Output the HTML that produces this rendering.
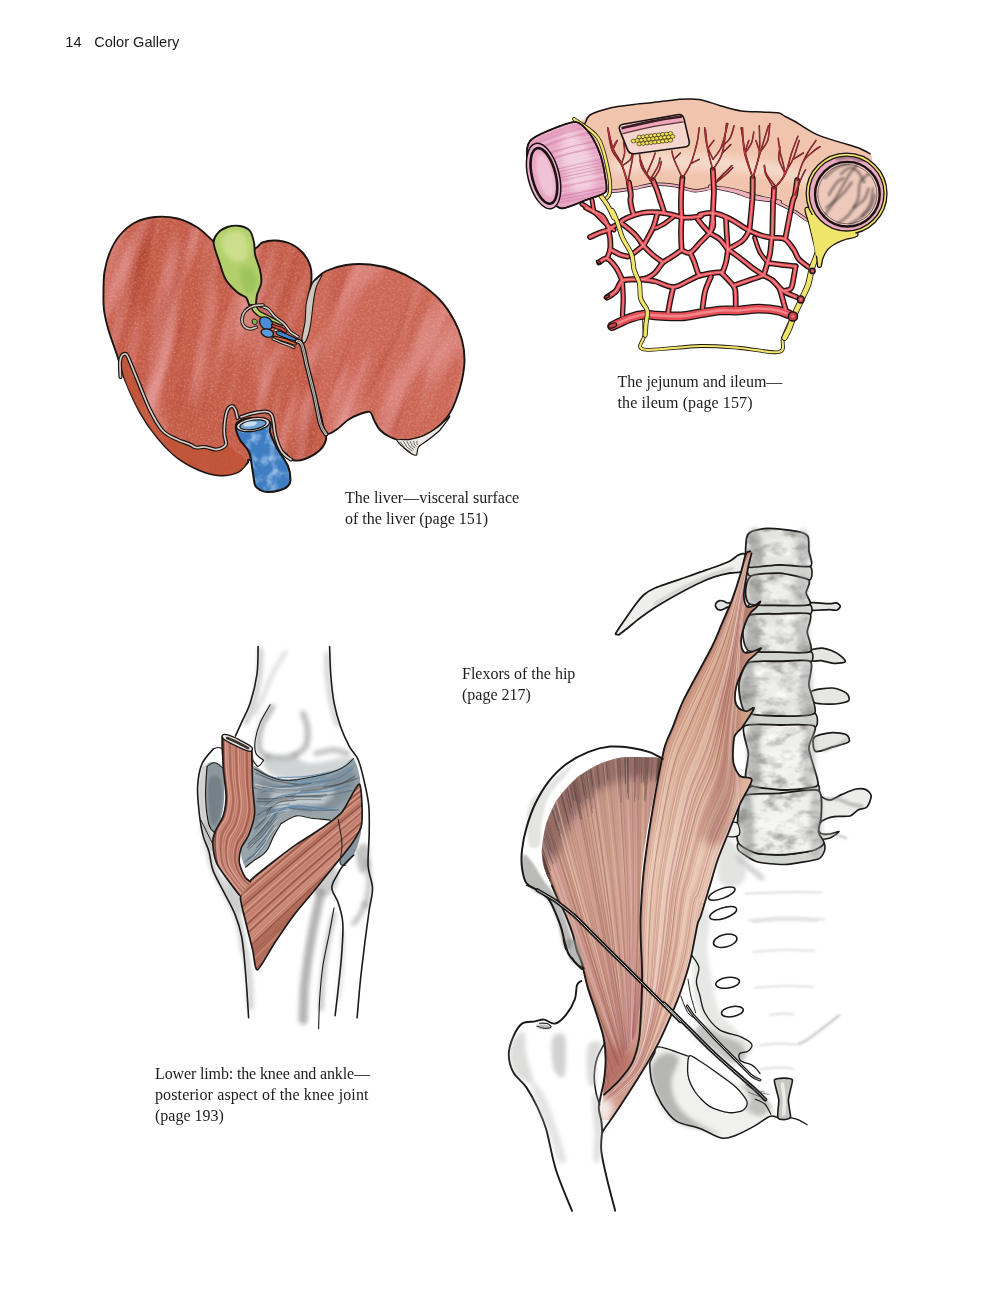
<!DOCTYPE html>
<html><head><meta charset="utf-8"><title>Color Gallery</title>
<style>html,body{margin:0;padding:0;background:#fff}svg{display:block}</style></head>
<body><svg width="1000" height="1294" viewBox="0 0 1000 1294">
<rect width="1000" height="1294" fill="#ffffff"/>
<!-- defs -->
<defs>
<filter id="mottle" x="0" y="0" width="100%" height="100%" color-interpolation-filters="sRGB">
  <feTurbulence type="fractalNoise" baseFrequency="0.045 0.008" numOctaves="2" seed="7" result="n"/>
  <feColorMatrix in="n" type="matrix" values="0 0 0 0 0.90  0 0 0 0 0.62  0 0 0 0 0.62  2.2 0 0 0 -1.0" result="light"/>
  <feColorMatrix in="n" type="matrix" values="0 0 0 0 0.66  0 0 0 0 0.22  0 0 0 0 0.15  0 -2.4 0 0 1.05" result="dark"/>
  <feTurbulence type="fractalNoise" baseFrequency="0.55" numOctaves="2" seed="3" result="g"/>
  <feColorMatrix in="g" type="matrix" values="0 0 0 0 1  0 0 0 0 0.8  0 0 0 0 0.72  0 0.9 0 0 -0.4" result="grain"/>
  <feMerge result="m"><feMergeNode in="SourceGraphic"/><feMergeNode in="dark"/><feMergeNode in="light"/><feMergeNode in="grain"/></feMerge>
  <feComposite in="m" in2="SourceGraphic" operator="in"/>
</filter>
<filter id="grain" x="0" y="0" width="100%" height="100%" color-interpolation-filters="sRGB">
  <feTurbulence type="fractalNoise" baseFrequency="0.09" numOctaves="3" seed="11" result="g"/>
  <feColorMatrix in="g" type="matrix" values="0 0 0 0 0.8  0 0 0 0 0.9  0 0 0 0 1  0 1.6 0 0 -0.7" result="grain"/>
  <feMerge result="m"><feMergeNode in="SourceGraphic"/><feMergeNode in="grain"/></feMerge>
  <feComposite in="m" in2="SourceGraphic" operator="in"/>
</filter>
<filter id="soft" x="-10%" y="-10%" width="120%" height="120%"><feGaussianBlur stdDeviation="2.2"/></filter>
<filter id="soft1" x="-10%" y="-10%" width="120%" height="120%"><feGaussianBlur stdDeviation="1.1"/></filter>
<filter id="soft4" x="-20%" y="-20%" width="140%" height="140%"><feGaussianBlur stdDeviation="4"/></filter>
<filter id="bonetex" x="0" y="0" width="100%" height="100%" color-interpolation-filters="sRGB">
  <feTurbulence type="fractalNoise" baseFrequency="0.06 0.09" numOctaves="3" seed="21" result="n"/>
  <feColorMatrix in="n" type="matrix" values="0 0 0 0 0.52  0 0 0 0 0.52  0 0 0 0 0.5  2.1 0 0 0 -0.93" result="dark"/>
  <feColorMatrix in="n" type="matrix" values="0 0 0 0 1  0 0 0 0 1  0 0 0 0 1  0 -2.6 0 0 1.15" result="light"/>
  <feMerge result="m"><feMergeNode in="SourceGraphic"/><feMergeNode in="dark"/><feMergeNode in="light"/></feMerge>
  <feComposite in="m" in2="SourceGraphic" operator="in"/>
</filter>
</defs>
<!-- liver -->
<clipPath id="lvL"><path d="M103.5 292C103.6 285.7 103.4 278.7 104.5 272C105.6 265.3 107.4 258.2 110 252C112.6 245.8 115.8 239.9 120 235C124.2 230.1 129.2 225.5 135 222.5C140.8 219.5 147.9 217.7 155 217C162.1 216.3 170.4 216.8 177.5 218.5C184.6 220.2 191.6 223.8 197.5 227.5C203.4 231.2 207.6 236.4 213 241C218.4 245.6 223.2 253.7 230 255C236.8 256.3 248.6 251.1 254 249C259.4 246.9 259 243.9 262.5 242.5C266 241.1 270.4 240.3 275 240.5C279.6 240.7 285.4 241.5 290 243.5C294.6 245.5 299.2 248.9 302.5 252.5C305.8 256.1 308.5 260.8 310 265C311.5 269.2 311.7 272.2 311.5 278C311.3 283.8 309.9 292.7 309 300C308.1 307.3 307 315.3 306 322C305 328.7 302.7 332 303 340C303.3 348 306 360 308 370C310 380 313 390.8 315 400C317 409.2 318.3 419.5 320 425C321.7 430.5 324 430.5 325 433C326 435.5 326.8 437.2 326 440C325.2 442.8 323.5 446.8 320 450C316.5 453.2 309.7 457.3 305 459C300.3 460.7 295.7 461 292 460C288.3 459 286.7 451.3 283 453C279.3 454.7 275.5 468.8 270 470C264.5 471.2 253.8 461.2 250 460C246.2 458.8 249.6 460.9 247.5 463C245.4 465.1 242.1 470.4 237.5 472.5C232.9 474.6 226.2 475.8 220 475.5C213.8 475.2 207.1 473.4 200 470.5C192.9 467.6 184.6 463.4 177.5 458C170.4 452.6 163.8 445.6 157.5 438C151.2 430.4 145.4 422.2 140 412.5C134.6 402.8 128.8 389.6 125 380C121.2 370.4 119.8 363.3 117 355C114.2 346.7 110.7 337.5 108.5 330C106.3 322.5 104.8 316.3 104 310C103.2 303.7 103.4 298.3 103.5 292Z"/></clipPath>
<g clip-path="url(#lvL)"><rect x="60" y="150" width="330" height="380" fill="#c25a47" filter="url(#mottle)" transform="rotate(14 210 340)"/></g>
<path d="M103.5 292C103.6 285.7 103.4 278.7 104.5 272C105.6 265.3 107.4 258.2 110 252C112.6 245.8 115.8 239.9 120 235C124.2 230.1 129.2 225.5 135 222.5C140.8 219.5 147.9 217.7 155 217C162.1 216.3 170.4 216.8 177.5 218.5C184.6 220.2 191.6 223.8 197.5 227.5C203.4 231.2 207.6 236.4 213 241C218.4 245.6 223.2 253.7 230 255C236.8 256.3 248.6 251.1 254 249C259.4 246.9 259 243.9 262.5 242.5C266 241.1 270.4 240.3 275 240.5C279.6 240.7 285.4 241.5 290 243.5C294.6 245.5 299.2 248.9 302.5 252.5C305.8 256.1 308.5 260.8 310 265C311.5 269.2 311.7 272.2 311.5 278C311.3 283.8 309.9 292.7 309 300C308.1 307.3 307 315.3 306 322C305 328.7 302.7 332 303 340C303.3 348 306 360 308 370C310 380 313 390.8 315 400C317 409.2 318.3 419.5 320 425C321.7 430.5 324 430.5 325 433C326 435.5 326.8 437.2 326 440C325.2 442.8 323.5 446.8 320 450C316.5 453.2 309.7 457.3 305 459C300.3 460.7 295.7 461 292 460C288.3 459 286.7 451.3 283 453C279.3 454.7 275.5 468.8 270 470C264.5 471.2 253.8 461.2 250 460C246.2 458.8 249.6 460.9 247.5 463C245.4 465.1 242.1 470.4 237.5 472.5C232.9 474.6 226.2 475.8 220 475.5C213.8 475.2 207.1 473.4 200 470.5C192.9 467.6 184.6 463.4 177.5 458C170.4 452.6 163.8 445.6 157.5 438C151.2 430.4 145.4 422.2 140 412.5C134.6 402.8 128.8 389.6 125 380C121.2 370.4 119.8 363.3 117 355C114.2 346.7 110.7 337.5 108.5 330C106.3 322.5 104.8 316.3 104 310C103.2 303.7 103.4 298.3 103.5 292Z" fill="none" stroke="#1a1412" stroke-width="1.9"/>
<path d="M121 357C121.2 352.7 123.2 350.2 126 354C128.8 357.8 133.5 370.7 137.5 380C141.5 389.3 145.8 401.7 150 410C154.2 418.3 155.8 424.3 162.5 430C169.2 435.7 181.2 440.8 190 444C198.8 447.2 209 448.8 215 449C221 449.2 222.5 444.5 226 445C229.5 445.5 232.7 449.2 236 452C239.3 454.8 245.8 458.7 246 462C246.2 465.3 241.8 469.8 237.5 472C233.2 474.2 226.2 475.3 220 475C213.8 474.7 207.1 472.9 200 470C192.9 467.1 184.6 462.9 177.5 457.5C170.4 452.1 163.8 445.1 157.5 437.5C151.2 429.9 145.4 421.6 140 412C134.6 402.4 128.2 389.2 125 380C121.8 370.8 120.8 361.3 121 357Z" fill="#bf5234" opacity="0.8"/>
<clipPath id="lvR"><path d="M316 279C318.5 276.5 321 273.3 326 271C331 268.7 338.7 266.1 346 265C353.3 263.9 362 263.7 370 264.5C378 265.3 386 267.1 394 270C402 272.9 410.3 277 418 282C425.7 287 434 293.7 440 300C446 306.3 450.3 313.3 454 320C457.7 326.7 460.2 333.3 462 340C463.8 346.7 464.5 353.3 464.5 360C464.5 366.7 463.4 373.3 462 380C460.6 386.7 458.3 394 456 400C453.7 406 451.7 411 448 416C444.3 421 439 426.3 434 430C429 433.7 423.3 436.2 418 438C412.7 439.8 406.7 440.7 402 440.5C397.3 440.3 393.7 438.8 390 437C386.3 435.2 382.7 432.8 380 430C377.3 427.2 375.7 423 374 420C372.3 417 372.3 413 370 412C367.7 411 363.7 412.7 360 414C356.3 415.3 352 417.3 348 420C344 422.7 339.7 427.8 336 430C332.3 432.2 328.5 435.8 326 433.5C323.5 431.2 322.9 422.9 321 416C319.1 409.1 316.6 399.7 314.5 392C312.4 384.3 310.4 376.7 308.5 370C306.6 363.3 304.2 356.7 303 352C301.8 347.3 301.2 345 301.5 342C301.8 339 303.5 337.7 304.5 334C305.5 330.3 306.8 325.7 307.5 320C308.2 314.3 307.9 305.7 308.5 300C309.1 294.3 309.8 289.5 311 286C312.2 282.5 313.5 281.5 316 279Z"/></clipPath>
<g clip-path="url(#lvR)"><rect x="250" y="200" width="270" height="300" fill="#ca6555" filter="url(#mottle)" transform="rotate(22 380 350)"/></g>
<path d="M316 279C318.5 276.5 321 273.3 326 271C331 268.7 338.7 266.1 346 265C353.3 263.9 362 263.7 370 264.5C378 265.3 386 267.1 394 270C402 272.9 410.3 277 418 282C425.7 287 434 293.7 440 300C446 306.3 450.3 313.3 454 320C457.7 326.7 460.2 333.3 462 340C463.8 346.7 464.5 353.3 464.5 360C464.5 366.7 463.4 373.3 462 380C460.6 386.7 458.3 394 456 400C453.7 406 451.7 411 448 416C444.3 421 439 426.3 434 430C429 433.7 423.3 436.2 418 438C412.7 439.8 406.7 440.7 402 440.5C397.3 440.3 393.7 438.8 390 437C386.3 435.2 382.7 432.8 380 430C377.3 427.2 375.7 423 374 420C372.3 417 372.3 413 370 412C367.7 411 363.7 412.7 360 414C356.3 415.3 352 417.3 348 420C344 422.7 339.7 427.8 336 430C332.3 432.2 328.5 435.8 326 433.5C323.5 431.2 322.9 422.9 321 416C319.1 409.1 316.6 399.7 314.5 392C312.4 384.3 310.4 376.7 308.5 370C306.6 363.3 304.2 356.7 303 352C301.8 347.3 301.2 345 301.5 342C301.8 339 303.5 337.7 304.5 334C305.5 330.3 306.8 325.7 307.5 320C308.2 314.3 307.9 305.7 308.5 300C309.1 294.3 309.8 289.5 311 286C312.2 282.5 313.5 281.5 316 279Z" fill="none" stroke="#1a1412" stroke-width="1.9"/>
<path d="M450 416C450.3 416.4 442.9 426.8 440 430C437.1 433.2 430.9 437.7 428 440C425.1 442.3 420 445 418.5 447C417 449 417.4 454.1 416.5 455C415.6 455.9 413.7 454.9 412 454C410.3 453.1 406 449.9 404 448C402 446.1 396.2 441.1 397 440C397.8 438.9 406.4 440.1 410 439.5C413.6 438.9 420.3 437.2 424 435.5C427.7 433.8 434.5 429.6 438 427C441.5 424.4 449.7 415.6 450 416Z" fill="#ece8e3" stroke="#1a1412" stroke-width="1.2"/>
<path d="M400 441.5 L404.9 448.2 L411 452.5" fill="none" stroke="#3a3430" stroke-width="0.7"/>
<path d="M403.4 441.4 L407.3 447.4 L412.4 451" fill="none" stroke="#3a3430" stroke-width="0.7"/>
<path d="M406.8 441.2 L409.7 446.6 L413.8 449.5" fill="none" stroke="#3a3430" stroke-width="0.7"/>
<path d="M410.2 441.1 L412.1 445.7 L415.2 448" fill="none" stroke="#3a3430" stroke-width="0.7"/>
<path d="M413.6 440.9 L414.5 444.9 L416.6 446.5" fill="none" stroke="#3a3430" stroke-width="0.7"/>
<path d="M417 440.8 L416.9 444.1 L418 445" fill="none" stroke="#3a3430" stroke-width="0.7"/>
<path d="M312 284C313.6 280.2 314.3 281 316 279.5C317.7 278 322 273.6 322 275C322 276.4 317.5 283 316 288C314.5 293 313.8 299.3 313 305C312.2 310.7 311.8 316.8 311 322C310.2 327.2 309.2 332.5 308 336C306.8 339.5 305 342.7 304 343C303 343.3 301.8 341.5 302 338C302.2 334.5 304.2 328 305 322C305.8 316 305.3 308.3 306.5 302C307.7 295.7 310.4 287.8 312 284Z" fill="#cfc6bd" stroke="#1a1412" stroke-width="1.1"/>
<path d="M297 341C297.8 341.7 300.2 340.5 302 345C303.8 349.5 305.4 359.5 307.5 368C309.6 376.5 312.3 386.7 314.5 396C316.7 405.3 318.6 417.7 320.5 424C322.4 430.3 325.1 432.3 326 434" fill="none" stroke="#1a1412" stroke-width="5" stroke-linecap="round"/>
<path d="M297 341C297.8 341.7 300.2 340.5 302 345C303.8 349.5 305.4 359.5 307.5 368C309.6 376.5 312.3 386.7 314.5 396C316.7 405.3 318.6 417.7 320.5 424C322.4 430.3 325.1 432.3 326 434" fill="none" stroke="#d6cfc7" stroke-width="2.4" stroke-linecap="round"/>
<path d="M297 341C297.8 341.7 300.2 340.5 302 345C303.8 349.5 305.4 359.5 307.5 368C309.6 376.5 312.3 386.7 314.5 396C316.7 405.3 318.6 417.7 320.5 424C322.4 430.3 325.1 432.3 326 434" fill="none" stroke="#1a1412" stroke-width="0.5"/>
<path d="M120.5 377C120.4 374.5 119.8 365.6 120 362C120.2 358.4 120.9 356.8 122 355.5C123.1 354.2 125 353.1 126.5 354.5C128 355.9 129.2 359.8 131 364C132.8 368.2 134.3 372.3 137.5 380C140.7 387.7 145.8 401.6 150 410C154.2 418.4 158.2 425.7 162.5 430.5C166.8 435.3 171.4 436.7 176 439C180.6 441.3 186.7 443.1 190 444.5C193.3 445.9 193.5 447.1 196 447.5C198.5 447.9 201.8 446.7 205 447C208.2 447.3 212.2 449.3 215 449.5C217.8 449.7 220.2 448.9 222 448C223.8 447.1 225.6 446.2 226 444C226.4 441.8 224.8 438.2 224.5 435C224.2 431.8 224.1 429 224.5 425C224.9 421 225.8 414.2 227 411C228.2 407.8 230.6 406.2 232 406C233.4 405.8 234.6 408 235.5 410C236.4 412 237.2 416.7 237.5 418" fill="none" stroke="#1a1412" stroke-width="4.1" stroke-linecap="round" stroke-linejoin="round"/>
<path d="M120.5 377C120.4 374.5 119.8 365.6 120 362C120.2 358.4 120.9 356.8 122 355.5C123.1 354.2 125 353.1 126.5 354.5C128 355.9 129.2 359.8 131 364C132.8 368.2 134.3 372.3 137.5 380C140.7 387.7 145.8 401.6 150 410C154.2 418.4 158.2 425.7 162.5 430.5C166.8 435.3 171.4 436.7 176 439C180.6 441.3 186.7 443.1 190 444.5C193.3 445.9 193.5 447.1 196 447.5C198.5 447.9 201.8 446.7 205 447C208.2 447.3 212.2 449.3 215 449.5C217.8 449.7 220.2 448.9 222 448C223.8 447.1 225.6 446.2 226 444C226.4 441.8 224.8 438.2 224.5 435C224.2 431.8 224.1 429 224.5 425C224.9 421 225.8 414.2 227 411C228.2 407.8 230.6 406.2 232 406C233.4 405.8 234.6 408 235.5 410C236.4 412 237.2 416.7 237.5 418" fill="none" stroke="#d8cec6" stroke-width="1.7" stroke-linecap="round"/>
<path d="M241 417C242.8 416.4 248 414.4 252 413.5C256 412.6 261.8 411.4 265 411.5C268.2 411.6 269.6 412.2 271 414C272.4 415.8 272.8 418.3 273.5 422C274.2 425.7 274.1 431 275.5 436C276.9 441 279.4 448.1 282 452C284.6 455.9 289.5 458.2 291 459.5" fill="none" stroke="#1a1412" stroke-width="4.1" stroke-linecap="round"/>
<path d="M241 417C242.8 416.4 248 414.4 252 413.5C256 412.6 261.8 411.4 265 411.5C268.2 411.6 269.6 412.2 271 414C272.4 415.8 272.8 418.3 273.5 422C274.2 425.7 274.1 431 275.5 436C276.9 441 279.4 448.1 282 452C284.6 455.9 289.5 458.2 291 459.5" fill="none" stroke="#d8cec6" stroke-width="1.7" stroke-linecap="round"/>
<path d="M236 429C236.3 432 237.8 436.2 240 440C242.2 443.8 246.9 447 249 452C251.1 457 251.5 464.5 252.5 470C253.5 475.5 253.8 481.7 255 485C256.2 488.3 258 488.8 260 490C262 491.2 263.8 491.9 267 492C270.2 492.1 275.5 491.5 279 490.5C282.5 489.5 286.1 487.8 288 486C289.9 484.2 290.5 483.3 290.5 480C290.5 476.7 290.2 471.3 288 466C285.8 460.7 280 453.7 277 448C274 442.3 271.2 436.3 270 432C268.8 427.7 272.8 424.3 270 422C267.2 419.7 258.3 418 253 418C247.7 418 240.8 420.2 238 422C235.2 423.8 235.7 426 236 429Z" fill="#3f7ec2" filter="url(#grain)"/>
<path d="M236 429C236.3 432 237.8 436.2 240 440C242.2 443.8 246.9 447 249 452C251.1 457 251.5 464.5 252.5 470C253.5 475.5 253.8 481.7 255 485C256.2 488.3 258 488.8 260 490C262 491.2 263.8 491.9 267 492C270.2 492.1 275.5 491.5 279 490.5C282.5 489.5 286.1 487.8 288 486C289.9 484.2 290.5 483.3 290.5 480C290.5 476.7 290.2 471.3 288 466C285.8 460.7 280 453.7 277 448C274 442.3 271.2 436.3 270 432C268.8 427.7 272.8 424.3 270 422C267.2 419.7 258.3 418 253 418C247.7 418 240.8 420.2 238 422C235.2 423.8 235.7 426 236 429Z" fill="none" stroke="#1a1412" stroke-width="2"/>
<ellipse cx="253" cy="424.5" rx="16.6" ry="6.8" transform="rotate(-9 253 424.5)" fill="#e8e4e0" stroke="#1a1412" stroke-width="1.3"/>
<ellipse cx="253" cy="424.8" rx="13.3" ry="4.6" transform="rotate(-9 253 424.8)" fill="#6fa3d6" stroke="#1a1412" stroke-width="1.2"/>
<ellipse cx="250" cy="424" rx="7" ry="2.4" transform="rotate(-9 250 424)" fill="#c9dceb"/>
<path d="M213.7 243C213.4 238.2 215.2 236.2 217.5 233.5C219.8 230.8 223.8 228.2 227.5 227C231.2 225.8 236.2 225.3 240 226C243.8 226.7 247.7 228.2 250 231C252.3 233.8 253.1 238.5 254 242.5C254.9 246.5 254.2 250.4 255.2 255C256.2 259.6 259 265.4 260 270C261 274.6 261.8 278.3 261.3 282.5C260.8 286.7 258 291.1 257 295C256 298.9 256.5 304.1 255.3 306C254.1 307.9 251.6 307.9 250 306.5C248.4 305.1 248.1 299.8 246 297.5C243.9 295.2 240.8 295.4 237.5 292.5C234.2 289.6 229 285 226 280C223 275 221.6 268.7 219.5 262.5C217.4 256.3 214 247.8 213.7 243Z" fill="#b3cf6c" stroke="#1a1412" stroke-width="1.9"/>
<path d="M222 240C222.7 236.2 227 233.3 230 232C233 230.7 237.2 230.7 240 232C242.8 233.3 245.7 236 247 240C248.3 244 249.5 252.3 248 256C246.5 259.7 241.7 262.2 238 262C234.3 261.8 228.7 258.7 226 255C223.3 251.3 221.3 243.8 222 240Z" fill="#cfe08f" filter="url(#soft)" opacity="0.9"/>
<path d="M240 270C241.3 266.3 249.2 266 252 268C254.8 270 257 277.7 257 282C257 286.3 254.2 292.7 252 294C249.8 295.3 246 294 244 290C242 286 238.7 273.7 240 270Z" fill="#9cc25a" filter="url(#soft)" opacity="0.8"/>
<path d="M250.4 305C251.1 304.9 254.8 304.8 255.6 305C256.4 305.2 255.6 305.6 256.2 306.5C256.8 307.4 258.6 310.4 260 311.5C261.4 312.6 265 314 267 315C269 316 272.9 318.1 275 319.2C277.1 320.3 282.1 322.7 283 323.5C283.9 324.3 283.2 325.4 282 325.2C280.8 325 276.1 323 274 322.2C271.9 321.4 268 319.8 266 319C264 318.2 260.7 317.2 259 316.2C257.3 315.2 254.6 312.9 253.5 311.5C252.4 310.1 250.9 306.9 250.5 306C250.1 305.1 249.7 305.1 250.4 305Z" fill="#b6d169" stroke="#1a1412" stroke-width="1.3"/>
<path d="M260 305.8C261.3 306.3 265.5 307 268 308.8C270.5 310.6 272.3 314.3 275 316.8C277.7 319.3 281.5 321.4 284 323.8C286.5 326.2 287.7 329.3 290 331.5C292.3 333.7 296.7 335.9 298 336.8" fill="none" stroke="#1a1412" stroke-width="3.5" stroke-linecap="round" stroke-linejoin="round"/>
<path d="M260 305.8C261.3 306.3 265.5 307 268 308.8C270.5 310.6 272.3 314.3 275 316.8C277.7 319.3 281.5 321.4 284 323.8C286.5 326.2 287.7 329.3 290 331.5C292.3 333.7 296.7 335.9 298 336.8" fill="none" stroke="#d9d3cc" stroke-width="1.6" stroke-linecap="round" stroke-linejoin="round"/>
<path d="M263 305C261.4 305.2 256.2 305 253.2 306C250.2 307 247.1 308.8 245.2 311C243.3 313.2 242.2 316.5 242 319C241.8 321.5 242.7 324.3 244 326C245.3 327.7 248 328.8 250 329C252 329.2 255.2 327.5 256.2 327.2" fill="none" stroke="#1a1412" stroke-width="3.6" stroke-linecap="round" stroke-linejoin="round"/>
<path d="M263 305C261.4 305.2 256.2 305 253.2 306C250.2 307 247.1 308.8 245.2 311C243.3 313.2 242.2 316.5 242 319C241.8 321.5 242.7 324.3 244 326C245.3 327.7 248 328.8 250 329C252 329.2 255.2 327.5 256.2 327.2" fill="none" stroke="#cfc8c1" stroke-width="1.7" stroke-linecap="round" stroke-linejoin="round"/>
<path d="M252.2 320C252.5 319.2 254 319 254.8 319.2C255.6 319.4 257 320.4 257.2 321.2C257.4 322 256.9 323.7 256.2 324.2C255.5 324.7 253.9 324.7 253.2 324C252.5 323.3 251.9 320.8 252.2 320Z" fill="#79b64a" stroke="#1a1412" stroke-width="1"/>
<path d="M260 319C260.6 317.6 262.3 316.8 264 316.8C265.7 316.8 268.6 317.8 270 319C271.4 320.2 272.3 322.4 272.5 324C272.7 325.6 272.2 327.6 271 328.5C269.8 329.4 266.8 329.8 265 329.2C263.2 328.6 261.3 326.7 260.5 325C259.7 323.3 259.4 320.4 260 319Z" fill="#4a8fd6" stroke="#1a1412" stroke-width="1.3"/>
<path d="M261.2 331C261.6 329.9 264.2 328.8 266 328.8C267.8 328.8 270.8 329.9 272 331C273.2 332.1 273.7 334.1 273.2 335.2C272.7 336.3 270.6 337.3 269 337.4C267.4 337.5 264.8 336.7 263.5 335.6C262.2 334.5 260.8 332.1 261.2 331Z" fill="#5b9bdc" stroke="#1a1412" stroke-width="1.3"/>
<path d="M277 331C277.9 330.7 280 331.3 282 332C284 332.7 286.8 334.2 289 335.2C291.2 336.2 294.5 337.3 295.5 338.2C296.5 339.1 296.2 340.4 295 340.5C293.8 340.6 290.3 339.7 288 339C285.7 338.3 282.9 337 281 336.2C279.1 335.4 277.5 334.9 276.8 334C276.1 333.1 276.1 331.3 277 331Z" fill="#3f86d2" stroke="#1a1412" stroke-width="1.2"/>
<path d="M271.8 324.5C272.5 324.3 275.1 325.2 277 325.8C278.9 326.4 281.3 326.8 283 327.8C284.7 328.8 286.7 331.2 287 332C287.3 332.8 286 333.2 284.8 332.8C283.6 332.4 282 330.7 280 329.8C278 328.9 274.4 328.1 273 327.2C271.6 326.3 271.1 324.7 271.8 324.5Z" fill="#e2453a" stroke="#1a1412" stroke-width="1.1"/>
<ellipse cx="275.8" cy="330.2" rx="1.9" ry="1.4" fill="#efe9e2" stroke="#1a1412" stroke-width="0.9"/>
<path d="M274 336.2C275.4 336.1 279.3 337.1 282 337.8C284.7 338.5 287.7 339.6 290 340.5C292.3 341.4 295.2 342.2 296 343C296.8 343.8 296.3 345.2 295 345.2C293.7 345.2 290.5 343.6 288 342.8C285.5 342 282.4 341.2 280 340.5C277.6 339.8 274.6 339.3 273.6 338.6C272.6 337.9 272.6 336.3 274 336.2Z" fill="#d9693a" stroke="#1a1412" stroke-width="1.1"/>
<path d="M273 338.8C274.2 339.3 277.5 341 280 342C282.5 343 285.7 343.9 288 344.8C290.3 345.7 293 347.1 294 347.5" fill="none" stroke="#1a1412" stroke-width="3.2" stroke-linecap="round" stroke-linejoin="round"/>
<path d="M273 338.8C274.2 339.3 277.5 341 280 342C282.5 343 285.7 343.9 288 344.8C290.3 345.7 293 347.1 294 347.5" fill="none" stroke="#d8d2cb" stroke-width="1.3" stroke-linecap="round" stroke-linejoin="round"/>
<!-- ileum -->
<path d="M590 115C594.6 112.5 604.7 109.4 611 107.8C617.3 106.3 625.7 105.5 632 104.7C638.3 103.9 646.1 103.4 653 102.6C659.9 101.8 671.3 99.9 678.2 99.4C685.1 99 692.9 98.5 699.2 99.4C705.5 100.4 713.9 104 720.2 105.7C726.5 107.5 734.9 110.1 741.2 111C747.5 111.9 756.5 111.7 762.2 112C767.9 112.4 775.7 112.5 779 113.1C782.3 113.7 782.1 115 784.5 116.2C786.9 117.5 790.3 118.8 795 121.5C799.7 124.2 809.7 131.1 816 134.1C822.3 137.1 830.7 139.4 837 141.4C843.3 143.5 853 145.9 858 147.7C863 149.6 868.5 150.4 870.6 154C872.7 157.7 873.3 165.1 872 172C870.7 178.9 866 192.5 862 200C858 207.5 850.6 218.3 845 222C839.4 225.7 830 224.7 824.4 224.4C818.8 224.1 812 222.1 807.6 220.2C803.2 218.3 800 214.6 795 211.8C790 209 780.3 203.3 774 201.3C767.7 199.3 759.3 199.7 753 198.1C746.7 196.6 738.3 192.5 732 190.8C725.7 189.1 704 185 711 186.6C718 188.2 771.9 199.7 779 201.3C786 202.9 764.3 198.7 758 197.1C751.7 195.5 743.3 192.2 737 190.8C730.7 189.4 722.3 187.6 716 187.6C709.7 187.6 701.3 191.1 695 190.8C688.7 190.5 680.3 186.5 674 185.5C667.7 184.6 659.3 184 653 184.5C646.7 185 638.3 187.7 632 188.7C625.7 189.7 615.4 191.2 611 191.2C606.6 191.2 603.6 190.1 602.6 188.7C601.5 187.3 604.2 185.4 604 182C603.8 178.6 602.4 170.8 601 166C599.6 161.2 597.1 154.5 595 150C592.9 145.5 589.2 139.8 587 136C584.8 132.2 579.5 127.6 580 124.4C580.5 121.2 585.4 117.5 590 115Z" fill="#f0c4ad"/>
<path d="M615.2 159.3C621.5 155.8 639.7 154 653 153C666.3 151.9 681 152.3 695 153C709 153.7 723 155.4 737 157.2C751 158.9 765 160 779 163.5C793 167 814 174 821 178.2C828 182.4 828 188.7 821 188.7C814 188.7 793 181 779 178.2C765 175.4 751 173.3 737 171.9C723 170.5 709 170.1 695 169.8C681 169.4 666.3 169.1 653 169.8C639.7 170.5 621.5 175.7 615.2 174C608.9 172.2 608.9 162.8 615.2 159.3Z" fill="#f6dccc" filter="url(#soft4)" opacity="0.9"/>
<path d="M576 120C577.3 120.6 582.3 124.8 584.4 124C586.5 123.2 586 117.4 590 115C594 112.6 604.7 109.4 611 107.8C617.3 106.3 625.7 105.5 632 104.7C638.3 103.9 646.1 103.4 653 102.6C659.9 101.8 671.3 99.9 678.2 99.4C685.1 99 692.9 98.5 699.2 99.4C705.5 100.4 713.9 104 720.2 105.7C726.5 107.5 734.9 110.1 741.2 111C747.5 111.9 756.5 111.7 762.2 112C767.9 112.4 775.7 112.5 779 113.1C782.3 113.7 782.1 115 784.5 116.2C786.9 117.5 790.3 118.8 795 121.5C799.7 124.2 809.7 131.1 816 134.1C822.3 137.1 830.7 139.4 837 141.4C843.3 143.5 853 145.9 858 147.7C863 149.6 868.7 153.1 870.6 154" fill="none" stroke="#1a1210" stroke-width="1.5"/>
<path d="M824.4 224.4C821.9 223.8 812 222.1 807.6 220.2C803.2 218.3 800 214.6 795 211.8C790 209 780.3 203.3 774 201.3C767.7 199.3 759.3 199.7 753 198.1C746.7 196.6 738.3 192.5 732 190.8C725.7 189.1 704 185 711 186.6C718 188.2 771.9 199.7 779 201.3C786 202.9 764.3 198.7 758 197.1C751.7 195.5 743.3 192.2 737 190.8C730.7 189.4 722.3 187.6 716 187.6C709.7 187.6 701.3 191.1 695 190.8C688.7 190.5 680.3 186.5 674 185.5C667.7 184.6 659.3 184 653 184.5C646.7 185 638.3 187.7 632 188.7C625.7 189.7 615.4 191.2 611 191.2C606.6 191.2 603.9 189.1 602.6 188.7" fill="none" stroke="#1a1210" stroke-width="3.4"/>
<path d="M824.4 224.4C821.9 223.8 812 222.1 807.6 220.2C803.2 218.3 800 214.6 795 211.8C790 209 780.3 203.3 774 201.3C767.7 199.3 759.3 199.7 753 198.1C746.7 196.6 738.3 192.5 732 190.8C725.7 189.1 704 185 711 186.6C718 188.2 771.9 199.7 779 201.3C786 202.9 764.3 198.7 758 197.1C751.7 195.5 743.3 192.2 737 190.8C730.7 189.4 722.3 187.6 716 187.6C709.7 187.6 701.3 191.1 695 190.8C688.7 190.5 680.3 186.5 674 185.5C667.7 184.6 659.3 184 653 184.5C646.7 185 638.3 187.7 632 188.7C625.7 189.7 615.4 191.2 611 191.2C606.6 191.2 603.9 189.1 602.6 188.7" fill="none" stroke="#eeb0bd" stroke-width="2.1"/>
<path d="M644 318C644.1 320.8 644.5 329.8 644.5 335C644.5 340.2 634.8 347.7 644 349.5C653.2 351.3 684 346.2 700 346C716 345.8 726.8 347 740 348C753.2 349 771.8 353.7 779 352C786.2 350.3 781.2 343 783 338C784.8 333 788.8 324.7 790 322" fill="none" stroke="#1a1210" stroke-width="3.8" stroke-linecap="round" stroke-linejoin="round"/>
<path d="M644 318C644.1 320.8 644.5 329.8 644.5 335C644.5 340.2 634.8 347.7 644 349.5C653.2 351.3 684 346.2 700 346C716 345.8 726.8 347 740 348C753.2 349 771.8 353.7 779 352C786.2 350.3 781.2 343 783 338C784.8 333 788.8 324.7 790 322" fill="none" stroke="#efe56b" stroke-width="2.2" stroke-linecap="round" stroke-linejoin="round"/>
<path d="M606.9 297.5C608.4 296.4 613.4 293.8 616 291C618.6 288.2 619.3 282.6 622.5 280.6C625.8 278.7 633.3 279.5 635.5 279.3" fill="none" stroke="#1a1210" stroke-width="6.3" stroke-linecap="round" stroke-linejoin="round"/>
<path d="M622.5 280.6C621.4 278.4 618.6 271.3 616 267.6C613.4 263.9 609.7 259.4 606.9 258.5C604.1 257.6 600.4 261.8 599.1 262.4" fill="none" stroke="#1a1210" stroke-width="5.9" stroke-linecap="round" stroke-linejoin="round"/>
<path d="M606.9 258.5C607.4 257 609.6 252.7 610.2 249.4C610.7 246.2 610.3 242.3 610.2 239C610 235.8 608.2 232.4 609.5 229.9C610.8 227.4 616.5 225 618 224.1" fill="none" stroke="#1a1210" stroke-width="5.8" stroke-linecap="round" stroke-linejoin="round"/>
<path d="M610.2 249.4C611.8 250.3 617 253.4 619.9 254.6C622.8 255.8 626.4 256.2 627.7 256.6" fill="none" stroke="#1a1210" stroke-width="5.9" stroke-linecap="round" stroke-linejoin="round"/>
<path d="M609.5 229.9C608 230.3 603.7 231.3 600.4 232.5C597.2 233.7 591.7 236.3 590 237.1" fill="none" stroke="#1a1210" stroke-width="5.8" stroke-linecap="round" stroke-linejoin="round"/>
<path d="M609.5 229.9C608.4 227.7 605.6 219.9 603 216.9C600.4 213.9 596.7 213.2 593.9 211.7C591.1 210.2 587.4 208.5 586.1 207.8" fill="none" stroke="#1a1210" stroke-width="5.8" stroke-linecap="round" stroke-linejoin="round"/>
<path d="M622.5 283.2C622.6 285.8 623.2 293.4 623.2 298.8C623.2 304.2 622.6 312.9 622.5 315.7" fill="none" stroke="#1a1210" stroke-width="5.3" stroke-linecap="round" stroke-linejoin="round"/>
<path d="M582 204C584 205.3 590.3 209 594 212C597.7 215 600.7 219 604 222C607.3 225 612.3 228.7 614 230" fill="none" stroke="#1a1210" stroke-width="5.1" stroke-linecap="round" stroke-linejoin="round"/>
<path d="M592 200 L594 212" fill="none" stroke="#1a1210" stroke-width="4.9" stroke-linecap="round" stroke-linejoin="round"/>
<path d="M612.1 326.1C614.9 324.8 623.6 320.2 629 318.3C634.4 316.4 639.8 315.1 644.6 314.7C649.4 314.2 651.5 315.4 657.6 315.7C663.7 316 673.9 316.7 681 316.4C688.2 316 694 314.3 700.5 313.4C707 312.4 713.6 311 720 310.5C726.4 310 732.6 310.8 739 310.5C745.4 310.2 752 308.7 758.5 308.7C765 308.7 772.9 309.6 778 310.5C783.1 311.5 787.2 313.8 789.1 314.4" fill="none" stroke="#1a1210" stroke-width="9.7" stroke-linecap="round" stroke-linejoin="round"/>
<path d="M618 224.1C619.4 223.1 622.4 220 626.4 218.2C630.4 216.4 636.8 214 642 213C647.2 212 652.4 212 657.6 212.4C662.8 212.7 668.9 214.1 673.2 215C677.5 215.8 679.1 217.3 683.6 217.6C688.2 217.8 697.8 216.7 700.5 216.3C703.2 215.8 697.9 215.1 700 214.6C702.1 214 708.2 212.4 713 213C717.8 213.6 722.8 215.4 728.6 218.2C734.5 221 742.9 227.1 748.1 229.9C753.3 232.7 755.9 233.8 759.8 235.1C763.7 236.4 767.4 237.1 771.5 237.7C775.6 238.4 780.8 237.1 784.5 239C788.2 241 791.2 246 793.6 249.4C796 252.8 796.3 256.2 798.8 259.2C801.3 262.1 806.9 265.7 808.6 267" fill="none" stroke="#1a1210" stroke-width="5.8" stroke-linecap="round" stroke-linejoin="round"/>
<path d="M633.6 214.3C633.2 213.2 632.1 210.2 631.6 207.8C631.1 205.4 630.4 202.1 630.3 200C630.2 197.9 631.2 197.9 630.9 195C630.7 192.1 629.2 184.5 628.8 182.4" fill="none" stroke="#1a1210" stroke-width="5.8" stroke-linecap="round" stroke-linejoin="round"/>
<path d="M664.1 213C663.9 212.1 663.5 210 662.8 207.8C662.2 205.6 661.1 202.8 660.2 200C659.3 197.2 658.4 194.1 657.2 190.8C656 187.5 653.7 182 653 180.3" fill="none" stroke="#1a1210" stroke-width="5.8" stroke-linecap="round" stroke-linejoin="round"/>
<path d="M681.7 216.9C681.5 215.6 681.1 211.9 681 209.1C680.9 206.3 680.9 203.1 681 200C681.1 196.9 681.1 194.4 681.3 190.8C681.6 187.2 682.2 180.3 682.4 178.2" fill="none" stroke="#1a1210" stroke-width="5.8" stroke-linecap="round" stroke-linejoin="round"/>
<path d="M712.9 214.3C713 211.9 713.3 203.9 713.5 200C713.7 196.1 714 195.8 713.9 190.8C713.8 185.8 713 173.3 712.8 169.8" fill="none" stroke="#1a1210" stroke-width="5.8" stroke-linecap="round" stroke-linejoin="round"/>
<path d="M749.4 230.2C749.7 226.9 750.9 215.4 751.4 210.4C751.8 205.4 752 203.6 752.3 200C752.5 196.4 752.7 192.3 752.7 188.7C752.8 185.1 752.7 179.9 752.7 178.2" fill="none" stroke="#1a1210" stroke-width="5.8" stroke-linecap="round" stroke-linejoin="round"/>
<path d="M772.2 237.7C772.3 233.6 772.7 219.3 772.8 213C773 206.7 772.9 202.3 773.1 200C773.2 197.7 773.4 201.1 773.6 199.2C773.7 197.3 773.9 190.4 774 188.7" fill="none" stroke="#1a1210" stroke-width="5.8" stroke-linecap="round" stroke-linejoin="round"/>
<path d="M785.2 239C785.9 235.1 788.4 222.1 789.7 215.6C791 209.1 792.1 203.4 793 200C793.8 196.6 794.3 198.3 795 195C795.7 191.7 796.7 182.7 797.1 180.3" fill="none" stroke="#1a1210" stroke-width="5.8" stroke-linecap="round" stroke-linejoin="round"/>
<path d="M657.6 212.4C657 214.6 655.4 221.6 653.7 226C652 230.4 648.9 235.8 647.2 239C645.5 242.3 644 244.4 643.3 245.5" fill="none" stroke="#1a1210" stroke-width="5.8" stroke-linecap="round" stroke-linejoin="round"/>
<path d="M655.7 228C656.8 227.4 659.9 226.5 662.8 224.7C665.7 222.9 671.5 218.2 673.2 216.9" fill="none" stroke="#1a1210" stroke-width="5.1" stroke-linecap="round" stroke-linejoin="round"/>
<path d="M643.3 245.5C642 243.8 638.5 238.4 635.5 235.1C632.5 231.9 627.5 228 625.1 226C622.7 224.1 621.9 223.8 621.2 223.4" fill="none" stroke="#1a1210" stroke-width="5.8" stroke-linecap="round" stroke-linejoin="round"/>
<path d="M643.3 245.5C642.2 246.4 638.8 249.2 636.8 250.7C634.9 252.2 632.5 254 631.6 254.6" fill="none" stroke="#1a1210" stroke-width="5.8" stroke-linecap="round" stroke-linejoin="round"/>
<path d="M643.3 245.5C644.8 247 649.2 251.8 652.4 254.6C655.7 257.4 661.1 261.1 662.8 262.4" fill="none" stroke="#1a1210" stroke-width="5.8" stroke-linecap="round" stroke-linejoin="round"/>
<path d="M662.8 262.4C664.5 261.3 670.1 258 673.2 255.9C676.3 253.8 680.2 251 681.7 250.1" fill="none" stroke="#1a1210" stroke-width="5.8" stroke-linecap="round" stroke-linejoin="round"/>
<path d="M662.8 262.4C661.5 264.1 657.6 270.2 655 272.8C652.4 275.4 649.6 276.9 647.2 278C644.8 279.1 641.8 279.1 640.7 279.3" fill="none" stroke="#1a1210" stroke-width="5.8" stroke-linecap="round" stroke-linejoin="round"/>
<path d="M681.7 250.1C681.5 247.1 681 237.9 681 232.5C681 227.1 681.5 220 681.7 217.6" fill="none" stroke="#1a1210" stroke-width="5.8" stroke-linecap="round" stroke-linejoin="round"/>
<path d="M681.7 250.1C683.1 250.5 687 254 690.1 252.7C693.2 251.4 697.3 245.5 700.5 242.3C703.8 239 708.1 234.7 709.6 233.2" fill="none" stroke="#1a1210" stroke-width="5.8" stroke-linecap="round" stroke-linejoin="round"/>
<path d="M690.1 252.7C690.8 254.1 692.7 257.7 694 261.1C695.3 264.5 696.8 270.4 697.9 272.8C699 275.2 700.1 275 700.5 275.4" fill="none" stroke="#1a1210" stroke-width="5.8" stroke-linecap="round" stroke-linejoin="round"/>
<path d="M709.6 233.2C708.5 232 705.1 228.3 703.1 226C701.2 223.7 698.8 220.6 697.9 219.5" fill="none" stroke="#1a1210" stroke-width="5.8" stroke-linecap="round" stroke-linejoin="round"/>
<path d="M709.6 233.2C710.3 232 713 229.1 713.5 226C714 222.9 713 216.3 712.9 214.3" fill="none" stroke="#1a1210" stroke-width="5.1" stroke-linecap="round" stroke-linejoin="round"/>
<path d="M640.7 279.3C643.1 279.6 649.6 280 655 281.3C660.4 282.6 667.6 287.2 673.2 287.1C678.8 287 684.3 282.6 688.8 280.6C693.4 278.7 695.3 276.8 700.5 275.4C705.7 274 716.4 272.5 720 272.2C723.6 271.8 721.8 273.2 722.1 273.5" fill="none" stroke="#1a1210" stroke-width="5.8" stroke-linecap="round" stroke-linejoin="round"/>
<path d="M673.2 287.1C672.8 289.1 671.5 294.5 670.6 298.8C669.7 303.1 668.4 310.7 668 313.1" fill="none" stroke="#1a1210" stroke-width="5.8" stroke-linecap="round" stroke-linejoin="round"/>
<path d="M710.9 276.7C710 279.1 706.6 285.8 705.2 291C703.8 296.2 703 305.1 702.6 307.9" fill="none" stroke="#1a1210" stroke-width="5.8" stroke-linecap="round" stroke-linejoin="round"/>
<path d="M713 213C712.8 215.2 712.2 222.6 711.7 226C711.2 229.4 710.4 232.3 710.1 233.5" fill="none" stroke="#1a1210" stroke-width="5.8" stroke-linecap="round" stroke-linejoin="round"/>
<path d="M710.1 233.5C711.7 234.5 716.5 236.4 719.5 239C722.5 241.6 726.5 247.7 728 249.4" fill="none" stroke="#1a1210" stroke-width="5.8" stroke-linecap="round" stroke-linejoin="round"/>
<path d="M726 217.6C726.1 220 726.3 227.2 726.7 232.5C727 237.8 727.7 246.6 728 249.4" fill="none" stroke="#1a1210" stroke-width="5.8" stroke-linecap="round" stroke-linejoin="round"/>
<path d="M728 249.4C730.4 247.9 739.4 243.4 742.9 240.3C746.4 237.2 748.1 232.5 749.1 230.9" fill="none" stroke="#1a1210" stroke-width="5.8" stroke-linecap="round" stroke-linejoin="round"/>
<path d="M728 249.4C727.6 251.6 727 258.4 726 262.4C725 266.4 722.8 271.6 722.1 273.5" fill="none" stroke="#1a1210" stroke-width="5.8" stroke-linecap="round" stroke-linejoin="round"/>
<path d="M728 249.4C729.8 250.7 735 254.2 739 257.2C743 260.2 747.9 264.6 752 267.6C756.1 270.6 761.8 274.1 763.7 275.4" fill="none" stroke="#1a1210" stroke-width="5.8" stroke-linecap="round" stroke-linejoin="round"/>
<path d="M722.1 273.5C723.6 275.1 729 280.5 731.2 283.2C733.4 285.9 734.3 286 735.1 289.7C735.9 293.4 735.6 302.7 735.8 305.3" fill="none" stroke="#1a1210" stroke-width="5.8" stroke-linecap="round" stroke-linejoin="round"/>
<path d="M734.5 285.2C737.4 284.2 747.1 280.9 752 279.3C756.9 277.7 761.8 276.1 763.7 275.4" fill="none" stroke="#1a1210" stroke-width="5.8" stroke-linecap="round" stroke-linejoin="round"/>
<path d="M763.7 275.4C764.4 273.2 766.5 266.3 767.6 262.4C768.7 258.5 769.6 256.1 770.2 252C770.9 247.9 771.3 240.1 771.5 237.7" fill="none" stroke="#1a1210" stroke-width="5.8" stroke-linecap="round" stroke-linejoin="round"/>
<path d="M754.6 237.7C755.5 240.1 757.6 247.9 759.8 252C762 256.1 766.3 260.7 767.6 262.4" fill="none" stroke="#1a1210" stroke-width="4.9" stroke-linecap="round" stroke-linejoin="round"/>
<path d="M763.7 275.4C765.2 276.3 769.6 278 772.8 280.6C776.1 283.2 779.3 288.3 783.2 291C787.1 293.7 794 295.9 796.2 296.9" fill="none" stroke="#1a1210" stroke-width="5.8" stroke-linecap="round" stroke-linejoin="round"/>
<path d="M772.8 280.6C773.9 281.9 777.7 285.4 779.3 288.4C780.9 291.4 781.5 295.1 782.6 298.8C783.6 302.5 785.3 308.6 785.8 310.5" fill="none" stroke="#1a1210" stroke-width="5.8" stroke-linecap="round" stroke-linejoin="round"/>
<path d="M768.9 263.1C771.3 263.4 778.8 264.5 783.2 265C787.6 265.5 793.5 266.1 795.6 266.3" fill="none" stroke="#1a1210" stroke-width="5.8" stroke-linecap="round" stroke-linejoin="round"/>
<path d="M795.6 266.3C795.2 268.3 794.4 274.3 793.6 278C792.8 281.7 792.6 286.2 791 288.4C789.4 290.6 785 290.6 783.9 291" fill="none" stroke="#1a1210" stroke-width="5.8" stroke-linecap="round" stroke-linejoin="round"/>
<path d="M606.9 297.5C608.4 296.4 613.4 293.8 616 291C618.6 288.2 619.3 282.6 622.5 280.6C625.8 278.7 633.3 279.5 635.5 279.3" fill="none" stroke="#e64d55" stroke-width="3.8" stroke-linecap="round" stroke-linejoin="round"/>
<path d="M622.5 280.6C621.4 278.4 618.6 271.3 616 267.6C613.4 263.9 609.7 259.4 606.9 258.5C604.1 257.6 600.4 261.8 599.1 262.4" fill="none" stroke="#e64d55" stroke-width="3.4" stroke-linecap="round" stroke-linejoin="round"/>
<path d="M606.9 258.5C607.4 257 609.6 252.7 610.2 249.4C610.7 246.2 610.3 242.3 610.2 239C610 235.8 608.2 232.4 609.5 229.9C610.8 227.4 616.5 225 618 224.1" fill="none" stroke="#e64d55" stroke-width="3.3" stroke-linecap="round" stroke-linejoin="round"/>
<path d="M610.2 249.4C611.8 250.3 617 253.4 619.9 254.6C622.8 255.8 626.4 256.2 627.7 256.6" fill="none" stroke="#e64d55" stroke-width="3.4" stroke-linecap="round" stroke-linejoin="round"/>
<path d="M609.5 229.9C608 230.3 603.7 231.3 600.4 232.5C597.2 233.7 591.7 236.3 590 237.1" fill="none" stroke="#e64d55" stroke-width="3.3" stroke-linecap="round" stroke-linejoin="round"/>
<path d="M609.5 229.9C608.4 227.7 605.6 219.9 603 216.9C600.4 213.9 596.7 213.2 593.9 211.7C591.1 210.2 587.4 208.5 586.1 207.8" fill="none" stroke="#e64d55" stroke-width="3.3" stroke-linecap="round" stroke-linejoin="round"/>
<path d="M622.5 283.2C622.6 285.8 623.2 293.4 623.2 298.8C623.2 304.2 622.6 312.9 622.5 315.7" fill="none" stroke="#e64d55" stroke-width="2.8" stroke-linecap="round" stroke-linejoin="round"/>
<path d="M582 204C584 205.3 590.3 209 594 212C597.7 215 600.7 219 604 222C607.3 225 612.3 228.7 614 230" fill="none" stroke="#e64d55" stroke-width="2.6" stroke-linecap="round" stroke-linejoin="round"/>
<path d="M592 200 L594 212" fill="none" stroke="#e64d55" stroke-width="2.4" stroke-linecap="round" stroke-linejoin="round"/>
<path d="M612.1 326.1C614.9 324.8 623.6 320.2 629 318.3C634.4 316.4 639.8 315.1 644.6 314.7C649.4 314.2 651.5 315.4 657.6 315.7C663.7 316 673.9 316.7 681 316.4C688.2 316 694 314.3 700.5 313.4C707 312.4 713.6 311 720 310.5C726.4 310 732.6 310.8 739 310.5C745.4 310.2 752 308.7 758.5 308.7C765 308.7 772.9 309.6 778 310.5C783.1 311.5 787.2 313.8 789.1 314.4" fill="none" stroke="#e64d55" stroke-width="7.2" stroke-linecap="round" stroke-linejoin="round"/>
<path d="M618 224.1C619.4 223.1 622.4 220 626.4 218.2C630.4 216.4 636.8 214 642 213C647.2 212 652.4 212 657.6 212.4C662.8 212.7 668.9 214.1 673.2 215C677.5 215.8 679.1 217.3 683.6 217.6C688.2 217.8 697.8 216.7 700.5 216.3C703.2 215.8 697.9 215.1 700 214.6C702.1 214 708.2 212.4 713 213C717.8 213.6 722.8 215.4 728.6 218.2C734.5 221 742.9 227.1 748.1 229.9C753.3 232.7 755.9 233.8 759.8 235.1C763.7 236.4 767.4 237.1 771.5 237.7C775.6 238.4 780.8 237.1 784.5 239C788.2 241 791.2 246 793.6 249.4C796 252.8 796.3 256.2 798.8 259.2C801.3 262.1 806.9 265.7 808.6 267" fill="none" stroke="#e64d55" stroke-width="3.3" stroke-linecap="round" stroke-linejoin="round"/>
<path d="M633.6 214.3C633.2 213.2 632.1 210.2 631.6 207.8C631.1 205.4 630.4 202.1 630.3 200C630.2 197.9 631.2 197.9 630.9 195C630.7 192.1 629.2 184.5 628.8 182.4" fill="none" stroke="#e64d55" stroke-width="3.3" stroke-linecap="round" stroke-linejoin="round"/>
<path d="M664.1 213C663.9 212.1 663.5 210 662.8 207.8C662.2 205.6 661.1 202.8 660.2 200C659.3 197.2 658.4 194.1 657.2 190.8C656 187.5 653.7 182 653 180.3" fill="none" stroke="#e64d55" stroke-width="3.3" stroke-linecap="round" stroke-linejoin="round"/>
<path d="M681.7 216.9C681.5 215.6 681.1 211.9 681 209.1C680.9 206.3 680.9 203.1 681 200C681.1 196.9 681.1 194.4 681.3 190.8C681.6 187.2 682.2 180.3 682.4 178.2" fill="none" stroke="#e64d55" stroke-width="3.3" stroke-linecap="round" stroke-linejoin="round"/>
<path d="M712.9 214.3C713 211.9 713.3 203.9 713.5 200C713.7 196.1 714 195.8 713.9 190.8C713.8 185.8 713 173.3 712.8 169.8" fill="none" stroke="#e64d55" stroke-width="3.3" stroke-linecap="round" stroke-linejoin="round"/>
<path d="M749.4 230.2C749.7 226.9 750.9 215.4 751.4 210.4C751.8 205.4 752 203.6 752.3 200C752.5 196.4 752.7 192.3 752.7 188.7C752.8 185.1 752.7 179.9 752.7 178.2" fill="none" stroke="#e64d55" stroke-width="3.3" stroke-linecap="round" stroke-linejoin="round"/>
<path d="M772.2 237.7C772.3 233.6 772.7 219.3 772.8 213C773 206.7 772.9 202.3 773.1 200C773.2 197.7 773.4 201.1 773.6 199.2C773.7 197.3 773.9 190.4 774 188.7" fill="none" stroke="#e64d55" stroke-width="3.3" stroke-linecap="round" stroke-linejoin="round"/>
<path d="M785.2 239C785.9 235.1 788.4 222.1 789.7 215.6C791 209.1 792.1 203.4 793 200C793.8 196.6 794.3 198.3 795 195C795.7 191.7 796.7 182.7 797.1 180.3" fill="none" stroke="#e64d55" stroke-width="3.3" stroke-linecap="round" stroke-linejoin="round"/>
<path d="M657.6 212.4C657 214.6 655.4 221.6 653.7 226C652 230.4 648.9 235.8 647.2 239C645.5 242.3 644 244.4 643.3 245.5" fill="none" stroke="#e64d55" stroke-width="3.3" stroke-linecap="round" stroke-linejoin="round"/>
<path d="M655.7 228C656.8 227.4 659.9 226.5 662.8 224.7C665.7 222.9 671.5 218.2 673.2 216.9" fill="none" stroke="#e64d55" stroke-width="2.6" stroke-linecap="round" stroke-linejoin="round"/>
<path d="M643.3 245.5C642 243.8 638.5 238.4 635.5 235.1C632.5 231.9 627.5 228 625.1 226C622.7 224.1 621.9 223.8 621.2 223.4" fill="none" stroke="#e64d55" stroke-width="3.3" stroke-linecap="round" stroke-linejoin="round"/>
<path d="M643.3 245.5C642.2 246.4 638.8 249.2 636.8 250.7C634.9 252.2 632.5 254 631.6 254.6" fill="none" stroke="#e64d55" stroke-width="3.3" stroke-linecap="round" stroke-linejoin="round"/>
<path d="M643.3 245.5C644.8 247 649.2 251.8 652.4 254.6C655.7 257.4 661.1 261.1 662.8 262.4" fill="none" stroke="#e64d55" stroke-width="3.3" stroke-linecap="round" stroke-linejoin="round"/>
<path d="M662.8 262.4C664.5 261.3 670.1 258 673.2 255.9C676.3 253.8 680.2 251 681.7 250.1" fill="none" stroke="#e64d55" stroke-width="3.3" stroke-linecap="round" stroke-linejoin="round"/>
<path d="M662.8 262.4C661.5 264.1 657.6 270.2 655 272.8C652.4 275.4 649.6 276.9 647.2 278C644.8 279.1 641.8 279.1 640.7 279.3" fill="none" stroke="#e64d55" stroke-width="3.3" stroke-linecap="round" stroke-linejoin="round"/>
<path d="M681.7 250.1C681.5 247.1 681 237.9 681 232.5C681 227.1 681.5 220 681.7 217.6" fill="none" stroke="#e64d55" stroke-width="3.3" stroke-linecap="round" stroke-linejoin="round"/>
<path d="M681.7 250.1C683.1 250.5 687 254 690.1 252.7C693.2 251.4 697.3 245.5 700.5 242.3C703.8 239 708.1 234.7 709.6 233.2" fill="none" stroke="#e64d55" stroke-width="3.3" stroke-linecap="round" stroke-linejoin="round"/>
<path d="M690.1 252.7C690.8 254.1 692.7 257.7 694 261.1C695.3 264.5 696.8 270.4 697.9 272.8C699 275.2 700.1 275 700.5 275.4" fill="none" stroke="#e64d55" stroke-width="3.3" stroke-linecap="round" stroke-linejoin="round"/>
<path d="M709.6 233.2C708.5 232 705.1 228.3 703.1 226C701.2 223.7 698.8 220.6 697.9 219.5" fill="none" stroke="#e64d55" stroke-width="3.3" stroke-linecap="round" stroke-linejoin="round"/>
<path d="M709.6 233.2C710.3 232 713 229.1 713.5 226C714 222.9 713 216.3 712.9 214.3" fill="none" stroke="#e64d55" stroke-width="2.6" stroke-linecap="round" stroke-linejoin="round"/>
<path d="M640.7 279.3C643.1 279.6 649.6 280 655 281.3C660.4 282.6 667.6 287.2 673.2 287.1C678.8 287 684.3 282.6 688.8 280.6C693.4 278.7 695.3 276.8 700.5 275.4C705.7 274 716.4 272.5 720 272.2C723.6 271.8 721.8 273.2 722.1 273.5" fill="none" stroke="#e64d55" stroke-width="3.3" stroke-linecap="round" stroke-linejoin="round"/>
<path d="M673.2 287.1C672.8 289.1 671.5 294.5 670.6 298.8C669.7 303.1 668.4 310.7 668 313.1" fill="none" stroke="#e64d55" stroke-width="3.3" stroke-linecap="round" stroke-linejoin="round"/>
<path d="M710.9 276.7C710 279.1 706.6 285.8 705.2 291C703.8 296.2 703 305.1 702.6 307.9" fill="none" stroke="#e64d55" stroke-width="3.3" stroke-linecap="round" stroke-linejoin="round"/>
<path d="M713 213C712.8 215.2 712.2 222.6 711.7 226C711.2 229.4 710.4 232.3 710.1 233.5" fill="none" stroke="#e64d55" stroke-width="3.3" stroke-linecap="round" stroke-linejoin="round"/>
<path d="M710.1 233.5C711.7 234.5 716.5 236.4 719.5 239C722.5 241.6 726.5 247.7 728 249.4" fill="none" stroke="#e64d55" stroke-width="3.3" stroke-linecap="round" stroke-linejoin="round"/>
<path d="M726 217.6C726.1 220 726.3 227.2 726.7 232.5C727 237.8 727.7 246.6 728 249.4" fill="none" stroke="#e64d55" stroke-width="3.3" stroke-linecap="round" stroke-linejoin="round"/>
<path d="M728 249.4C730.4 247.9 739.4 243.4 742.9 240.3C746.4 237.2 748.1 232.5 749.1 230.9" fill="none" stroke="#e64d55" stroke-width="3.3" stroke-linecap="round" stroke-linejoin="round"/>
<path d="M728 249.4C727.6 251.6 727 258.4 726 262.4C725 266.4 722.8 271.6 722.1 273.5" fill="none" stroke="#e64d55" stroke-width="3.3" stroke-linecap="round" stroke-linejoin="round"/>
<path d="M728 249.4C729.8 250.7 735 254.2 739 257.2C743 260.2 747.9 264.6 752 267.6C756.1 270.6 761.8 274.1 763.7 275.4" fill="none" stroke="#e64d55" stroke-width="3.3" stroke-linecap="round" stroke-linejoin="round"/>
<path d="M722.1 273.5C723.6 275.1 729 280.5 731.2 283.2C733.4 285.9 734.3 286 735.1 289.7C735.9 293.4 735.6 302.7 735.8 305.3" fill="none" stroke="#e64d55" stroke-width="3.3" stroke-linecap="round" stroke-linejoin="round"/>
<path d="M734.5 285.2C737.4 284.2 747.1 280.9 752 279.3C756.9 277.7 761.8 276.1 763.7 275.4" fill="none" stroke="#e64d55" stroke-width="3.3" stroke-linecap="round" stroke-linejoin="round"/>
<path d="M763.7 275.4C764.4 273.2 766.5 266.3 767.6 262.4C768.7 258.5 769.6 256.1 770.2 252C770.9 247.9 771.3 240.1 771.5 237.7" fill="none" stroke="#e64d55" stroke-width="3.3" stroke-linecap="round" stroke-linejoin="round"/>
<path d="M754.6 237.7C755.5 240.1 757.6 247.9 759.8 252C762 256.1 766.3 260.7 767.6 262.4" fill="none" stroke="#e64d55" stroke-width="2.4" stroke-linecap="round" stroke-linejoin="round"/>
<path d="M763.7 275.4C765.2 276.3 769.6 278 772.8 280.6C776.1 283.2 779.3 288.3 783.2 291C787.1 293.7 794 295.9 796.2 296.9" fill="none" stroke="#e64d55" stroke-width="3.3" stroke-linecap="round" stroke-linejoin="round"/>
<path d="M772.8 280.6C773.9 281.9 777.7 285.4 779.3 288.4C780.9 291.4 781.5 295.1 782.6 298.8C783.6 302.5 785.3 308.6 785.8 310.5" fill="none" stroke="#e64d55" stroke-width="3.3" stroke-linecap="round" stroke-linejoin="round"/>
<path d="M768.9 263.1C771.3 263.4 778.8 264.5 783.2 265C787.6 265.5 793.5 266.1 795.6 266.3" fill="none" stroke="#e64d55" stroke-width="3.3" stroke-linecap="round" stroke-linejoin="round"/>
<path d="M795.6 266.3C795.2 268.3 794.4 274.3 793.6 278C792.8 281.7 792.6 286.2 791 288.4C789.4 290.6 785 290.6 783.9 291" fill="none" stroke="#e64d55" stroke-width="3.3" stroke-linecap="round" stroke-linejoin="round"/>
<path d="M606.9 297.5C608.4 296.4 613.4 293.8 616 291C618.6 288.2 619.3 282.6 622.5 280.6C625.8 278.7 633.3 279.5 635.5 279.3" fill="none" stroke="#f59aa0" stroke-width="1.2" stroke-linecap="round" opacity="0.75"/>
<path d="M622.5 280.6C621.4 278.4 618.6 271.3 616 267.6C613.4 263.9 609.7 259.4 606.9 258.5C604.1 257.6 600.4 261.8 599.1 262.4" fill="none" stroke="#f59aa0" stroke-width="1.1" stroke-linecap="round" opacity="0.75"/>
<path d="M606.9 258.5C607.4 257 609.6 252.7 610.2 249.4C610.7 246.2 610.3 242.3 610.2 239C610 235.8 608.2 232.4 609.5 229.9C610.8 227.4 616.5 225 618 224.1" fill="none" stroke="#f59aa0" stroke-width="1.1" stroke-linecap="round" opacity="0.75"/>
<path d="M610.2 249.4C611.8 250.3 617 253.4 619.9 254.6C622.8 255.8 626.4 256.2 627.7 256.6" fill="none" stroke="#f59aa0" stroke-width="1.1" stroke-linecap="round" opacity="0.75"/>
<path d="M609.5 229.9C608 230.3 603.7 231.3 600.4 232.5C597.2 233.7 591.7 236.3 590 237.1" fill="none" stroke="#f59aa0" stroke-width="1.1" stroke-linecap="round" opacity="0.75"/>
<path d="M609.5 229.9C608.4 227.7 605.6 219.9 603 216.9C600.4 213.9 596.7 213.2 593.9 211.7C591.1 210.2 587.4 208.5 586.1 207.8" fill="none" stroke="#f59aa0" stroke-width="1.1" stroke-linecap="round" opacity="0.75"/>
<path d="M622.5 283.2C622.6 285.8 623.2 293.4 623.2 298.8C623.2 304.2 622.6 312.9 622.5 315.7" fill="none" stroke="#f59aa0" stroke-width="0.9" stroke-linecap="round" opacity="0.75"/>
<path d="M582 204C584 205.3 590.3 209 594 212C597.7 215 600.7 219 604 222C607.3 225 612.3 228.7 614 230" fill="none" stroke="#f59aa0" stroke-width="0.8" stroke-linecap="round" opacity="0.75"/>
<path d="M592 200 L594 212" fill="none" stroke="#f59aa0" stroke-width="0.8" stroke-linecap="round" opacity="0.75"/>
<path d="M612.1 326.1C614.9 324.8 623.6 320.2 629 318.3C634.4 316.4 639.8 315.1 644.6 314.7C649.4 314.2 651.5 315.4 657.6 315.7C663.7 316 673.9 316.7 681 316.4C688.2 316 694 314.3 700.5 313.4C707 312.4 713.6 311 720 310.5C726.4 310 732.6 310.8 739 310.5C745.4 310.2 752 308.7 758.5 308.7C765 308.7 772.9 309.6 778 310.5C783.1 311.5 787.2 313.8 789.1 314.4" fill="none" stroke="#f59aa0" stroke-width="2.3" stroke-linecap="round" opacity="0.75"/>
<path d="M618 224.1C619.4 223.1 622.4 220 626.4 218.2C630.4 216.4 636.8 214 642 213C647.2 212 652.4 212 657.6 212.4C662.8 212.7 668.9 214.1 673.2 215C677.5 215.8 679.1 217.3 683.6 217.6C688.2 217.8 697.8 216.7 700.5 216.3C703.2 215.8 697.9 215.1 700 214.6C702.1 214 708.2 212.4 713 213C717.8 213.6 722.8 215.4 728.6 218.2C734.5 221 742.9 227.1 748.1 229.9C753.3 232.7 755.9 233.8 759.8 235.1C763.7 236.4 767.4 237.1 771.5 237.7C775.6 238.4 780.8 237.1 784.5 239C788.2 241 791.2 246 793.6 249.4C796 252.8 796.3 256.2 798.8 259.2C801.3 262.1 806.9 265.7 808.6 267" fill="none" stroke="#f59aa0" stroke-width="1.1" stroke-linecap="round" opacity="0.75"/>
<path d="M633.6 214.3C633.2 213.2 632.1 210.2 631.6 207.8C631.1 205.4 630.4 202.1 630.3 200C630.2 197.9 631.2 197.9 630.9 195C630.7 192.1 629.2 184.5 628.8 182.4" fill="none" stroke="#f59aa0" stroke-width="1.1" stroke-linecap="round" opacity="0.75"/>
<path d="M664.1 213C663.9 212.1 663.5 210 662.8 207.8C662.2 205.6 661.1 202.8 660.2 200C659.3 197.2 658.4 194.1 657.2 190.8C656 187.5 653.7 182 653 180.3" fill="none" stroke="#f59aa0" stroke-width="1.1" stroke-linecap="round" opacity="0.75"/>
<path d="M681.7 216.9C681.5 215.6 681.1 211.9 681 209.1C680.9 206.3 680.9 203.1 681 200C681.1 196.9 681.1 194.4 681.3 190.8C681.6 187.2 682.2 180.3 682.4 178.2" fill="none" stroke="#f59aa0" stroke-width="1.1" stroke-linecap="round" opacity="0.75"/>
<path d="M712.9 214.3C713 211.9 713.3 203.9 713.5 200C713.7 196.1 714 195.8 713.9 190.8C713.8 185.8 713 173.3 712.8 169.8" fill="none" stroke="#f59aa0" stroke-width="1.1" stroke-linecap="round" opacity="0.75"/>
<path d="M749.4 230.2C749.7 226.9 750.9 215.4 751.4 210.4C751.8 205.4 752 203.6 752.3 200C752.5 196.4 752.7 192.3 752.7 188.7C752.8 185.1 752.7 179.9 752.7 178.2" fill="none" stroke="#f59aa0" stroke-width="1.1" stroke-linecap="round" opacity="0.75"/>
<path d="M772.2 237.7C772.3 233.6 772.7 219.3 772.8 213C773 206.7 772.9 202.3 773.1 200C773.2 197.7 773.4 201.1 773.6 199.2C773.7 197.3 773.9 190.4 774 188.7" fill="none" stroke="#f59aa0" stroke-width="1.1" stroke-linecap="round" opacity="0.75"/>
<path d="M785.2 239C785.9 235.1 788.4 222.1 789.7 215.6C791 209.1 792.1 203.4 793 200C793.8 196.6 794.3 198.3 795 195C795.7 191.7 796.7 182.7 797.1 180.3" fill="none" stroke="#f59aa0" stroke-width="1.1" stroke-linecap="round" opacity="0.75"/>
<path d="M657.6 212.4C657 214.6 655.4 221.6 653.7 226C652 230.4 648.9 235.8 647.2 239C645.5 242.3 644 244.4 643.3 245.5" fill="none" stroke="#f59aa0" stroke-width="1.1" stroke-linecap="round" opacity="0.75"/>
<path d="M655.7 228C656.8 227.4 659.9 226.5 662.8 224.7C665.7 222.9 671.5 218.2 673.2 216.9" fill="none" stroke="#f59aa0" stroke-width="0.8" stroke-linecap="round" opacity="0.75"/>
<path d="M643.3 245.5C642 243.8 638.5 238.4 635.5 235.1C632.5 231.9 627.5 228 625.1 226C622.7 224.1 621.9 223.8 621.2 223.4" fill="none" stroke="#f59aa0" stroke-width="1.1" stroke-linecap="round" opacity="0.75"/>
<path d="M643.3 245.5C642.2 246.4 638.8 249.2 636.8 250.7C634.9 252.2 632.5 254 631.6 254.6" fill="none" stroke="#f59aa0" stroke-width="1.1" stroke-linecap="round" opacity="0.75"/>
<path d="M643.3 245.5C644.8 247 649.2 251.8 652.4 254.6C655.7 257.4 661.1 261.1 662.8 262.4" fill="none" stroke="#f59aa0" stroke-width="1.1" stroke-linecap="round" opacity="0.75"/>
<path d="M662.8 262.4C664.5 261.3 670.1 258 673.2 255.9C676.3 253.8 680.2 251 681.7 250.1" fill="none" stroke="#f59aa0" stroke-width="1.1" stroke-linecap="round" opacity="0.75"/>
<path d="M662.8 262.4C661.5 264.1 657.6 270.2 655 272.8C652.4 275.4 649.6 276.9 647.2 278C644.8 279.1 641.8 279.1 640.7 279.3" fill="none" stroke="#f59aa0" stroke-width="1.1" stroke-linecap="round" opacity="0.75"/>
<path d="M681.7 250.1C681.5 247.1 681 237.9 681 232.5C681 227.1 681.5 220 681.7 217.6" fill="none" stroke="#f59aa0" stroke-width="1.1" stroke-linecap="round" opacity="0.75"/>
<path d="M681.7 250.1C683.1 250.5 687 254 690.1 252.7C693.2 251.4 697.3 245.5 700.5 242.3C703.8 239 708.1 234.7 709.6 233.2" fill="none" stroke="#f59aa0" stroke-width="1.1" stroke-linecap="round" opacity="0.75"/>
<path d="M690.1 252.7C690.8 254.1 692.7 257.7 694 261.1C695.3 264.5 696.8 270.4 697.9 272.8C699 275.2 700.1 275 700.5 275.4" fill="none" stroke="#f59aa0" stroke-width="1.1" stroke-linecap="round" opacity="0.75"/>
<path d="M709.6 233.2C708.5 232 705.1 228.3 703.1 226C701.2 223.7 698.8 220.6 697.9 219.5" fill="none" stroke="#f59aa0" stroke-width="1.1" stroke-linecap="round" opacity="0.75"/>
<path d="M709.6 233.2C710.3 232 713 229.1 713.5 226C714 222.9 713 216.3 712.9 214.3" fill="none" stroke="#f59aa0" stroke-width="0.8" stroke-linecap="round" opacity="0.75"/>
<path d="M640.7 279.3C643.1 279.6 649.6 280 655 281.3C660.4 282.6 667.6 287.2 673.2 287.1C678.8 287 684.3 282.6 688.8 280.6C693.4 278.7 695.3 276.8 700.5 275.4C705.7 274 716.4 272.5 720 272.2C723.6 271.8 721.8 273.2 722.1 273.5" fill="none" stroke="#f59aa0" stroke-width="1.1" stroke-linecap="round" opacity="0.75"/>
<path d="M673.2 287.1C672.8 289.1 671.5 294.5 670.6 298.8C669.7 303.1 668.4 310.7 668 313.1" fill="none" stroke="#f59aa0" stroke-width="1.1" stroke-linecap="round" opacity="0.75"/>
<path d="M710.9 276.7C710 279.1 706.6 285.8 705.2 291C703.8 296.2 703 305.1 702.6 307.9" fill="none" stroke="#f59aa0" stroke-width="1.1" stroke-linecap="round" opacity="0.75"/>
<path d="M713 213C712.8 215.2 712.2 222.6 711.7 226C711.2 229.4 710.4 232.3 710.1 233.5" fill="none" stroke="#f59aa0" stroke-width="1.1" stroke-linecap="round" opacity="0.75"/>
<path d="M710.1 233.5C711.7 234.5 716.5 236.4 719.5 239C722.5 241.6 726.5 247.7 728 249.4" fill="none" stroke="#f59aa0" stroke-width="1.1" stroke-linecap="round" opacity="0.75"/>
<path d="M726 217.6C726.1 220 726.3 227.2 726.7 232.5C727 237.8 727.7 246.6 728 249.4" fill="none" stroke="#f59aa0" stroke-width="1.1" stroke-linecap="round" opacity="0.75"/>
<path d="M728 249.4C730.4 247.9 739.4 243.4 742.9 240.3C746.4 237.2 748.1 232.5 749.1 230.9" fill="none" stroke="#f59aa0" stroke-width="1.1" stroke-linecap="round" opacity="0.75"/>
<path d="M728 249.4C727.6 251.6 727 258.4 726 262.4C725 266.4 722.8 271.6 722.1 273.5" fill="none" stroke="#f59aa0" stroke-width="1.1" stroke-linecap="round" opacity="0.75"/>
<path d="M728 249.4C729.8 250.7 735 254.2 739 257.2C743 260.2 747.9 264.6 752 267.6C756.1 270.6 761.8 274.1 763.7 275.4" fill="none" stroke="#f59aa0" stroke-width="1.1" stroke-linecap="round" opacity="0.75"/>
<path d="M722.1 273.5C723.6 275.1 729 280.5 731.2 283.2C733.4 285.9 734.3 286 735.1 289.7C735.9 293.4 735.6 302.7 735.8 305.3" fill="none" stroke="#f59aa0" stroke-width="1.1" stroke-linecap="round" opacity="0.75"/>
<path d="M734.5 285.2C737.4 284.2 747.1 280.9 752 279.3C756.9 277.7 761.8 276.1 763.7 275.4" fill="none" stroke="#f59aa0" stroke-width="1.1" stroke-linecap="round" opacity="0.75"/>
<path d="M763.7 275.4C764.4 273.2 766.5 266.3 767.6 262.4C768.7 258.5 769.6 256.1 770.2 252C770.9 247.9 771.3 240.1 771.5 237.7" fill="none" stroke="#f59aa0" stroke-width="1.1" stroke-linecap="round" opacity="0.75"/>
<path d="M754.6 237.7C755.5 240.1 757.6 247.9 759.8 252C762 256.1 766.3 260.7 767.6 262.4" fill="none" stroke="#f59aa0" stroke-width="0.8" stroke-linecap="round" opacity="0.75"/>
<path d="M763.7 275.4C765.2 276.3 769.6 278 772.8 280.6C776.1 283.2 779.3 288.3 783.2 291C787.1 293.7 794 295.9 796.2 296.9" fill="none" stroke="#f59aa0" stroke-width="1.1" stroke-linecap="round" opacity="0.75"/>
<path d="M772.8 280.6C773.9 281.9 777.7 285.4 779.3 288.4C780.9 291.4 781.5 295.1 782.6 298.8C783.6 302.5 785.3 308.6 785.8 310.5" fill="none" stroke="#f59aa0" stroke-width="1.1" stroke-linecap="round" opacity="0.75"/>
<path d="M768.9 263.1C771.3 263.4 778.8 264.5 783.2 265C787.6 265.5 793.5 266.1 795.6 266.3" fill="none" stroke="#f59aa0" stroke-width="1.1" stroke-linecap="round" opacity="0.75"/>
<path d="M795.6 266.3C795.2 268.3 794.4 274.3 793.6 278C792.8 281.7 792.6 286.2 791 288.4C789.4 290.6 785 290.6 783.9 291" fill="none" stroke="#f59aa0" stroke-width="1.1" stroke-linecap="round" opacity="0.75"/>
<path d="M629 317.7C631.6 317.1 639.8 314.6 644.6 314.1C649.4 313.7 651.5 314.8 657.6 315.1C663.7 315.3 673.9 315.9 681 315.4C688.2 315 694 313.5 700.5 312.6C707 311.7 716.8 310.3 720 309.9" fill="none" stroke="#f08a8a" stroke-width="1.6" opacity="0.8" stroke-linecap="round"/>
<ellipse cx="612.5" cy="325.5" rx="2.2" ry="4.5" transform="rotate(70 612.5 325.5)" fill="#c9424a" stroke="#1a1210" stroke-width="1.2"/>
<ellipse cx="607" cy="296.5" rx="1.4" ry="2.8" transform="rotate(60 607 296.5)" fill="#c9424a" stroke="#1a1210" stroke-width="1.2"/>
<ellipse cx="598.5" cy="262" rx="1.2" ry="2.5" transform="rotate(120 598.5 262)" fill="#c9424a" stroke="#1a1210" stroke-width="1.2"/>
<path d="M574 119C578 122.2 592.3 129.5 598 138C603.7 146.5 606 161 608 170C610 179 610.5 187 610 192C609.5 197 605.8 198.7 605 200" fill="none" stroke="#1a1210" stroke-width="4" stroke-linecap="round" stroke-linejoin="round"/>
<path d="M574 119C578 122.2 592.3 129.5 598 138C603.7 146.5 606 161 608 170C610 179 610.5 187 610 192C609.5 197 605.8 198.7 605 200" fill="none" stroke="#efe56b" stroke-width="2.4" stroke-linecap="round" stroke-linejoin="round"/>
<path d="M601 196C602.2 197.7 605.8 202.3 608 206C610.2 209.7 613.3 217.3 614 218C614.7 218.7 611.6 209.7 612.1 210.4C612.7 211.1 615.6 217.6 617.3 222.1C619 226.7 620.1 232.3 622.5 237.7C624.9 243.1 629.7 249.2 631.6 254.6C633.6 260 632.9 265.4 634.2 270.2C635.5 275 638.3 278.4 639.4 283.2C640.5 288 639.4 294.3 640.7 298.8C642 303.4 646.3 306.2 647.2 310.5C648.1 314.8 646.2 320.7 645.9 324.8C645.6 328.9 645.3 333.5 645.1 335.2" fill="none" stroke="#1a1210" stroke-width="5" stroke-linecap="round" stroke-linejoin="round"/>
<path d="M601 196C602.2 197.7 605.8 202.3 608 206C610.2 209.7 613.3 217.3 614 218C614.7 218.7 611.6 209.7 612.1 210.4C612.7 211.1 615.6 217.6 617.3 222.1C619 226.7 620.1 232.3 622.5 237.7C624.9 243.1 629.7 249.2 631.6 254.6C633.6 260 632.9 265.4 634.2 270.2C635.5 275 638.3 278.4 639.4 283.2C640.5 288 639.4 294.3 640.7 298.8C642 303.4 646.3 306.2 647.2 310.5C648.1 314.8 646.2 320.7 645.9 324.8C645.6 328.9 645.3 333.5 645.1 335.2" fill="none" stroke="#efe56b" stroke-width="3.4" stroke-linecap="round" stroke-linejoin="round"/>
<path d="M810.5 215.6C811.6 219.1 815.8 230.3 817 236.4C818.2 242.5 818.5 246.8 817.7 252C816.8 257.2 813.6 262.2 812.1 267.6C810.5 273 809.9 279.3 808.2 284.5C806.4 289.7 804 293.8 801.7 299.1C799.3 304.3 796 311 793.9 316C791.8 320.9 790.6 325.1 789.1 328.7C787.5 332.3 785.3 336.3 784.5 337.8" fill="none" stroke="#1a1210" stroke-width="6.2" stroke-linecap="round" stroke-linejoin="round"/>
<path d="M810.5 215.6C811.6 219.1 815.8 230.3 817 236.4C818.2 242.5 818.5 246.8 817.7 252C816.8 257.2 813.6 262.2 812.1 267.6C810.5 273 809.9 279.3 808.2 284.5C806.4 289.7 804 293.8 801.7 299.1C799.3 304.3 796 311 793.9 316C791.8 320.9 790.6 325.1 789.1 328.7C787.5 332.3 785.3 336.3 784.5 337.8" fill="none" stroke="#efe56b" stroke-width="4.6" stroke-linecap="round" stroke-linejoin="round"/>
<path d="M805.9 207.6C802.8 208.8 808.1 219.8 808.6 222.3C809.2 224.7 811.7 234.7 812.2 237C812.8 239.3 814.8 247.8 815.2 249.6C815.5 251.3 816.6 256.6 816.8 258C817 259.4 817.3 266.1 817.7 266.8C818 267.6 820.6 267.5 821 266.8C821.5 266.2 822.3 260.2 822.7 259C823.1 257.9 825 253.7 825.7 252.7C826.3 251.7 829.3 247.9 830.3 247.1C831.2 246.3 835.7 243.5 837 242.9C838.3 242.2 843.6 240.2 845.4 239.5C847.1 238.9 857.9 237.6 858 234.9C858.1 232.2 850.8 209.9 846.4 207.6C842.1 205.3 809.1 206.4 805.9 207.6Z" fill="#efe56b" stroke="#1a1210" stroke-width="1.3"/>
<circle cx="846.6" cy="193.6" r="40.4" fill="#efe56b" stroke="#1a1210" stroke-width="1.3"/>
<path d="M807.6 216 L812.8 238 L816 255.9 L824.4 250.6 L837 241.6 L855.9 234.5 L846.4 207.6Z" fill="#efe56b"/>
<circle cx="846.6" cy="193.6" r="37.4" fill="#e8a9c1" stroke="#1a1210" stroke-width="1.3"/>
<circle cx="847.4" cy="194.2" r="32.3" fill="#f3cfc9" stroke="#1a1210" stroke-width="2.4"/>
<circle cx="847.4" cy="194.2" r="29.6" fill="#ecc9bb" stroke="#6b4a50" stroke-width="0.8"/>
<path d="M824.4 216C825.8 213.9 830 207.9 832.8 203.4C835.6 198.8 838.4 193.6 841.2 188.7C844 183.8 846.8 178.2 849.6 174C852.4 169.8 856.6 165.2 858 163.5" fill="none" stroke="#3a3034" stroke-width="2.6" opacity="0.5" filter="url(#soft1)" stroke-linecap="round"/>
<path d="M837 224.4C839.1 222.6 846.1 218.1 849.6 213.9C853.1 209.7 856.2 204.4 858 199.2C859.7 193.9 858.3 186.6 860.1 182.4C861.8 178.2 867.1 175.4 868.5 174" fill="none" stroke="#3a3034" stroke-width="2.6" opacity="0.5" filter="url(#soft1)" stroke-linecap="round"/>
<path d="M824.4 178.2C826.5 176.4 832.8 170.1 837 167.7C841.2 165.2 847.5 164.2 849.6 163.5" fill="none" stroke="#3a3034" stroke-width="2.6" opacity="0.5" filter="url(#soft1)" stroke-linecap="round"/>
<path d="M849.6 224.4C851.7 223 858.7 219.5 862.2 216C865.7 212.5 868.8 207.9 870.6 203.4C872.3 198.8 872.3 191.1 872.7 188.7" fill="none" stroke="#3a3034" stroke-width="2.6" opacity="0.5" filter="url(#soft1)" stroke-linecap="round"/>
<path d="M828.6 195C830 192.9 834.5 185.2 837 182.4C839.4 179.6 842.2 178.9 843.3 178.2" fill="none" stroke="#3a3034" stroke-width="2.6" opacity="0.5" filter="url(#soft1)" stroke-linecap="round"/>
<path d="M841.2 174C842.6 172.9 846.8 168 849.6 167.7C852.4 167.3 855.5 169.4 858 171.9C860.4 174.3 863.2 180.6 864.3 182.4" fill="none" stroke="#3a3034" stroke-width="2.6" opacity="0.5" filter="url(#soft1)" stroke-linecap="round"/>
<path d="M853.8 207.6C855.5 206.2 861.8 202.3 864.3 199.2C866.7 196 867.8 190.4 868.5 188.7" fill="none" stroke="#3a3034" stroke-width="2.6" opacity="0.5" filter="url(#soft1)" stroke-linecap="round"/>
<path d="M826.5 207.6C828.2 206.2 833.8 202 837 199.2C840.1 196.4 842.9 193.6 845.4 190.8C847.8 188 850.6 183.8 851.7 182.4" fill="none" stroke="#3a3034" stroke-width="2.6" opacity="0.5" filter="url(#soft1)" stroke-linecap="round"/>
<path d="M837 159.3C839.1 158.9 845.4 156.8 849.6 157.2C853.8 157.5 860.1 160.7 862.2 161.4" fill="none" stroke="#3a3034" stroke-width="2.6" opacity="0.5" filter="url(#soft1)" stroke-linecap="round"/>
<path d="M862.2 216C863.6 214.6 868.5 211.1 870.6 207.6C872.7 204.1 874.1 197.1 874.8 195" fill="none" stroke="#3a3034" stroke-width="2.6" opacity="0.5" filter="url(#soft1)" stroke-linecap="round"/>
<circle cx="792.9" cy="316.4" r="4.6" fill="#c8404a" stroke="#1a1210" stroke-width="1.5"/>
<circle cx="792.9" cy="316.4" r="1.6" fill="#e8777c"/>
<circle cx="800.8" cy="299.5" r="3.4" fill="#c8404a" stroke="#1a1210" stroke-width="1.5"/>
<circle cx="800.8" cy="299.5" r="1.2" fill="#e8777c"/>
<circle cx="812.5" cy="270.9" r="2.6" fill="#c8404a" stroke="#1a1210" stroke-width="1.5"/>
<circle cx="812.5" cy="270.9" r="0.9" fill="#e8777c"/>
<path d="M627.8 182.4C626.7 179.2 623.9 169.1 621.5 163.5C619 157.9 615.4 154.7 613.1 148.8C610.8 142.8 608.7 131.3 607.8 127.8" fill="none" stroke="#4a0f14" stroke-width="1.5" stroke-linecap="round"/>
<path d="M627.8 182.4C628.5 178.9 631.1 166.3 632 161.4C632.9 156.5 632.9 154.4 633 153" fill="none" stroke="#4a0f14" stroke-width="1.5" stroke-linecap="round"/>
<path d="M621.5 163.5C622 161.7 624.3 156.5 624.6 153C625 149.5 623.8 144.2 623.6 142.5" fill="none" stroke="#4a0f14" stroke-width="1.5" stroke-linecap="round"/>
<path d="M613.1 148.8 L617.3 140.4" fill="none" stroke="#4a0f14" stroke-width="1.5" stroke-linecap="round"/>
<path d="M653 180.3C651.9 179.2 648.8 177.5 646.7 174C644.6 170.5 641.6 163.1 640.4 159.3C639.2 155.4 639.5 152.3 639.3 150.9" fill="none" stroke="#4a0f14" stroke-width="1.5" stroke-linecap="round"/>
<path d="M646.7 174C647.7 171.5 651.6 162.8 653 159.3C654.4 155.8 654.7 154 655.1 153" fill="none" stroke="#4a0f14" stroke-width="1.5" stroke-linecap="round"/>
<path d="M653 180.3C654 178.5 657.9 172.9 659.3 169.8C660.7 166.6 661 162.8 661.4 161.4" fill="none" stroke="#4a0f14" stroke-width="1.5" stroke-linecap="round"/>
<path d="M682.4 178.2C681 175 675.7 163.8 674 159.3C672.2 154.7 672.2 152.3 671.9 150.9" fill="none" stroke="#4a0f14" stroke-width="1.5" stroke-linecap="round"/>
<path d="M682.4 178.2C683.8 175.7 688.3 169.4 690.8 163.5C693.2 157.5 695.7 148.4 697.1 142.5C698.5 136.5 698.8 130.2 699.2 127.8" fill="none" stroke="#4a0f14" stroke-width="1.5" stroke-linecap="round"/>
<path d="M690.8 163.5 L699.2 159.3" fill="none" stroke="#4a0f14" stroke-width="1.5" stroke-linecap="round"/>
<path d="M674 159.3 L680.3 153" fill="none" stroke="#4a0f14" stroke-width="1.5" stroke-linecap="round"/>
<path d="M712.8 169.8C712 166.3 708.8 155.4 707.6 148.8C706.4 142.1 705.8 133 705.5 129.9" fill="none" stroke="#4a0f14" stroke-width="1.5" stroke-linecap="round"/>
<path d="M712.8 169.8C714.4 167 720 160.7 722.3 153C724.6 145.3 725.8 128.5 726.5 123.6" fill="none" stroke="#4a0f14" stroke-width="1.5" stroke-linecap="round"/>
<path d="M716 182.4C717.7 181 723.7 176.4 726.5 174C729.3 171.5 731.7 168.7 732.8 167.7" fill="none" stroke="#4a0f14" stroke-width="1.5" stroke-linecap="round"/>
<path d="M707.6 148.8 L713.9 140.4" fill="none" stroke="#4a0f14" stroke-width="1.5" stroke-linecap="round"/>
<path d="M722.3 153 L730.7 144.6" fill="none" stroke="#4a0f14" stroke-width="1.5" stroke-linecap="round"/>
<path d="M752.7 178.2C751.5 174 747.3 161.4 745.4 153C743.5 144.6 741.9 132 741.2 127.8" fill="none" stroke="#4a0f14" stroke-width="1.5" stroke-linecap="round"/>
<path d="M752.7 178.2C754 174 757.5 161.7 760.1 153C762.7 144.2 767.1 130.2 768.5 125.7" fill="none" stroke="#4a0f14" stroke-width="1.5" stroke-linecap="round"/>
<path d="M745.4 153C746.4 151.2 750.3 146 751.7 142.5C753.1 139 753.4 133.7 753.8 132" fill="none" stroke="#4a0f14" stroke-width="1.5" stroke-linecap="round"/>
<path d="M760.1 153 L755.9 140.4" fill="none" stroke="#4a0f14" stroke-width="1.5" stroke-linecap="round"/>
<path d="M775.8 186.6C774.3 184.5 768.3 177.5 766.4 174C764.5 170.5 764.6 167 764.3 165.6" fill="none" stroke="#4a0f14" stroke-width="1.5" stroke-linecap="round"/>
<path d="M775.8 186.6C777.4 184.5 782.7 179.6 785.3 174C787.9 168.4 789.5 159.3 791.6 153C793.7 146.7 796.8 139 797.9 136.2" fill="none" stroke="#4a0f14" stroke-width="1.5" stroke-linecap="round"/>
<path d="M785.3 174C784.2 171.5 779.9 163.8 779 159.3C778.1 154.7 779.9 148.8 780 146.7" fill="none" stroke="#4a0f14" stroke-width="1.5" stroke-linecap="round"/>
<path d="M713.1 159.3C712 156.8 708.2 149.8 706.8 144.6C705.4 139.3 705 130.6 704.7 127.8" fill="none" stroke="#4a0f14" stroke-width="1.5" stroke-linecap="round"/>
<path d="M713.1 159.3C714.5 157.2 719 152.6 721.5 146.7C723.9 140.7 726.7 127.4 727.8 123.6" fill="none" stroke="#4a0f14" stroke-width="1.5" stroke-linecap="round"/>
<path d="M721.5 146.7C722.9 145.3 727.8 141.8 729.9 138.3C732 134.8 733.4 127.8 734.1 125.7" fill="none" stroke="#4a0f14" stroke-width="1.5" stroke-linecap="round"/>
<path d="M717.3 180.3C718.7 178.9 723.2 174.3 725.7 171.9C728.1 169.4 730.9 166.6 732 165.6" fill="none" stroke="#4a0f14" stroke-width="1.5" stroke-linecap="round"/>
<path d="M753 178.2C751.6 174 746.3 161.4 744.6 153C742.8 144.6 742.8 132 742.5 127.8" fill="none" stroke="#4a0f14" stroke-width="1.5" stroke-linecap="round"/>
<path d="M753 178.2C754 174 758.2 161.7 759.3 153C760.3 144.2 759.3 130.2 759.3 125.7" fill="none" stroke="#4a0f14" stroke-width="1.5" stroke-linecap="round"/>
<path d="M759.3 153C760.7 150.9 765.9 145.3 767.7 140.4C769.4 135.5 769.4 126.4 769.8 123.6" fill="none" stroke="#4a0f14" stroke-width="1.5" stroke-linecap="round"/>
<path d="M744.6 153 L748.8 140.4" fill="none" stroke="#4a0f14" stroke-width="1.5" stroke-linecap="round"/>
<path d="M774 188.7C772.6 186.2 767.2 177.8 765.6 174C764 170.1 764.7 167 764.5 165.6" fill="none" stroke="#4a0f14" stroke-width="1.5" stroke-linecap="round"/>
<path d="M774 188.7C775.7 186.2 783.4 179.9 784.5 174C785.5 168 781.3 158.9 780.3 153C779.2 147 778.5 140.7 778.2 138.3" fill="none" stroke="#4a0f14" stroke-width="1.5" stroke-linecap="round"/>
<path d="M784.5 174C785.9 171.5 790.4 164.9 792.9 159.3C795.3 153.7 798.1 143.5 799.2 140.4" fill="none" stroke="#4a0f14" stroke-width="1.5" stroke-linecap="round"/>
<path d="M792.9 159.3 L803.4 153" fill="none" stroke="#4a0f14" stroke-width="1.5" stroke-linecap="round"/>
<path d="M797.1 180.3C798.1 177.1 800.6 166.3 803.4 161.4C806.2 156.5 811.1 153.3 813.9 150.9C816.7 148.4 819.1 147.4 820.2 146.7" fill="none" stroke="#4a0f14" stroke-width="1.5" stroke-linecap="round"/>
<path d="M803.4 161.4C804.1 160 805.5 156.5 807.6 153C809.7 149.5 814.6 142.5 816 140.4" fill="none" stroke="#4a0f14" stroke-width="1.5" stroke-linecap="round"/>
<path d="M795 195C796 192.2 799.5 182.4 801.3 178.2C803 174 804.8 171.2 805.5 169.8" fill="none" stroke="#4a0f14" stroke-width="1.5" stroke-linecap="round"/>
<path d="M628 186C627 182.7 624.7 172 622 166C619.3 160 614.3 156 612 150C609.7 144 608.7 133.3 608 130" fill="none" stroke="#4a0f14" stroke-width="1.5" stroke-linecap="round"/>
<path d="M622 166C623.3 165 628.3 162 630 160C631.7 158 631.7 155 632 154" fill="none" stroke="#4a0f14" stroke-width="1.5" stroke-linecap="round"/>
<path d="M612 150 L616 142" fill="none" stroke="#4a0f14" stroke-width="1.5" stroke-linecap="round"/>
<path d="M650 180C648.7 178 643.7 171.3 642 168C640.3 164.7 640.3 161.3 640 160" fill="none" stroke="#4a0f14" stroke-width="1.5" stroke-linecap="round"/>
<path d="M650 180C651.3 177.7 656.3 169.7 658 166C659.7 162.3 659.7 159.3 660 158" fill="none" stroke="#4a0f14" stroke-width="1.5" stroke-linecap="round"/>
<path d="M627.8 182.4C626.7 179.2 623.9 169.1 621.5 163.5C619 157.9 615.4 154.7 613.1 148.8C610.8 142.8 608.7 131.3 607.8 127.8" fill="none" stroke="#d23a44" stroke-width="0.7" stroke-linecap="round"/>
<path d="M627.8 182.4C628.5 178.9 631.1 166.3 632 161.4C632.9 156.5 632.9 154.4 633 153" fill="none" stroke="#d23a44" stroke-width="0.7" stroke-linecap="round"/>
<path d="M621.5 163.5C622 161.7 624.3 156.5 624.6 153C625 149.5 623.8 144.2 623.6 142.5" fill="none" stroke="#d23a44" stroke-width="0.7" stroke-linecap="round"/>
<path d="M613.1 148.8 L617.3 140.4" fill="none" stroke="#d23a44" stroke-width="0.7" stroke-linecap="round"/>
<path d="M653 180.3C651.9 179.2 648.8 177.5 646.7 174C644.6 170.5 641.6 163.1 640.4 159.3C639.2 155.4 639.5 152.3 639.3 150.9" fill="none" stroke="#d23a44" stroke-width="0.7" stroke-linecap="round"/>
<path d="M646.7 174C647.7 171.5 651.6 162.8 653 159.3C654.4 155.8 654.7 154 655.1 153" fill="none" stroke="#d23a44" stroke-width="0.7" stroke-linecap="round"/>
<path d="M653 180.3C654 178.5 657.9 172.9 659.3 169.8C660.7 166.6 661 162.8 661.4 161.4" fill="none" stroke="#d23a44" stroke-width="0.7" stroke-linecap="round"/>
<path d="M682.4 178.2C681 175 675.7 163.8 674 159.3C672.2 154.7 672.2 152.3 671.9 150.9" fill="none" stroke="#d23a44" stroke-width="0.7" stroke-linecap="round"/>
<path d="M682.4 178.2C683.8 175.7 688.3 169.4 690.8 163.5C693.2 157.5 695.7 148.4 697.1 142.5C698.5 136.5 698.8 130.2 699.2 127.8" fill="none" stroke="#d23a44" stroke-width="0.7" stroke-linecap="round"/>
<path d="M690.8 163.5 L699.2 159.3" fill="none" stroke="#d23a44" stroke-width="0.7" stroke-linecap="round"/>
<path d="M674 159.3 L680.3 153" fill="none" stroke="#d23a44" stroke-width="0.7" stroke-linecap="round"/>
<path d="M712.8 169.8C712 166.3 708.8 155.4 707.6 148.8C706.4 142.1 705.8 133 705.5 129.9" fill="none" stroke="#d23a44" stroke-width="0.7" stroke-linecap="round"/>
<path d="M712.8 169.8C714.4 167 720 160.7 722.3 153C724.6 145.3 725.8 128.5 726.5 123.6" fill="none" stroke="#d23a44" stroke-width="0.7" stroke-linecap="round"/>
<path d="M716 182.4C717.7 181 723.7 176.4 726.5 174C729.3 171.5 731.7 168.7 732.8 167.7" fill="none" stroke="#d23a44" stroke-width="0.7" stroke-linecap="round"/>
<path d="M707.6 148.8 L713.9 140.4" fill="none" stroke="#d23a44" stroke-width="0.7" stroke-linecap="round"/>
<path d="M722.3 153 L730.7 144.6" fill="none" stroke="#d23a44" stroke-width="0.7" stroke-linecap="round"/>
<path d="M752.7 178.2C751.5 174 747.3 161.4 745.4 153C743.5 144.6 741.9 132 741.2 127.8" fill="none" stroke="#d23a44" stroke-width="0.7" stroke-linecap="round"/>
<path d="M752.7 178.2C754 174 757.5 161.7 760.1 153C762.7 144.2 767.1 130.2 768.5 125.7" fill="none" stroke="#d23a44" stroke-width="0.7" stroke-linecap="round"/>
<path d="M745.4 153C746.4 151.2 750.3 146 751.7 142.5C753.1 139 753.4 133.7 753.8 132" fill="none" stroke="#d23a44" stroke-width="0.7" stroke-linecap="round"/>
<path d="M760.1 153 L755.9 140.4" fill="none" stroke="#d23a44" stroke-width="0.7" stroke-linecap="round"/>
<path d="M775.8 186.6C774.3 184.5 768.3 177.5 766.4 174C764.5 170.5 764.6 167 764.3 165.6" fill="none" stroke="#d23a44" stroke-width="0.7" stroke-linecap="round"/>
<path d="M775.8 186.6C777.4 184.5 782.7 179.6 785.3 174C787.9 168.4 789.5 159.3 791.6 153C793.7 146.7 796.8 139 797.9 136.2" fill="none" stroke="#d23a44" stroke-width="0.7" stroke-linecap="round"/>
<path d="M785.3 174C784.2 171.5 779.9 163.8 779 159.3C778.1 154.7 779.9 148.8 780 146.7" fill="none" stroke="#d23a44" stroke-width="0.7" stroke-linecap="round"/>
<path d="M713.1 159.3C712 156.8 708.2 149.8 706.8 144.6C705.4 139.3 705 130.6 704.7 127.8" fill="none" stroke="#d23a44" stroke-width="0.7" stroke-linecap="round"/>
<path d="M713.1 159.3C714.5 157.2 719 152.6 721.5 146.7C723.9 140.7 726.7 127.4 727.8 123.6" fill="none" stroke="#d23a44" stroke-width="0.7" stroke-linecap="round"/>
<path d="M721.5 146.7C722.9 145.3 727.8 141.8 729.9 138.3C732 134.8 733.4 127.8 734.1 125.7" fill="none" stroke="#d23a44" stroke-width="0.7" stroke-linecap="round"/>
<path d="M717.3 180.3C718.7 178.9 723.2 174.3 725.7 171.9C728.1 169.4 730.9 166.6 732 165.6" fill="none" stroke="#d23a44" stroke-width="0.7" stroke-linecap="round"/>
<path d="M753 178.2C751.6 174 746.3 161.4 744.6 153C742.8 144.6 742.8 132 742.5 127.8" fill="none" stroke="#d23a44" stroke-width="0.7" stroke-linecap="round"/>
<path d="M753 178.2C754 174 758.2 161.7 759.3 153C760.3 144.2 759.3 130.2 759.3 125.7" fill="none" stroke="#d23a44" stroke-width="0.7" stroke-linecap="round"/>
<path d="M759.3 153C760.7 150.9 765.9 145.3 767.7 140.4C769.4 135.5 769.4 126.4 769.8 123.6" fill="none" stroke="#d23a44" stroke-width="0.7" stroke-linecap="round"/>
<path d="M744.6 153 L748.8 140.4" fill="none" stroke="#d23a44" stroke-width="0.7" stroke-linecap="round"/>
<path d="M774 188.7C772.6 186.2 767.2 177.8 765.6 174C764 170.1 764.7 167 764.5 165.6" fill="none" stroke="#d23a44" stroke-width="0.7" stroke-linecap="round"/>
<path d="M774 188.7C775.7 186.2 783.4 179.9 784.5 174C785.5 168 781.3 158.9 780.3 153C779.2 147 778.5 140.7 778.2 138.3" fill="none" stroke="#d23a44" stroke-width="0.7" stroke-linecap="round"/>
<path d="M784.5 174C785.9 171.5 790.4 164.9 792.9 159.3C795.3 153.7 798.1 143.5 799.2 140.4" fill="none" stroke="#d23a44" stroke-width="0.7" stroke-linecap="round"/>
<path d="M792.9 159.3 L803.4 153" fill="none" stroke="#d23a44" stroke-width="0.7" stroke-linecap="round"/>
<path d="M797.1 180.3C798.1 177.1 800.6 166.3 803.4 161.4C806.2 156.5 811.1 153.3 813.9 150.9C816.7 148.4 819.1 147.4 820.2 146.7" fill="none" stroke="#d23a44" stroke-width="0.7" stroke-linecap="round"/>
<path d="M803.4 161.4C804.1 160 805.5 156.5 807.6 153C809.7 149.5 814.6 142.5 816 140.4" fill="none" stroke="#d23a44" stroke-width="0.7" stroke-linecap="round"/>
<path d="M795 195C796 192.2 799.5 182.4 801.3 178.2C803 174 804.8 171.2 805.5 169.8" fill="none" stroke="#d23a44" stroke-width="0.7" stroke-linecap="round"/>
<path d="M628 186C627 182.7 624.7 172 622 166C619.3 160 614.3 156 612 150C609.7 144 608.7 133.3 608 130" fill="none" stroke="#d23a44" stroke-width="0.7" stroke-linecap="round"/>
<path d="M622 166C623.3 165 628.3 162 630 160C631.7 158 631.7 155 632 154" fill="none" stroke="#d23a44" stroke-width="0.7" stroke-linecap="round"/>
<path d="M612 150 L616 142" fill="none" stroke="#d23a44" stroke-width="0.7" stroke-linecap="round"/>
<path d="M650 180C648.7 178 643.7 171.3 642 168C640.3 164.7 640.3 161.3 640 160" fill="none" stroke="#d23a44" stroke-width="0.7" stroke-linecap="round"/>
<path d="M650 180C651.3 177.7 656.3 169.7 658 166C659.7 162.3 659.7 159.3 660 158" fill="none" stroke="#d23a44" stroke-width="0.7" stroke-linecap="round"/>
<path d="M619.8 130.4Q617.7 125.3 623.1 124.3L677.4 114.7Q682.8 113.7 684.1 119.1L689.1 140.9Q690.4 146.3 684.9 147L634.9 153.7Q629.5 154.5 627.4 149.4Z" fill="#f6d5cf" stroke="#1a1210" stroke-width="1.6"/>
<path d="M621.5 130.9C626.7 129.7 642.8 125.6 653 123.6C663.1 121.6 677.5 119.7 682.4 119" fill="none" stroke="#f0a7b8" stroke-width="5.2"/>
<path d="M621.5 128.2C626.7 127 642.9 123 653 121.1C663.1 119.1 677.1 117.2 682 116.5" fill="none" stroke="#3a1d24" stroke-width="2.6"/>
<path d="M622.5 133.7C627.6 132.5 642.8 128.7 653 126.7C663.2 124.8 678.5 122.7 683.7 121.9" fill="none" stroke="#5a3038" stroke-width="1.2"/>
<ellipse cx="633.5" cy="141" rx="2.3" ry="1.9" fill="#efe05a" stroke="#3a3010" stroke-width="0.7"/>
<ellipse cx="639.3" cy="137.1" rx="2.3" ry="1.9" fill="#efe05a" stroke="#3a3010" stroke-width="0.7"/>
<ellipse cx="637.4" cy="140.5" rx="2.3" ry="1.9" fill="#efe05a" stroke="#3a3010" stroke-width="0.7"/>
<ellipse cx="639.3" cy="143.9" rx="2.3" ry="1.9" fill="#efe05a" stroke="#3a3010" stroke-width="0.7"/>
<ellipse cx="643.2" cy="136.7" rx="2.3" ry="1.9" fill="#efe05a" stroke="#3a3010" stroke-width="0.7"/>
<ellipse cx="641.3" cy="140.1" rx="2.3" ry="1.9" fill="#efe05a" stroke="#3a3010" stroke-width="0.7"/>
<ellipse cx="643.2" cy="143.5" rx="2.3" ry="1.9" fill="#efe05a" stroke="#3a3010" stroke-width="0.7"/>
<ellipse cx="647.1" cy="136.2" rx="2.3" ry="1.9" fill="#efe05a" stroke="#3a3010" stroke-width="0.7"/>
<ellipse cx="645.2" cy="139.6" rx="2.3" ry="1.9" fill="#efe05a" stroke="#3a3010" stroke-width="0.7"/>
<ellipse cx="647.1" cy="143" rx="2.3" ry="1.9" fill="#efe05a" stroke="#3a3010" stroke-width="0.7"/>
<ellipse cx="651" cy="135.8" rx="2.3" ry="1.9" fill="#efe05a" stroke="#3a3010" stroke-width="0.7"/>
<ellipse cx="649.1" cy="139.2" rx="2.3" ry="1.9" fill="#efe05a" stroke="#3a3010" stroke-width="0.7"/>
<ellipse cx="651" cy="142.6" rx="2.3" ry="1.9" fill="#efe05a" stroke="#3a3010" stroke-width="0.7"/>
<ellipse cx="654.9" cy="135.3" rx="2.3" ry="1.9" fill="#efe05a" stroke="#3a3010" stroke-width="0.7"/>
<ellipse cx="653" cy="138.7" rx="2.3" ry="1.9" fill="#efe05a" stroke="#3a3010" stroke-width="0.7"/>
<ellipse cx="654.9" cy="142.1" rx="2.3" ry="1.9" fill="#efe05a" stroke="#3a3010" stroke-width="0.7"/>
<ellipse cx="658.8" cy="134.9" rx="2.3" ry="1.9" fill="#efe05a" stroke="#3a3010" stroke-width="0.7"/>
<ellipse cx="656.9" cy="138.3" rx="2.3" ry="1.9" fill="#efe05a" stroke="#3a3010" stroke-width="0.7"/>
<ellipse cx="658.8" cy="141.7" rx="2.3" ry="1.9" fill="#efe05a" stroke="#3a3010" stroke-width="0.7"/>
<ellipse cx="662.7" cy="134.4" rx="2.3" ry="1.9" fill="#efe05a" stroke="#3a3010" stroke-width="0.7"/>
<ellipse cx="660.8" cy="137.8" rx="2.3" ry="1.9" fill="#efe05a" stroke="#3a3010" stroke-width="0.7"/>
<ellipse cx="662.7" cy="141.2" rx="2.3" ry="1.9" fill="#efe05a" stroke="#3a3010" stroke-width="0.7"/>
<ellipse cx="666.6" cy="134" rx="2.3" ry="1.9" fill="#efe05a" stroke="#3a3010" stroke-width="0.7"/>
<ellipse cx="664.7" cy="137.4" rx="2.3" ry="1.9" fill="#efe05a" stroke="#3a3010" stroke-width="0.7"/>
<ellipse cx="666.6" cy="140.8" rx="2.3" ry="1.9" fill="#efe05a" stroke="#3a3010" stroke-width="0.7"/>
<ellipse cx="670.5" cy="133.5" rx="2.3" ry="1.9" fill="#efe05a" stroke="#3a3010" stroke-width="0.7"/>
<ellipse cx="668.6" cy="136.9" rx="2.3" ry="1.9" fill="#efe05a" stroke="#3a3010" stroke-width="0.7"/>
<ellipse cx="670.5" cy="140.3" rx="2.3" ry="1.9" fill="#efe05a" stroke="#3a3010" stroke-width="0.7"/>
<ellipse cx="672.5" cy="136.5" rx="2.3" ry="1.9" fill="#efe05a" stroke="#3a3010" stroke-width="0.7"/>
<path d="M530 141C533.1 137 543.9 132.5 550 130C556.1 127.5 570.7 121.5 576 122C581.3 122.5 586.8 129.7 590 134C593.2 138.3 598 148.4 600 154C602 159.6 604.3 170.9 605 176C605.7 181.1 608.1 188.8 605.6 192C603.1 195.2 591.8 197.8 586 200C580.2 202.2 566.8 208.4 562 208.4C557.2 208.4 553.7 203.3 550 200C546.3 196.7 537.1 189.3 534 184C530.9 178.7 527.5 165.7 527 160C526.5 154.3 526.9 145 530 141Z" fill="#e6a0c0" stroke="#1a1210" stroke-width="1.5"/>
<path d="M570 130C574.3 129.3 582 140 586 146C590 152 592.7 159.3 594 166C595.3 172.7 597 181.3 594 186C591 190.7 580.7 195.7 576 194C571.3 192.3 568.7 183.3 566 176C563.3 168.7 559.3 157.7 560 150C560.7 142.3 565.7 130.7 570 130Z" fill="#f3d0e0" filter="url(#soft4)" opacity="0.95"/>
<clipPath id="itube"><path d="M530 141C533.1 137 543.9 132.5 550 130C556.1 127.5 570.7 121.5 576 122C581.3 122.5 586.8 129.7 590 134C593.2 138.3 598 148.4 600 154C602 159.6 604.3 170.9 605 176C605.7 181.1 608.1 188.8 605.6 192C603.1 195.2 591.8 197.8 586 200C580.2 202.2 566.8 208.4 562 208.4C557.2 208.4 553.7 203.3 550 200C546.3 196.7 537.1 189.3 534 184C530.9 178.7 527.5 165.7 527 160C526.5 154.3 526.9 145 530 141Z"/></clipPath>
<g clip-path="url(#itube)">
<path d="M530 140C535.8 137.7 553.3 129.7 565 126C576.7 122.3 594.2 119.3 600 118" fill="none" stroke="#fbeaf2" stroke-width="0.9" opacity="0.41"/>
<path d="M530.4 142.7C536.2 140.4 553.7 132.7 565.4 129.1C577.1 125.5 594.6 122.4 600.4 121.1" fill="none" stroke="#d887ae" stroke-width="0.8" opacity="0.25"/>
<path d="M530.8 145.4C536.6 143.2 554.1 135.7 565.8 132.2C577.5 128.6 595 125.6 600.8 124.2" fill="none" stroke="#d887ae" stroke-width="1.1" opacity="0.44"/>
<path d="M531.2 148.2C537 146 554.5 138.7 566.2 135.2C577.9 131.8 595.4 128.7 601.2 127.4" fill="none" stroke="#fbeaf2" stroke-width="1.3" opacity="0.43"/>
<path d="M531.6 150.9C537.4 148.8 554.9 141.7 566.6 138.3C578.3 134.9 595.8 131.8 601.6 130.5" fill="none" stroke="#b85e8c" stroke-width="0.7" opacity="0.44"/>
<path d="M532 153.6C537.8 151.6 555.3 144.7 567 141.4C578.7 138.1 596.2 134.9 602 133.6" fill="none" stroke="#fbeaf2" stroke-width="1" opacity="0.35"/>
<path d="M532.4 156.3C538.2 154.3 555.7 147.7 567.4 144.5C579.1 141.2 596.6 138 602.4 136.7" fill="none" stroke="#f6dbe8" stroke-width="0.8" opacity="0.50"/>
<path d="M532.8 159C538.6 157.1 556.1 150.8 567.8 147.6C579.5 144.4 597 141.1 602.8 139.8" fill="none" stroke="#c8709c" stroke-width="1.2" opacity="0.50"/>
<path d="M533.2 161.8C539 159.9 556.5 153.8 568.2 150.6C579.9 147.5 597.4 144.2 603.2 143" fill="none" stroke="#fbeaf2" stroke-width="1.4" opacity="0.28"/>
<path d="M533.6 164.5C539.4 162.7 556.9 156.8 568.6 153.7C580.3 150.7 597.8 147.4 603.6 146.1" fill="none" stroke="#c8709c" stroke-width="1.4" opacity="0.45"/>
<path d="M534 167.2C539.8 165.5 557.3 159.8 569 156.8C580.7 153.8 598.2 150.5 604 149.2" fill="none" stroke="#f6dbe8" stroke-width="0.8" opacity="0.55"/>
<path d="M534.4 169.9C540.2 168.2 557.7 162.8 569.4 159.9C581.1 156.9 598.6 153.6 604.4 152.3" fill="none" stroke="#fbeaf2" stroke-width="0.8" opacity="0.38"/>
<path d="M534.8 172.6C540.6 171 558.1 165.8 569.8 163C581.5 160.1 599 156.7 604.8 155.4" fill="none" stroke="#f6dbe8" stroke-width="1.2" opacity="0.51"/>
<path d="M535.2 175.4C541 173.8 558.5 168.8 570.2 166C581.9 163.2 599.4 159.8 605.2 158.6" fill="none" stroke="#b85e8c" stroke-width="0.8" opacity="0.46"/>
<path d="M535.6 178.1C541.4 176.6 558.9 171.9 570.6 169.1C582.3 166.4 599.8 162.9 605.6 161.7" fill="none" stroke="#c8709c" stroke-width="1.2" opacity="0.40"/>
<path d="M536 180.8C541.8 179.4 559.3 174.9 571 172.2C582.7 169.5 600.2 166 606 164.8" fill="none" stroke="#c8709c" stroke-width="1.1" opacity="0.38"/>
<path d="M536.4 183.5C542.2 182.1 559.7 177.9 571.4 175.3C583.1 172.7 600.6 169.1 606.4 167.9" fill="none" stroke="#b85e8c" stroke-width="1.1" opacity="0.43"/>
<path d="M536.8 186.2C542.6 184.9 560.1 180.9 571.8 178.4C583.5 175.8 601 172.3 606.8 171" fill="none" stroke="#b85e8c" stroke-width="0.7" opacity="0.47"/>
<path d="M537.2 189C543 187.7 560.5 183.9 572.2 181.4C583.9 179 601.4 175.4 607.2 174.2" fill="none" stroke="#f6dbe8" stroke-width="1.6" opacity="0.45"/>
<path d="M537.6 191.7C543.4 190.5 560.9 186.9 572.6 184.5C584.3 182.1 601.8 178.5 607.6 177.3" fill="none" stroke="#d887ae" stroke-width="1.5" opacity="0.51"/>
<path d="M538 194.4C543.8 193.3 561.3 189.9 573 187.6C584.7 185.3 602.2 181.6 608 180.4" fill="none" stroke="#fbeaf2" stroke-width="1.3" opacity="0.28"/>
<path d="M538.4 197.1C544.2 196 561.7 192.9 573.4 190.7C585.1 188.4 602.6 184.7 608.4 183.5" fill="none" stroke="#f6dbe8" stroke-width="1" opacity="0.36"/>
<path d="M538.8 199.8C544.6 198.8 562.1 196 573.8 193.8C585.5 191.6 603 187.8 608.8 186.6" fill="none" stroke="#b85e8c" stroke-width="1.4" opacity="0.40"/>
<path d="M539.2 202.6C545 201.6 562.5 199 574.2 196.8C585.9 194.7 603.4 190.9 609.2 189.8" fill="none" stroke="#c8709c" stroke-width="1" opacity="0.51"/>
<path d="M539.6 205.3C545.4 204.4 562.9 202 574.6 199.9C586.3 197.9 603.8 194.1 609.6 192.9" fill="none" stroke="#c8709c" stroke-width="1.2" opacity="0.32"/>
<path d="M540 208C545.8 207.2 563.3 205 575 203C586.7 201 604.2 197.2 610 196" fill="none" stroke="#fbeaf2" stroke-width="0.7" opacity="0.31"/>
</g>
<path d="M530 141C533.1 137 543.9 132.5 550 130C556.1 127.5 570.7 121.5 576 122C581.3 122.5 586.8 129.7 590 134C593.2 138.3 598 148.4 600 154C602 159.6 604.3 170.9 605 176C605.7 181.1 608.1 188.8 605.6 192C603.1 195.2 591.8 197.8 586 200C580.2 202.2 566.8 208.4 562 208.4C557.2 208.4 553.7 203.3 550 200C546.3 196.7 537.1 189.3 534 184C530.9 178.7 527.5 165.7 527 160C526.5 154.3 526.9 145 530 141Z" fill="none" stroke="#1a1210" stroke-width="1.7"/>
<g transform="rotate(-14 543.6 176)">
<ellipse cx="543.6" cy="176" rx="15.6" ry="33.5" fill="#eab0cb" stroke="#1a1210" stroke-width="1.5"/>
<ellipse cx="543.9" cy="176" rx="11.8" ry="28.5" fill="#e9a7c3" stroke="#1a1210" stroke-width="2.6"/>
<ellipse cx="545.5" cy="176" rx="7.5" ry="22" fill="#f0c2d6" filter="url(#soft1)"/>
</g>
<!-- knee -->
<g filter="url(#soft)"><path d="M260.3 649.8C260.2 653.8 260.7 665.2 259.6 674C258.5 682.8 256 694.5 253.7 702.6C251.4 710.7 247.3 719.1 246 722.4" fill="none" stroke="#8c8c8c" stroke-width="5" opacity="0.45" stroke-linecap="round"/><rect x="170" y="630" width="1" height="1" fill="none"/><rect x="420" y="1040" width="1" height="1" fill="#fff" opacity="0.01"/><rect x="170" y="630" width="1" height="1" fill="#fff" opacity="0.01"/></g>
<g filter="url(#soft)"><path d="M285.6 652C283.4 655.7 276.1 666.7 272.4 674C268.7 681.3 266.5 689.4 263.6 696C260.7 702.6 256.3 710.7 254.8 713.6" fill="none" stroke="#9a9a9a" stroke-width="4" opacity="0.35" stroke-linecap="round"/><rect x="170" y="630" width="1" height="1" fill="none"/><rect x="420" y="1040" width="1" height="1" fill="#fff" opacity="0.01"/><rect x="170" y="630" width="1" height="1" fill="#fff" opacity="0.01"/></g>
<g filter="url(#soft)"><path d="M327 654.2C327.1 658.2 327 670 327.9 678.4C328.7 686.8 330.2 697.1 331.8 704.8C333.4 712.5 336.4 721.3 337.3 724.6" fill="none" stroke="#8c8c8c" stroke-width="5" opacity="0.4" stroke-linecap="round"/><rect x="170" y="630" width="1" height="1" fill="none"/><rect x="420" y="1040" width="1" height="1" fill="#fff" opacity="0.01"/><rect x="170" y="630" width="1" height="1" fill="#fff" opacity="0.01"/></g>
<g filter="url(#soft)"><path d="M272.4 707C270.6 710.3 263.6 719.8 261.4 726.8C259.2 733.8 258.1 743.7 259.2 748.8C260.3 753.9 266.5 756.1 268 757.6" fill="none" stroke="#7d7d7d" stroke-width="6" opacity="0.5" stroke-linecap="round"/><rect x="170" y="630" width="1" height="1" fill="none"/><rect x="420" y="1040" width="1" height="1" fill="#fff" opacity="0.01"/><rect x="170" y="630" width="1" height="1" fill="#fff" opacity="0.01"/></g>
<g filter="url(#soft)"><path d="M303.2 713.6C303.9 716.2 307.2 723.5 307.6 729C308 734.5 307.6 742.2 305.4 746.6C303.2 751 296.2 753.9 294.4 755.4" fill="none" stroke="#7d7d7d" stroke-width="6" opacity="0.5" stroke-linecap="round"/><rect x="170" y="630" width="1" height="1" fill="none"/><rect x="420" y="1040" width="1" height="1" fill="#fff" opacity="0.01"/><rect x="170" y="630" width="1" height="1" fill="#fff" opacity="0.01"/></g>
<g filter="url(#soft)"><path d="M316.4 753.2C319.3 752.7 328.9 749.8 334 749.9C339.1 750 345 753 347.2 753.7" fill="none" stroke="#7f7f7f" stroke-width="6" opacity="0.45" stroke-linecap="round"/><rect x="170" y="630" width="1" height="1" fill="none"/><rect x="420" y="1040" width="1" height="1" fill="#fff" opacity="0.01"/><rect x="170" y="630" width="1" height="1" fill="#fff" opacity="0.01"/></g>
<g filter="url(#soft)"><path d="M268 755.9C270.2 756.2 276.8 758.1 281.2 758.1C285.6 758.1 292.2 756.2 294.4 755.9" fill="none" stroke="#858585" stroke-width="6" opacity="0.42" stroke-linecap="round"/><rect x="170" y="630" width="1" height="1" fill="none"/><rect x="420" y="1040" width="1" height="1" fill="#fff" opacity="0.01"/><rect x="170" y="630" width="1" height="1" fill="#fff" opacity="0.01"/></g>
<g filter="url(#soft)"><path d="M263.6 759.8C266.5 756.7 281.9 756 290 756.5C298.1 757.1 302.5 762.9 312 763.1C321.5 763.3 339.9 757.1 347.2 757.6C354.6 758.2 358.2 763.5 356 766.4C353.8 769.3 342.8 773 334 775.2C325.2 777.4 313.5 779.6 303.2 779.6C292.9 779.6 279 778.5 272.4 775.2C265.8 771.9 260.7 762.9 263.6 759.8Z" fill="#a4a9ab" opacity="0.5"/><rect x="420" y="1040" width="1" height="1" fill="#fff" opacity="0.01"/><rect x="170" y="630" width="1" height="1" fill="#fff" opacity="0.01"/></g>
<path d="M253.7 766.1C255.8 764.6 265.1 773.8 269.8 775.6C274.5 777.4 281.7 780 288.8 779.8C295.9 779.6 315.9 775.7 323 774.1C330.1 772.5 338 770.1 342 768C346.1 765.9 351 756.2 353.4 758.5C355.8 760.8 361.6 778 360.1 785.1C358.5 792.2 345.9 807.1 342 811.7C338.1 816.3 334.7 818.9 330.6 819.7C326.6 820.5 316.2 818.3 311.6 817.8C307 817.2 300.5 814.7 296.4 815.5C292.3 816.3 284.2 820.7 281.2 823.5C278.2 826.3 275.6 832.7 273.6 836.4C271.6 840.2 268.8 848.3 266 851.6C263.2 854.9 255.4 859.4 252.7 861.5C250 863.6 247.1 868.5 245.5 867.2C243.9 865.9 240.5 856 240.9 851.6C241.3 847.2 246.7 839.6 248.5 834.5C250.3 829.4 253.9 819.9 254.6 813.6C255.3 807.3 253.6 793.3 253.5 787C253.3 780.7 251.5 767.6 253.7 766.1Z" fill="#9aa5aa"/>
<g filter="url(#soft)"><path d="M262.2 777.5C267.6 776.2 278.7 784.8 288.8 785.1C298.9 785.4 312.9 782.3 323 779.4C333.1 776.6 344.2 767.1 349.6 768C355 769 357.2 778.8 355.3 785.1C353.4 791.4 345.5 801.9 338.2 806C330.9 810.1 319.8 809.8 311.6 809.8C303.4 809.8 295.8 804.4 288.8 806C281.8 807.6 274.9 814.2 269.8 819.3C264.7 824.4 261.3 836.7 258.4 836.4C255.6 836.1 253 824.7 252.7 817.4C252.4 810.1 254.9 799.4 256.5 792.7C258.1 786.1 256.8 778.8 262.2 777.5Z" fill="#73808a" opacity="0.55"/><rect x="420" y="1040" width="1" height="1" fill="#fff" opacity="0.01"/><rect x="170" y="630" width="1" height="1" fill="#fff" opacity="0.01"/></g>
<g filter="url(#soft)"><path d="M271.7 792.7C275.8 789.5 293.6 793.3 304 792.7C314.5 792.1 331.2 787 334.4 788.9C337.6 790.8 329.3 801.3 323 804.1C316.7 807 303.7 804.7 296.4 806C289.1 807.3 283.4 813.9 279.3 811.7C275.2 809.5 267.6 795.9 271.7 792.7Z" fill="#c3ccd0" opacity="0.85"/><rect x="420" y="1040" width="1" height="1" fill="#fff" opacity="0.01"/><rect x="170" y="630" width="1" height="1" fill="#fff" opacity="0.01"/></g>
<path d="M260.3 792.7C263.5 791.8 272 788.6 279.3 787C286.6 785.4 294.8 784.5 304 783.2C313.2 781.9 326.2 781.9 334.4 779.4C342.6 776.9 350.2 769.9 353.4 768" fill="none" stroke="#4f7fa6" stroke-width="1.3" opacity="0.7"/>
<path d="M264.1 806C266.6 804.4 272.7 798.7 279.3 796.5C286 794.3 295.5 793.7 304 792.7C312.6 791.8 323 792.1 330.6 790.8C338.2 789.5 346.4 786.1 349.6 785.1" fill="none" stroke="#4f7fa6" stroke-width="1.3" opacity="0.7"/>
<path d="M269.8 819.3C271.7 817.7 276.8 812 281.2 809.8C285.6 807.6 290.7 806.3 296.4 806C302.1 805.7 309.1 807.3 315.4 807.9C321.7 808.5 331.2 809.5 334.4 809.8" fill="none" stroke="#4f7fa6" stroke-width="1.3" opacity="0.7"/>
<path d="M252.7 844C254.3 842.7 259.4 839.6 262.2 836.4C265.1 833.2 267.6 828.8 269.8 825C272 821.2 274.6 815.5 275.5 813.6" fill="none" stroke="#4f7fa6" stroke-width="1.3" opacity="0.7"/>
<path d="M247 859.2C248.9 857.9 255.2 854.8 258.4 851.6C261.6 848.4 264.7 842.1 266 840.2" fill="none" stroke="#4f7fa6" stroke-width="1.3" opacity="0.7"/>
<path d="M277.4 777.5C281.8 777.3 294.5 777.7 304 776.6C313.5 775.4 326.5 773.2 334.4 770.9C342.3 768.5 348.7 763.7 351.5 762.3" fill="none" stroke="#4f7fa6" stroke-width="1.3" opacity="0.7"/>
<path d="M262.2 787C266 787 276.8 787.6 285 787C293.2 786.4 307.2 783.8 311.6 783.2" fill="none" stroke="#3f474c" stroke-width="1.1" opacity="0.6"/>
<path d="M266 811.7C268.2 810.1 274.2 804.1 279.3 802.2C284.4 800.3 293.6 800.6 296.4 800.3" fill="none" stroke="#3f474c" stroke-width="1.1" opacity="0.6"/>
<path d="M254.6 828.8C256.2 827.2 261.3 823.1 264.1 819.3C267 815.5 270.4 808.2 271.7 806" fill="none" stroke="#3f474c" stroke-width="1.1" opacity="0.6"/>
<path d="M323 787C326.2 786.4 336.6 785.1 342 783.2C347.4 781.3 353.1 776.9 355.3 775.6" fill="none" stroke="#3f474c" stroke-width="1.1" opacity="0.6"/>
<path d="M256.5 847.8C258.1 845.9 263.2 840.2 266 836.4C268.9 832.6 272.3 826.9 273.6 825" fill="none" stroke="#3f474c" stroke-width="1.1" opacity="0.6"/>
<path d="M285 796.5C288.2 796.5 297 796.8 304 796.5C311 796.2 323 794.9 326.8 794.6" fill="none" stroke="#3f474c" stroke-width="1.1" opacity="0.6"/>
<clipPath id="kcap"><path d="M253.7 766.1C255.8 764.6 265.1 773.8 269.8 775.6C274.5 777.4 281.7 780 288.8 779.8C295.9 779.6 315.9 775.7 323 774.1C330.1 772.5 338 770.1 342 768C346.1 765.9 351 756.2 353.4 758.5C355.8 760.8 361.6 778 360.1 785.1C358.5 792.2 345.9 807.1 342 811.7C338.1 816.3 334.7 818.9 330.6 819.7C326.6 820.5 316.2 818.3 311.6 817.8C307 817.2 300.5 814.7 296.4 815.5C292.3 816.3 284.2 820.7 281.2 823.5C278.2 826.3 275.6 832.7 273.6 836.4C271.6 840.2 268.8 848.3 266 851.6C263.2 854.9 255.4 859.4 252.7 861.5C250 863.6 247.1 868.5 245.5 867.2C243.9 865.9 240.5 856 240.9 851.6C241.3 847.2 246.7 839.6 248.5 834.5C250.3 829.4 253.9 819.9 254.6 813.6C255.3 807.3 253.6 793.3 253.5 787C253.3 780.7 251.5 767.6 253.7 766.1Z"/></clipPath>
<g clip-path="url(#kcap)">
<path d="M272.2 778.2C276 778.8 286.8 782.1 295 782C303.2 781.8 312.1 780.4 321.6 777.2C331.1 774 346.9 765.3 352 763" fill="none" stroke="#6f94b3" stroke-width="0.6" opacity="0.48" stroke-linecap="round"/>
<path d="M295.4 789.5C299.8 788.7 312.5 787.9 322 784.7C331.5 781.5 347.3 772.8 352.4 770.5" fill="none" stroke="#6f94b3" stroke-width="0.6" opacity="0.43" stroke-linecap="round"/>
<path d="M299.1 784.3C303.5 783.5 316.2 782.7 325.7 779.6C335.2 776.4 351 767.7 356.1 765.3" fill="none" stroke="#4f7fa6" stroke-width="0.8" opacity="0.34" stroke-linecap="round"/>
<path d="M298 783.9C302.5 783.1 315.1 782.4 324.6 779.2C334.1 776 350 767.3 355.1 764.9" fill="none" stroke="#6f94b3" stroke-width="1.2" opacity="0.62" stroke-linecap="round"/>
<path d="M256 772.9C259.1 774.2 268 778.6 275 780.5C281.9 782.4 294 783.7 297.8 784.3" fill="none" stroke="#3f474c" stroke-width="1.1" opacity="0.62" stroke-linecap="round"/>
<path d="M272.7 776.7C276.5 777.4 287.2 780.7 295.5 780.5C303.7 780.4 312.6 779 322.1 775.8C331.6 772.6 347.4 763.9 352.5 761.5" fill="none" stroke="#6f94b3" stroke-width="1.2" opacity="0.61" stroke-linecap="round"/>
<path d="M256.7 770.1C259.8 771.4 268.7 775.8 275.7 777.7C282.6 779.6 290.2 781.7 298.5 781.5C306.7 781.3 320.6 777.5 325.1 776.7" fill="none" stroke="#4f7fa6" stroke-width="0.9" opacity="0.62" stroke-linecap="round"/>
<path d="M252.3 774.5C255.5 775.8 264.4 780.2 271.3 782.1C278.3 784 290.3 785.3 294.1 785.9" fill="none" stroke="#eef1f2" stroke-width="0.7" opacity="0.30" stroke-linecap="round"/>
<path d="M254.8 768.9C258 770.1 266.9 774.6 273.8 776.5C280.8 778.4 292.8 779.6 296.6 780.3" fill="none" stroke="#3f474c" stroke-width="1" opacity="0.49" stroke-linecap="round"/>
<path d="M253.9 783.9C257.1 784.6 265.6 787.1 272.9 787.7C280.2 788.4 289.1 788.4 297.6 787.7C306.2 787.1 319.8 784.6 324.2 783.9" fill="none" stroke="#eef1f2" stroke-width="0.7" opacity="0.50" stroke-linecap="round"/>
<path d="M253.8 787.6C257 788.2 265.5 790.7 272.8 791.4C280.1 792 293.4 791.4 297.5 791.4" fill="none" stroke="#2f363b" stroke-width="1.2" opacity="0.56" stroke-linecap="round"/>
<path d="M297.9 792.9C302.4 792.2 315 791.3 324.5 789.1C334 786.8 349.9 781.1 354.9 779.6" fill="none" stroke="#4f7fa6" stroke-width="0.7" opacity="0.48" stroke-linecap="round"/>
<path d="M302.3 791C306.7 790.4 319.4 789.4 328.9 787.2C338.4 785 354.2 779.3 359.3 777.7" fill="none" stroke="#2f363b" stroke-width="1.1" opacity="0.33" stroke-linecap="round"/>
<path d="M277.7 791.6C281.8 791.6 293.8 792.3 302.4 791.6C310.9 791 324.6 788.5 329 787.8" fill="none" stroke="#dfe5e8" stroke-width="0.7" opacity="0.37" stroke-linecap="round"/>
<path d="M299.5 791.9C303.9 791.2 316.6 790.3 326.1 788.1C335.6 785.9 351.4 780.2 356.5 778.6" fill="none" stroke="#3f474c" stroke-width="0.9" opacity="0.37" stroke-linecap="round"/>
<path d="M274.5 786.7C278.6 786.7 290.6 787.3 299.2 786.7C307.7 786.1 316.3 785.1 325.8 782.9C335.3 780.7 351.1 775 356.2 773.4" fill="none" stroke="#6f94b3" stroke-width="0.8" opacity="0.48" stroke-linecap="round"/>
<path d="M255.8 787.6C259 788.2 267.5 790.8 274.8 791.4C282.1 792 295.4 791.4 299.5 791.4" fill="none" stroke="#dfe5e8" stroke-width="0.9" opacity="0.55" stroke-linecap="round"/>
<path d="M256.1 784.3C259.2 784.9 267.8 787.5 275.1 788.1C282.3 788.7 295.6 788.1 299.8 788.1" fill="none" stroke="#eef1f2" stroke-width="0.9" opacity="0.43" stroke-linecap="round"/>
<path d="M294.2 796.3C298.7 796.3 311.7 797.3 320.8 796.3C330 795.4 344.6 791.6 349.3 790.6" fill="none" stroke="#6f94b3" stroke-width="1.2" opacity="0.39" stroke-linecap="round"/>
<path d="M257 798.8C259.5 798.8 265.8 799.5 272.2 798.8C278.5 798.2 291.2 795.7 295 795" fill="none" stroke="#3f474c" stroke-width="1" opacity="0.30" stroke-linecap="round"/>
<path d="M256.7 801.1C259.2 801.1 265.5 801.7 271.9 801.1C278.2 800.5 286.4 797.9 294.7 797.3C302.9 796.7 316.8 797.3 321.3 797.3" fill="none" stroke="#2f363b" stroke-width="0.6" opacity="0.58" stroke-linecap="round"/>
<path d="M273.5 800C277.3 799.3 288.1 796.8 296.3 796.2C304.5 795.5 318.5 796.2 322.9 796.2" fill="none" stroke="#3f474c" stroke-width="1.1" opacity="0.40" stroke-linecap="round"/>
<path d="M257.9 798.6C260.5 798.6 266.8 799.3 273.1 798.6C279.5 798 292.1 795.5 295.9 794.8" fill="none" stroke="#2f363b" stroke-width="1.1" opacity="0.43" stroke-linecap="round"/>
<path d="M260 806C262.6 806 268.9 806.6 275.2 806C281.6 805.4 289.8 802.8 298 802.2C306.3 801.6 320.2 802.2 324.6 802.2" fill="none" stroke="#dfe5e8" stroke-width="0.8" opacity="0.62" stroke-linecap="round"/>
<path d="M271.6 803.5C275.4 802.9 286.2 800.3 294.4 799.7C302.7 799.1 316.6 799.7 321 799.7" fill="none" stroke="#3f474c" stroke-width="0.7" opacity="0.58" stroke-linecap="round"/>
<path d="M256.5 801.8C259 801.8 265.3 802.4 271.7 801.8C278 801.1 290.7 798.6 294.5 798" fill="none" stroke="#2f363b" stroke-width="1" opacity="0.33" stroke-linecap="round"/>
<path d="M297 796C301.4 796 314.4 797 323.6 796C332.7 795.1 347.3 791.3 352.1 790.3" fill="none" stroke="#3f474c" stroke-width="1.3" opacity="0.31" stroke-linecap="round"/>
<path d="M289.1 808.1C292.9 808.5 303.6 809.7 311.9 810C320.1 810.4 334 810 338.5 810" fill="none" stroke="#2f363b" stroke-width="1" opacity="0.58" stroke-linecap="round"/>
<path d="M286.2 805.1C290 805.5 300.8 806.7 309 807C317.2 807.4 331.2 807 335.6 807" fill="none" stroke="#4f7fa6" stroke-width="0.7" opacity="0.54" stroke-linecap="round"/>
<path d="M269.7 813.1C272.9 812.4 281.8 809.6 288.7 809.3C295.7 809 307.7 810.9 311.5 811.2" fill="none" stroke="#3f474c" stroke-width="1.1" opacity="0.31" stroke-linecap="round"/>
<path d="M254.9 822.5C257.1 821.3 262.8 816.8 268.2 814.9C273.6 813 280.2 811.5 287.2 811.1C294.2 810.8 306.2 812.7 310 813" fill="none" stroke="#6f94b3" stroke-width="1" opacity="0.47" stroke-linecap="round"/>
<path d="M257.2 815.1C259.5 813.9 265.2 809.4 270.5 807.5C275.9 805.6 286.4 804.4 289.5 803.7" fill="none" stroke="#3f474c" stroke-width="1.1" opacity="0.44" stroke-linecap="round"/>
<path d="M254.6 820.4C256.9 819.1 262.6 814.7 267.9 812.8C273.3 810.9 283.8 809.6 286.9 809" fill="none" stroke="#4f7fa6" stroke-width="0.7" opacity="0.31" stroke-linecap="round"/>
<path d="M289.1 807.6C292.9 808 303.7 809.2 311.9 809.5C320.1 809.9 334.1 809.5 338.5 809.5" fill="none" stroke="#6f94b3" stroke-width="1.1" opacity="0.42" stroke-linecap="round"/>
<path d="M269.6 811.2C272.8 810.6 281.6 807.7 288.6 807.4C295.6 807.1 307.6 809 311.4 809.3" fill="none" stroke="#4f7fa6" stroke-width="1.3" opacity="0.65" stroke-linecap="round"/>
<path d="M258.9 821C261.1 819.7 266.8 815.3 272.2 813.4C277.5 811.5 288 810.2 291.2 809.6" fill="none" stroke="#dfe5e8" stroke-width="1.1" opacity="0.37" stroke-linecap="round"/>
<path d="M244.7 844C246.6 842.1 252.6 836.4 256.1 832.6C259.5 828.8 264 823.1 265.6 821.2" fill="none" stroke="#6f94b3" stroke-width="1.3" opacity="0.43" stroke-linecap="round"/>
<path d="M267.7 825.2C269 823.6 272.5 817.9 275.3 815.7C278.2 813.5 283.2 812.6 284.8 811.9" fill="none" stroke="#59646b" stroke-width="1.2" opacity="0.33" stroke-linecap="round"/>
<path d="M248.6 849.6C250.5 847.7 256.5 842 260 838.2C263.5 834.4 266.6 830.3 269.5 826.8C272.3 823.3 275.8 818.9 277.1 817.3" fill="none" stroke="#3f474c" stroke-width="0.9" opacity="0.63" stroke-linecap="round"/>
<path d="M247.1 847C249 845.1 255 839.4 258.5 835.6C262 831.8 266.4 826.1 268 824.2" fill="none" stroke="#59646b" stroke-width="0.9" opacity="0.41" stroke-linecap="round"/>
<path d="M248.1 844.1C250 842.2 256 836.5 259.5 832.7C263 828.9 267.4 823.2 269 821.3" fill="none" stroke="#3f474c" stroke-width="1.2" opacity="0.64" stroke-linecap="round"/>
<path d="M260.7 840.6C262.2 838.7 267.3 832.7 270.2 829.2C273 825.7 276.5 821.3 277.8 819.7" fill="none" stroke="#eef1f2" stroke-width="0.7" opacity="0.41" stroke-linecap="round"/>
<path d="M247.6 847.7C249.5 845.8 255.5 840.1 259 836.3C262.5 832.5 265.7 828.4 268.5 824.9C271.4 821.4 274.9 817 276.1 815.4" fill="none" stroke="#59646b" stroke-width="1.2" opacity="0.61" stroke-linecap="round"/>
<path d="M255.9 834.4C257.5 832.5 262.5 826.5 265.4 823C268.2 819.5 271.7 815.1 273 813.5" fill="none" stroke="#dfe5e8" stroke-width="1" opacity="0.50" stroke-linecap="round"/>
<path d="M256.5 835.4C258.1 833.5 263.2 827.5 266 824C268.9 820.5 270.8 816.7 273.6 814.5C276.5 812.3 281.5 811.4 283.1 810.7" fill="none" stroke="#59646b" stroke-width="0.7" opacity="0.41" stroke-linecap="round"/>
<path d="M243.4 861.7C245.3 860.1 251.3 855.6 254.8 852.1C258.3 848.7 262.7 842.6 264.3 840.7" fill="none" stroke="#4f7fa6" stroke-width="1.3" opacity="0.33" stroke-linecap="round"/>
<path d="M254.8 853.9C256.4 852 261.7 846 264.3 842.5C266.8 839 268.1 835.9 270 833C271.9 830.2 274.7 826.7 275.7 825.4" fill="none" stroke="#59646b" stroke-width="0.7" opacity="0.53" stroke-linecap="round"/>
<path d="M254.9 855.8C256.4 853.9 261.8 847.9 264.4 844.4C266.9 840.9 268.2 837.7 270.1 834.9C272 832 274.8 828.5 275.8 827.3" fill="none" stroke="#eef1f2" stroke-width="1.2" opacity="0.48" stroke-linecap="round"/>
<path d="M246.4 860.9C248.3 859.3 254.3 854.8 257.8 851.4C261.3 847.9 264.8 843.4 267.3 839.9C269.8 836.5 272.1 832 273 830.4" fill="none" stroke="#2f363b" stroke-width="0.7" opacity="0.38" stroke-linecap="round"/>
<path d="M254.1 851.8C255.6 849.9 261 843.9 263.6 840.4C266.1 836.9 268.3 832.5 269.3 830.9" fill="none" stroke="#6f94b3" stroke-width="0.7" opacity="0.59" stroke-linecap="round"/>
<path d="M255.8 854.4C257.4 852.5 262.8 846.5 265.3 843C267.9 839.5 269.1 836.3 271 833.5C272.9 830.6 275.8 827.1 276.7 825.9" fill="none" stroke="#eef1f2" stroke-width="0.7" opacity="0.54" stroke-linecap="round"/>
<path d="M254.7 857.7C256.3 855.8 261.7 849.7 264.2 846.3C266.7 842.8 268 839.6 269.9 836.8C271.8 833.9 274.7 830.4 275.6 829.2" fill="none" stroke="#2f363b" stroke-width="0.7" opacity="0.51" stroke-linecap="round"/>
<path d="M242.2 864.8C244.1 863.3 250.1 858.8 253.6 855.3C257 851.9 261.5 845.8 263.1 843.9" fill="none" stroke="#3f474c" stroke-width="0.8" opacity="0.48" stroke-linecap="round"/>
<path d="M268.5 844.6C269.4 843.1 272.3 838 274.2 835.1C276.1 832.3 278.9 828.8 279.9 827.5" fill="none" stroke="#59646b" stroke-width="0.8" opacity="0.48" stroke-linecap="round"/>
</g>
<path d="M338.2 819.3C340.5 811.7 355.9 788.3 359.1 787C362.3 785.7 361.7 803.7 362 809.8C362.2 815.9 361.9 827 361 832.6C360.1 838.2 357.3 847.3 355.3 851.6C353.3 855.9 347.8 863.4 345.8 864.9C343.8 866.4 340.6 865.8 340.1 863C339.6 860.2 342.3 849.8 342 844C341.8 838.2 335.9 826.9 338.2 819.3Z" fill="#8695a0"/>
<path d="M206.7 766.1C207.9 761.5 212.6 762 214.7 762.3C216.8 762.6 221.4 763.4 222.7 768C223.9 772.6 224.4 790.2 224.2 796.5C224 802.8 222.8 810.7 221.5 815.5C220.3 820.3 216.8 831.3 215.1 832.6C213.4 833.9 210.3 829.8 209 825C207.7 820.2 205.9 804.4 205.6 796.5C205.3 788.6 205.5 770.7 206.7 766.1Z" fill="#8c989d"/>
<g filter="url(#soft1)"><path d="M209 779.4C210.9 774.3 218.3 774.3 220.4 779.4C222.5 784.5 222.5 802.2 221.4 809.8C220.2 817.4 215.8 825 213.8 825C211.7 825 209.8 817.4 209 809.8C208.2 802.2 207.1 784.5 209 779.4Z" fill="#65717a" opacity="0.6"/><rect x="420" y="1040" width="1" height="1" fill="#fff" opacity="0.01"/><rect x="170" y="630" width="1" height="1" fill="#fff" opacity="0.01"/></g>
<g filter="url(#soft1)"><path d="M201.4 768C202.8 764.5 206.3 761.4 207.1 766.1C207.9 770.9 205.8 786.7 206.2 796.5C206.5 806.3 207.6 818.4 209 825C210.4 831.7 214.1 832 214.7 836.4C215.3 840.8 214.4 851.6 212.8 851.6C211.2 851.6 207.5 843.4 205.2 836.4C202.9 829.4 200.2 818 199.1 809.8C198 801.6 198.2 794 198.6 787C198.9 780 200 771.5 201.4 768Z" fill="#bdbdbd" opacity="0.7"/><rect x="420" y="1040" width="1" height="1" fill="#fff" opacity="0.01"/><rect x="170" y="630" width="1" height="1" fill="#fff" opacity="0.01"/></g>
<g filter="url(#soft)"><path d="M204.2 826.4C205.7 833 209.2 854.6 213 866C216.9 877.4 223.1 885.8 227.3 894.6C231.5 903.4 235.6 909.6 238.3 918.8C241.1 928 242.9 944.5 243.8 949.6" fill="none" stroke="#9a9a9a" stroke-width="7" opacity="0.45" stroke-linecap="round"/><rect x="170" y="630" width="1" height="1" fill="none"/><rect x="420" y="1040" width="1" height="1" fill="#fff" opacity="0.01"/><rect x="170" y="630" width="1" height="1" fill="#fff" opacity="0.01"/></g>
<g filter="url(#soft)"><path d="M320.8 892.4C319.7 897.5 316.2 912.9 314.2 923.2C312.2 933.5 310.4 943 308.7 954C307.1 965 305.2 978.2 304.3 989.2C303.4 1000.2 303.4 1014.9 303.2 1020" fill="none" stroke="#777" stroke-width="9" opacity="0.55" stroke-linecap="round"/><rect x="170" y="630" width="1" height="1" fill="none"/><rect x="420" y="1040" width="1" height="1" fill="#fff" opacity="0.01"/><rect x="170" y="630" width="1" height="1" fill="#fff" opacity="0.01"/></g>
<g filter="url(#soft)"><path d="M334 914.4C332.9 919.2 329.2 932.7 327.4 943C325.6 953.3 324.1 965 323 976C321.9 987 321.2 1003.5 320.8 1009" fill="none" stroke="#8a8a8a" stroke-width="5" opacity="0.5" stroke-linecap="round"/><rect x="170" y="630" width="1" height="1" fill="none"/><rect x="420" y="1040" width="1" height="1" fill="#fff" opacity="0.01"/><rect x="170" y="630" width="1" height="1" fill="#fff" opacity="0.01"/></g>
<g filter="url(#soft)"><path d="M246 954C246.6 958.4 248.6 971.6 249.3 980.4C250 989.2 250.2 1002.4 250.4 1006.8" fill="none" stroke="#9a9a9a" stroke-width="7" opacity="0.4" stroke-linecap="round"/><rect x="170" y="630" width="1" height="1" fill="none"/><rect x="420" y="1040" width="1" height="1" fill="#fff" opacity="0.01"/><rect x="170" y="630" width="1" height="1" fill="#fff" opacity="0.01"/></g>
<g filter="url(#soft)"><path d="M367 861.6C367.4 865.3 369.4 876.3 369.2 883.6C369 890.9 366.5 901.9 365.9 905.6" fill="none" stroke="#8a8a8a" stroke-width="6" opacity="0.45" stroke-linecap="round"/><rect x="170" y="630" width="1" height="1" fill="none"/><rect x="420" y="1040" width="1" height="1" fill="#fff" opacity="0.01"/><rect x="170" y="630" width="1" height="1" fill="#fff" opacity="0.01"/></g>
<g filter="url(#soft)"><path d="M353.8 923.2C354.9 921.7 358.6 917.7 360.4 914.4C362.3 911.1 364.1 905.2 364.8 903.4" fill="none" stroke="#777" stroke-width="5" opacity="0.45" stroke-linecap="round"/><rect x="170" y="630" width="1" height="1" fill="none"/><rect x="420" y="1040" width="1" height="1" fill="#fff" opacity="0.01"/><rect x="170" y="630" width="1" height="1" fill="#fff" opacity="0.01"/></g>
<g filter="url(#soft)"><path d="M342.8 932C342.6 937.9 342.4 956.2 341.7 967.2C341 978.2 339 992.9 338.4 998" fill="none" stroke="#aaa" stroke-width="4" opacity="0.4" stroke-linecap="round"/><rect x="170" y="630" width="1" height="1" fill="none"/><rect x="420" y="1040" width="1" height="1" fill="#fff" opacity="0.01"/><rect x="170" y="630" width="1" height="1" fill="#fff" opacity="0.01"/></g>
<g filter="url(#soft)"><path d="M320.8 872.6C324.5 868.9 331.1 864.9 334 866C336.9 867.1 338.8 874.8 338.4 879.2C338 883.6 334.7 889.5 331.8 892.4C328.9 895.3 324.1 897.5 320.8 896.8C317.5 896.1 312 892 312 888C312 884 317.1 876.3 320.8 872.6Z" fill="#999" opacity="0.5"/><rect x="420" y="1040" width="1" height="1" fill="#fff" opacity="0.01"/><rect x="170" y="630" width="1" height="1" fill="#fff" opacity="0.01"/></g>
<g filter="url(#soft)"><path d="M356 850.6C357.1 845.8 364.8 841.4 367 844C369.2 846.6 370.3 861.2 369.2 866C368.1 870.8 362.6 875.2 360.4 872.6C358.2 870 354.9 855.4 356 850.6Z" fill="#888" opacity="0.5"/><rect x="420" y="1040" width="1" height="1" fill="#fff" opacity="0.01"/><rect x="170" y="630" width="1" height="1" fill="#fff" opacity="0.01"/></g>
<g filter="url(#soft)"><path d="M224 872.6C225.1 870.4 233.5 878.1 237.2 883.6C240.9 889.1 245.3 900.5 246 905.6C246.7 910.7 244.2 915.9 241.6 914.4C239 912.9 233.5 903.8 230.6 896.8C227.7 889.8 222.9 874.8 224 872.6Z" fill="#999" opacity="0.45"/><rect x="420" y="1040" width="1" height="1" fill="#fff" opacity="0.01"/><rect x="170" y="630" width="1" height="1" fill="#fff" opacity="0.01"/></g>
<clipPath id="kpop"><path d="M359.5 784.2C357.2 782.7 346.3 807.1 342 812.1C337.7 817.1 328.3 823.5 323 827.3C317.7 831.1 302.2 840.4 296.4 844.4C290.6 848.4 278.5 857.7 273.6 861.5C268.7 865.3 258.1 873.6 254.6 876.7C251.1 879.8 245.2 885.5 243.6 888.1C241.9 890.7 240.2 894.9 240.5 899C240.8 903.1 244.6 917.3 246 923.2C247.4 929.1 251.3 944.2 252.6 949.6C253.9 955.1 254.9 970.6 257.4 969.9C260 969.1 270.3 949.5 274.6 943C278.9 936.5 289.5 920.8 294.4 914.4C299.3 908 311.8 893.7 316.4 888C321 882.4 329.9 871.1 334 866C338.1 860.9 348.4 848.9 351.6 844C354.9 839.1 360.8 831.2 361.7 824.2C362.7 817.2 361.8 785.6 359.5 784.2Z"/></clipPath>
<g clip-path="url(#kpop)">
<rect x="230" y="770" width="150" height="210" fill="#bd7a66"/>
<path d="M372 770C360 779.2 325 805.3 300 825C275 844.7 235 877.5 222 888" fill="none" stroke="#8f4a3c" stroke-width="0.9" opacity="0.49"/>
<path d="M372 772.4C360 781.7 325 808.1 300 827.9C275 847.7 235 880.8 222 891.3" fill="none" stroke="#d79a8c" stroke-width="1.5" opacity="0.62"/>
<path d="M371.9 774.9C359.9 784.2 324.9 810.8 299.9 830.8C274.9 850.7 234.9 884 221.9 894.7" fill="none" stroke="#a25a4a" stroke-width="1.1" opacity="0.43"/>
<path d="M371.9 777.3C359.9 786.7 324.9 813.6 299.9 833.7C274.9 853.8 234.9 887.3 221.9 898" fill="none" stroke="#8f4a3c" stroke-width="1.4" opacity="0.41"/>
<path d="M371.8 779.8C359.8 789.2 324.8 816.3 299.8 836.6C274.8 856.8 234.8 890.5 221.8 901.3" fill="none" stroke="#e2b1a6" stroke-width="1.4" opacity="0.67"/>
<path d="M371.8 782.2C359.8 791.8 324.8 819 299.8 839.4C274.8 859.9 234.8 893.8 221.8 904.7" fill="none" stroke="#7f4036" stroke-width="1.7" opacity="0.57"/>
<path d="M371.7 784.7C359.7 794.3 324.7 821.8 299.7 842.3C274.7 862.9 234.7 897.1 221.7 908" fill="none" stroke="#e2b1a6" stroke-width="1.3" opacity="0.71"/>
<path d="M371.7 787.1C359.7 796.8 324.7 824.5 299.7 845.2C274.7 865.9 234.7 900.3 221.7 911.3" fill="none" stroke="#8f4a3c" stroke-width="1.2" opacity="0.72"/>
<path d="M371.6 789.6C359.6 799.3 324.6 827.3 299.6 848.1C274.6 869 234.6 903.6 221.6 914.7" fill="none" stroke="#e2b1a6" stroke-width="1.2" opacity="0.70"/>
<path d="M371.6 792C359.6 801.8 324.6 830 299.6 851C274.6 872 234.6 906.8 221.6 918" fill="none" stroke="#d79a8c" stroke-width="1.4" opacity="0.44"/>
<path d="M371.6 794.4C359.6 804.4 324.6 832.7 299.6 853.9C274.6 875 234.6 910.1 221.6 921.3" fill="none" stroke="#8f4a3c" stroke-width="1" opacity="0.42"/>
<path d="M371.5 796.9C359.5 806.9 324.5 835.5 299.5 856.8C274.5 878.1 234.5 913.4 221.5 924.7" fill="none" stroke="#7f4036" stroke-width="1.3" opacity="0.75"/>
<path d="M371.5 799.3C359.5 809.4 324.5 838.2 299.5 859.7C274.5 881.1 234.5 916.6 221.5 928" fill="none" stroke="#c98a7c" stroke-width="1.4" opacity="0.75"/>
<path d="M371.4 801.8C359.4 811.9 324.4 841 299.4 862.6C274.4 884.1 234.4 919.9 221.4 931.3" fill="none" stroke="#e2b1a6" stroke-width="1.6" opacity="0.64"/>
<path d="M371.4 804.2C359.4 814.4 324.4 843.7 299.4 865.4C274.4 887.2 234.4 923.1 221.4 934.7" fill="none" stroke="#a25a4a" stroke-width="1.6" opacity="0.49"/>
<path d="M371.3 806.7C359.3 816.9 324.3 846.4 299.3 868.3C274.3 890.2 234.3 926.4 221.3 938" fill="none" stroke="#e2b1a6" stroke-width="1" opacity="0.65"/>
<path d="M371.3 809.1C359.3 819.5 324.3 849.2 299.3 871.2C274.3 893.3 234.3 929.6 221.3 941.3" fill="none" stroke="#c98a7c" stroke-width="1.5" opacity="0.61"/>
<path d="M371.2 811.6C359.2 822 324.2 851.9 299.2 874.1C274.2 896.3 234.2 932.9 221.2 944.7" fill="none" stroke="#d79a8c" stroke-width="1.3" opacity="0.72"/>
<path d="M371.2 814C359.2 824.5 324.2 854.7 299.2 877C274.2 899.3 234.2 936.2 221.2 948" fill="none" stroke="#7f4036" stroke-width="1.3" opacity="0.67"/>
<path d="M371.2 816.4C359.2 827 324.2 857.4 299.2 879.9C274.2 902.4 234.2 939.4 221.2 951.3" fill="none" stroke="#c98a7c" stroke-width="1.7" opacity="0.71"/>
<path d="M371.1 818.9C359.1 829.5 324.1 860.1 299.1 882.8C274.1 905.4 234.1 942.7 221.1 954.7" fill="none" stroke="#e2b1a6" stroke-width="1.2" opacity="0.64"/>
<path d="M371.1 821.3C359.1 832.1 324.1 862.9 299.1 885.7C274.1 908.4 234.1 945.9 221.1 958" fill="none" stroke="#7f4036" stroke-width="1.5" opacity="0.54"/>
<path d="M371 823.8C359 834.6 324 865.6 299 888.6C274 911.5 234 949.2 221 961.3" fill="none" stroke="#d79a8c" stroke-width="1.7" opacity="0.68"/>
<path d="M371 826.2C359 837.1 324 868.4 299 891.4C274 914.5 234 952.5 221 964.7" fill="none" stroke="#d79a8c" stroke-width="1.7" opacity="0.60"/>
<path d="M370.9 828.7C358.9 839.6 323.9 871.1 298.9 894.3C273.9 917.6 233.9 955.7 220.9 968" fill="none" stroke="#e2b1a6" stroke-width="1.1" opacity="0.73"/>
<path d="M370.9 831.1C358.9 842.1 323.9 873.9 298.9 897.2C273.9 920.6 233.9 959 220.9 971.3" fill="none" stroke="#c98a7c" stroke-width="1.6" opacity="0.57"/>
<path d="M370.8 833.6C358.8 844.6 323.8 876.6 298.8 900.1C273.8 923.6 233.8 962.2 220.8 974.7" fill="none" stroke="#7f4036" stroke-width="1.5" opacity="0.59"/>
<path d="M370.8 836C358.8 847.2 323.8 879.3 298.8 903C273.8 926.7 233.8 965.5 220.8 978" fill="none" stroke="#a25a4a" stroke-width="1.5" opacity="0.55"/>
<path d="M370.8 838.4C358.8 849.7 323.8 882.1 298.8 905.9C273.8 929.7 233.8 968.8 220.8 981.3" fill="none" stroke="#a25a4a" stroke-width="1.7" opacity="0.60"/>
<path d="M370.7 840.9C358.7 852.2 323.7 884.8 298.7 908.8C273.7 932.7 233.7 972 220.7 984.7" fill="none" stroke="#8f4a3c" stroke-width="1.6" opacity="0.49"/>
<path d="M370.7 843.3C358.7 854.7 323.7 887.6 298.7 911.7C273.7 935.8 233.7 975.3 220.7 988" fill="none" stroke="#8f4a3c" stroke-width="1.7" opacity="0.43"/>
<path d="M370.6 845.8C358.6 857.2 323.6 890.3 298.6 914.6C273.6 938.8 233.6 978.5 220.6 991.3" fill="none" stroke="#c98a7c" stroke-width="0.9" opacity="0.58"/>
<path d="M370.6 848.2C358.6 859.8 323.6 893 298.6 917.4C273.6 941.9 233.6 981.8 220.6 994.7" fill="none" stroke="#8f4a3c" stroke-width="1.1" opacity="0.44"/>
<path d="M370.5 850.7C358.5 862.3 323.5 895.8 298.5 920.3C273.5 944.9 233.5 985.1 220.5 998" fill="none" stroke="#8f4a3c" stroke-width="1.6" opacity="0.40"/>
<path d="M370.5 853.1C358.5 864.8 323.5 898.5 298.5 923.2C273.5 947.9 233.5 988.3 220.5 1001.3" fill="none" stroke="#a25a4a" stroke-width="1" opacity="0.43"/>
<path d="M370.4 855.6C358.4 867.3 323.4 901.3 298.4 926.1C273.4 951 233.4 991.6 220.4 1004.7" fill="none" stroke="#8f4a3c" stroke-width="1.2" opacity="0.64"/>
<path d="M370.4 858C358.4 869.8 323.4 904 298.4 929C273.4 954 233.4 994.8 220.4 1008" fill="none" stroke="#8f4a3c" stroke-width="0.9" opacity="0.49"/>
<path d="M370.4 860.4C358.4 872.4 323.4 906.7 298.4 931.9C273.4 957 233.4 998.1 220.4 1011.3" fill="none" stroke="#d79a8c" stroke-width="1.5" opacity="0.38"/>
<path d="M370.3 862.9C358.3 874.9 323.3 909.5 298.3 934.8C273.3 960.1 233.3 1001.4 220.3 1014.7" fill="none" stroke="#8f4a3c" stroke-width="0.8" opacity="0.64"/>
<path d="M370.3 865.3C358.3 877.4 323.3 912.2 298.3 937.7C273.3 963.1 233.3 1004.6 220.3 1018" fill="none" stroke="#8f4a3c" stroke-width="1.2" opacity="0.40"/>
<path d="M370.2 867.8C358.2 879.9 323.2 915 298.2 940.6C273.2 966.1 233.2 1007.9 220.2 1021.3" fill="none" stroke="#d79a8c" stroke-width="1.5" opacity="0.56"/>
<path d="M370.2 870.2C358.2 882.4 323.2 917.7 298.2 943.4C273.2 969.2 233.2 1011.1 220.2 1024.7" fill="none" stroke="#8f4a3c" stroke-width="1.2" opacity="0.37"/>
<path d="M370.1 872.7C358.1 884.9 323.1 920.4 298.1 946.3C273.1 972.2 233.1 1014.4 220.1 1028" fill="none" stroke="#d79a8c" stroke-width="1" opacity="0.36"/>
<path d="M370.1 875.1C358.1 887.5 323.1 923.2 298.1 949.2C273.1 975.3 233.1 1017.6 220.1 1031.3" fill="none" stroke="#a25a4a" stroke-width="1.7" opacity="0.60"/>
<path d="M370 877.6C358 890 323 925.9 298 952.1C273 978.3 233 1020.9 220 1034.7" fill="none" stroke="#c98a7c" stroke-width="0.9" opacity="0.48"/>
<path d="M370 880C358 892.5 323 928.7 298 955C273 981.3 233 1024.2 220 1038" fill="none" stroke="#8f4a3c" stroke-width="1.1" opacity="0.57"/>
</g>
<path d="M359.5 784.2C357.2 782.7 346.3 807.1 342 812.1C337.7 817.1 328.3 823.5 323 827.3C317.7 831.1 302.2 840.4 296.4 844.4C290.6 848.4 278.5 857.7 273.6 861.5C268.7 865.3 258.1 873.6 254.6 876.7C251.1 879.8 245.2 885.5 243.6 888.1C241.9 890.7 240.2 894.9 240.5 899C240.8 903.1 244.6 917.3 246 923.2C247.4 929.1 251.3 944.2 252.6 949.6C253.9 955.1 254.9 970.6 257.4 969.9C260 969.1 270.3 949.5 274.6 943C278.9 936.5 289.5 920.8 294.4 914.4C299.3 908 311.8 893.7 316.4 888C321 882.4 329.9 871.1 334 866C338.1 860.9 348.4 848.9 351.6 844C354.9 839.1 360.8 831.2 361.7 824.2C362.7 817.2 361.8 785.6 359.5 784.2Z" fill="none" stroke="#1d1a19" stroke-width="1.7"/>
<clipPath id="kstrap"><path d="M222.3 736.1C219 738.2 222.8 761 223.3 768C223.7 775.1 226.1 791 226.1 796.5C226.1 802 224.6 811.3 223.3 815.5C221.9 819.7 215.9 829.3 214.7 832.6C213.5 835.9 212.6 840.5 212.8 844C213 847.6 214.8 858.8 216.6 863C218.4 867.2 225.3 876.3 228 880.1C230.7 883.9 237.1 895.4 239.8 895.7C242.5 896 250.6 884.5 251.2 882.4C251.8 880.2 246.5 879.5 245.1 877.3C243.7 875 239.8 866.4 239.4 863C239 859.6 240.2 851.1 241.3 847.8C242.4 844.5 247.4 838.5 248.9 834.5C250.5 830.5 254.2 819.1 254.6 813.6C255 808.1 253 794.4 252.7 787C252.4 779.6 255.3 755.9 251.8 750C248.2 744 225.6 734 222.3 736.1Z"/></clipPath>
<g clip-path="url(#kstrap)">
<rect x="205" y="730" width="60" height="170" fill="#b97462"/>
<path d="M223.4 736.6C223.5 741.9 223.7 758.6 224.3 768.7C224.9 778.8 227.1 789.2 227.1 797.1C227.1 805 226.1 810.2 224.2 816.2C222.3 822.2 216.8 825.3 215.7 833.1C214.5 840.9 215.3 855.2 217.4 863C219.6 870.8 224.8 874.6 228.6 880C232.4 885.4 238.3 892.7 240.2 895.2" fill="none" stroke="#7a3c33" stroke-width="1.4" opacity="0.76"/>
<path d="M225.5 737.6C225.6 743 225.8 759.9 226.4 770C227 780.2 229.2 790.4 229.2 798.3C229.1 806.3 227.9 811.6 226 817.5C224.1 823.5 218.7 826.7 217.6 834.2C216.4 841.8 217 855.4 219 863C221.1 870.6 226.2 874.6 229.8 879.8C233.5 885 239.1 891.8 241 894.3" fill="none" stroke="#e4b6ab" stroke-width="1.5" opacity="0.68"/>
<path d="M227.6 738.6C227.7 744 227.9 761.2 228.5 771.4C229.1 781.6 231.3 791.6 231.2 799.6C231.1 807.5 229.8 812.9 227.8 818.9C225.9 824.9 220.6 828 219.5 835.3C218.3 842.7 218.7 855.6 220.7 863C222.6 870.4 227.5 874.5 231.1 879.6C234.6 884.6 240 891 241.8 893.3" fill="none" stroke="#e4b6ab" stroke-width="1.6" opacity="0.44"/>
<path d="M229.7 739.5C229.8 745.1 230 762.5 230.6 772.8C231.2 783 233.4 792.9 233.2 800.8C233.1 808.7 231.6 814.3 229.7 820.3C227.7 826.2 222.6 829.3 221.4 836.4C220.1 843.5 220.5 855.8 222.3 863C224.1 870.2 228.9 874.5 232.3 879.4C235.7 884.3 240.9 890.2 242.6 892.4" fill="none" stroke="#9c5547" stroke-width="1.5" opacity="0.41"/>
<path d="M231.8 740.5C231.9 746.1 232.1 763.9 232.7 774.1C233.3 784.4 235.5 794.1 235.3 802C235.1 809.9 233.5 815.7 231.5 821.6C229.5 827.5 224.5 830.6 223.3 837.5C222 844.4 222.2 856.1 223.9 863C225.6 870 230.2 874.5 233.5 879.2C236.8 883.9 241.8 889.4 243.4 891.4" fill="none" stroke="#d9a093" stroke-width="1.2" opacity="0.71"/>
<path d="M233.9 741.5C234 747.2 234.2 765.2 234.8 775.5C235.4 785.7 237.5 795.3 237.3 803.2C237 811.1 235.4 817.1 233.3 823C231.3 828.9 226.4 831.9 225.2 838.6C223.9 845.2 224 856.3 225.6 863C227.2 869.7 231.6 874.4 234.7 879C237.8 883.6 242.7 888.5 244.3 890.5" fill="none" stroke="#e4b6ab" stroke-width="1.2" opacity="0.46"/>
<path d="M236 742.5C236.1 748.2 236.4 766.5 236.9 776.8C237.5 787.1 239.6 796.5 239.3 804.4C239 812.4 237.2 818.5 235.2 824.3C233.1 830.2 228.4 833.2 227.1 839.7C225.7 846.1 225.7 856.5 227.2 863C228.7 869.5 233 874.4 235.9 878.8C238.9 883.2 243.6 887.7 245.1 889.5" fill="none" stroke="#9c5547" stroke-width="1" opacity="0.64"/>
<path d="M238.1 743.5C238.2 749.3 238.5 767.8 239 778.2C239.6 788.5 241.7 797.7 241.4 805.7C241 813.6 239.1 819.8 237 825.7C234.9 831.5 230.3 834.5 229 840.7C227.6 847 227.4 856.7 228.8 863C230.2 869.3 234.3 874.3 237.2 878.6C240 882.8 244.4 886.9 245.9 888.6" fill="none" stroke="#e4b6ab" stroke-width="1.3" opacity="0.68"/>
<path d="M240.2 744.5C240.3 750.3 240.6 769.1 241.1 779.5C241.7 789.9 243.8 799 243.4 806.9C243 814.8 240.9 821.2 238.8 827C236.7 832.9 232.2 835.8 230.9 841.8C229.5 847.8 229.2 856.9 230.4 863C231.7 869.1 235.7 874.3 238.4 878.4C241.1 882.5 245.3 886.1 246.7 887.6" fill="none" stroke="#d9a093" stroke-width="1.3" opacity="0.50"/>
<path d="M242.3 745.5C242.4 751.4 242.7 770.5 243.2 780.9C243.8 791.3 245.9 800.2 245.4 808.1C245 816 242.8 822.6 240.7 828.4C238.5 834.2 234.2 837.1 232.8 842.9C231.3 848.7 230.9 857.1 232.1 863C233.2 868.9 237 874.2 239.6 878.2C242.2 882.1 246.2 885.2 247.5 886.7" fill="none" stroke="#d9a093" stroke-width="0.9" opacity="0.44"/>
<path d="M244.4 746.5C244.5 752.4 244.8 771.8 245.3 782.3C245.9 792.7 248 801.4 247.5 809.3C247 817.2 244.6 824 242.5 829.8C240.4 835.5 236.1 838.5 234.7 844C233.2 849.5 232.7 857.3 233.7 863C234.7 868.7 238.4 874.2 240.8 878C243.3 881.8 247.1 884.4 248.3 885.7" fill="none" stroke="#d9a093" stroke-width="1.2" opacity="0.79"/>
<path d="M246.5 747.5C246.7 753.5 246.9 773.1 247.4 783.6C247.9 794.1 250 802.6 249.5 810.5C249 818.5 246.5 825.4 244.3 831.1C242.2 836.9 238 839.8 236.6 845.1C235.1 850.4 234.4 857.6 235.3 863C236.2 868.4 239.7 874.1 242 877.8C244.4 881.4 248 883.6 249.1 884.8" fill="none" stroke="#8a463a" stroke-width="1.6" opacity="0.49"/>
<path d="M248.6 748.5C248.8 754.5 249.1 774.4 249.5 785C250 795.5 252.1 803.9 251.5 811.8C251 819.7 248.3 826.7 246.2 832.5C244 838.2 240 841.1 238.5 846.2C236.9 851.3 236.2 857.8 237 863C237.8 868.2 241.1 874.1 243.3 877.6C245.4 881 248.8 882.8 250 883.8" fill="none" stroke="#e4b6ab" stroke-width="0.9" opacity="0.43"/>
<path d="M250.7 749.5C250.9 755.6 251.2 775.7 251.7 786.3C252.1 796.9 254.2 805.1 253.6 813C253 820.9 250.2 828.1 248 833.8C245.8 839.5 241.9 842.4 240.4 847.3C238.8 852.1 237.9 858 238.6 863C239.3 868 242.5 874 244.5 877.4C246.5 880.7 249.7 881.9 250.8 882.9" fill="none" stroke="#d9a093" stroke-width="1.3" opacity="0.72"/>
</g>
<path d="M222.3 736.1C222.4 740.3 222.7 759.9 223.3 768C223.8 776.1 226.1 790.2 226.1 796.5C226.1 802.8 224.8 810.7 223.3 815.5C221.7 820.3 216.1 828.8 214.7 832.6C213.3 836.4 212.5 839.9 212.8 844C213.1 848.1 214.6 858.2 216.6 863C218.6 867.8 224.9 875.7 228 880.1C231.1 884.5 238.2 893.6 239.8 895.7" fill="none" stroke="#1d1a19" stroke-width="1.7"/>
<path d="M251.8 750C251.9 754.9 252.3 778.5 252.7 787C253.1 795.5 255.1 807.3 254.6 813.6C254.1 819.9 250.7 829.9 248.9 834.5C247.1 839.1 242.6 844 241.3 847.8C240 851.6 238.9 859.1 239.4 863C239.9 866.9 243.5 874.7 245.1 877.3C246.7 879.8 250.4 881.7 251.2 882.4" fill="none" stroke="#1d1a19" stroke-width="1.7"/>
<path d="M222.3 735.3C222.8 734.7 225.7 734.3 228 734.9C230.3 735.5 236.3 738.3 239.4 739.9C242.5 741.5 249.5 745.4 251.2 746.7C252.9 748 252.6 749.2 252.3 749.8C252.1 750.4 251.3 751.7 249.3 751.3C247.3 750.9 240.8 748.3 237.5 746.7C234.2 745.1 226.2 741 224.2 739.5C222.2 738 221.8 735.9 222.3 735.3Z" fill="#e9e3df" stroke="#1d1a19" stroke-width="1.3"/>
<path d="M227.2 738C229 738.7 234 740.8 237.5 742.5C241 744.3 246.4 747.3 248.1 748.2" fill="none" stroke="#3a3331" stroke-width="2.6" stroke-linecap="round"/>
<path d="M258.1 646.5C257.9 651.1 258.3 664.7 257 674C255.7 683.4 253 694.5 250.4 702.6C247.8 710.7 244.1 716.8 241.6 722.4C239.1 728 236.5 733.8 235.4 736.1" fill="none" stroke="#1d1a19" stroke-width="1.6" stroke-linecap="round"/>
<path d="M329.6 646.5C329.8 651.1 330 664.7 330.7 674C331.4 683.4 332.4 693.8 334 702.6C335.7 711.4 338 719.5 340.6 726.8C343.2 734.1 346.5 741.1 349.4 746.6C352.4 752.1 355.7 753.6 358.2 759.8C360.8 766 363.1 776.3 364.8 784C366.6 791.7 368 797.9 368.8 806C369.5 814.2 369.3 823 369.2 833C369.1 843 367.6 856.8 368.1 866C368.7 875.2 372.3 880.7 372.5 888C372.7 895.3 370.5 900.8 369.2 910C367.9 919.2 366.3 931.3 364.8 943C363.4 954.7 361.7 968 360.4 980.4C359.1 992.9 357.7 1011.6 357.1 1017.8" fill="none" stroke="#1d1a19" stroke-width="1.6" stroke-linecap="round"/>
<path d="M270.2 704.8C268.6 707.7 262.8 716.5 260.3 722.4C257.8 728.3 256 734.9 255.2 740C254.5 745.1 254.5 749.8 255.9 753.2C257.3 756.6 262.3 759.1 263.6 760.3" fill="none" stroke="#1d1a19" stroke-width="1.1" stroke-linecap="round"/>
<path d="M252.6 759.8C253.5 760.9 256.3 766.3 258.1 766.4C259.9 766.5 262.7 761.3 263.6 760.3" fill="none" stroke="#1d1a19" stroke-width="1.1" stroke-linecap="round"/>
<path d="M254.6 769C257.1 770.2 264.1 774.7 269.8 776.6C275.5 778.5 279.9 780.7 288.8 780.4C297.7 780 314.1 776.7 323 774.7C331.9 772.6 336.9 770.7 342 768C347.1 765.3 351.8 760.1 353.8 758.5" fill="none" stroke="#1d1a19" stroke-width="1" stroke-linecap="round"/>
<path d="M281.2 823.5C283.7 822.2 291.3 816.8 296.4 815.9C301.5 815 305.9 817.5 311.6 818.2C317.3 818.9 327.4 819.7 330.6 820.1" fill="none" stroke="#1d1a19" stroke-width="1.1" stroke-linecap="round"/>
<path d="M245.5 867.2C246.7 866.2 249.3 864.1 252.7 861.5C256.1 858.9 262.5 855.8 266 851.6C269.5 847.4 271.1 841.1 273.6 836.4C276.1 831.7 279.9 825.6 281.2 823.5" fill="none" stroke="#1d1a19" stroke-width="1.1" stroke-linecap="round"/>
<path d="M338.2 819.3C338.8 823.4 341.7 836.7 342 844C342.3 851.3 339.5 859.5 340.1 863C340.7 866.6 344.9 864.9 345.8 865.3" fill="none" stroke="#1d1a19" stroke-width="1" stroke-linecap="round"/>
<path d="M213.2 749C211.3 751.5 204.4 757.9 201.8 764.2C199.2 770.5 198 778.5 197.6 787C197.2 795.6 198.6 807.3 199.5 815.5C200.5 823.7 201.7 830.4 203.3 836.4C204.9 842.4 207.4 845.9 209 851.6C210.6 857.3 210.5 863.6 213 870.4C215.5 877.2 220.3 885.1 224 892.4C227.7 899.7 232.1 907.1 235 914.4C237.9 921.7 240 928 241.6 936.4C243.3 944.8 244 955.5 244.9 965C245.8 974.6 246.5 984.8 247.1 993.6C247.7 1002.4 248.4 1013.8 248.6 1017.8" fill="none" stroke="#1d1a19" stroke-width="1.6" stroke-linecap="round"/>
<path d="M213.2 749C214.1 748.7 216.9 747.5 218.5 747.5C220.1 747.5 222 748.7 222.7 749" fill="none" stroke="#1d1a19" stroke-width="1.1" stroke-linecap="round"/>
<path d="M207.1 766.5C206.8 771.5 205.3 786.7 205.6 796.5C205.9 806.3 207.4 818.9 209 825C210.6 831.1 214.1 831.7 215.1 833" fill="none" stroke="#1d1a19" stroke-width="1.2" stroke-linecap="round"/>
<path d="M207.1 766.5C208.4 765.8 212.1 762.4 214.7 762.7C217.3 762.9 221.4 767.1 222.7 768" fill="none" stroke="#1d1a19" stroke-width="1" stroke-linecap="round"/>
<path d="M199.5 817.4C200.5 819.3 203 824.4 205.2 828.8C207.4 833.2 211.5 841.5 212.8 844" fill="none" stroke="#1d1a19" stroke-width="1" stroke-linecap="round"/>
<path d="M353.8 855C352 856.8 345.6 862.7 342.8 866C340.1 869.3 339.1 871.1 337.3 874.8C335.5 878.5 331.6 883.2 331.8 888C332 892.8 336.6 897.5 338.4 903.4C340.2 909.3 342.3 914.8 342.8 923.2C343.4 931.6 342.4 943.4 341.7 954C341 964.6 339.5 976.8 338.4 987C337.3 997.3 335.7 1010.9 335.1 1015.6" fill="none" stroke="#1d1a19" stroke-width="1.6" stroke-linecap="round"/>
<path d="M334 907.8C333.3 911.8 331.4 922.5 329.6 932C327.8 941.5 324.7 954 323 965C321.4 976 320.4 987.4 319.7 998C319 1008.7 318.8 1023.7 318.6 1028.8" fill="none" stroke="#1d1a19" stroke-width="1.1" stroke-linecap="round"/>
<!-- hip -->
<linearGradient id="gps" gradientUnits="userSpaceOnUse" x1="0" y1="540" x2="0" y2="1120"><stop offset="0" stop-color="#c08a72"/><stop offset="0.3" stop-color="#d4a58c"/><stop offset="0.55" stop-color="#e6c4b0"/><stop offset="0.8" stop-color="#e2baa6"/><stop offset="1" stop-color="#cc9484"/></linearGradient>
<linearGradient id="gil" gradientUnits="userSpaceOnUse" x1="0" y1="750" x2="0" y2="1100"><stop offset="0" stop-color="#c09484"/><stop offset="0.35" stop-color="#d2a492"/><stop offset="0.75" stop-color="#cf9c8c"/><stop offset="1" stop-color="#c2847a"/></linearGradient>
<path d="M745.7 555C745.4 553.1 743.1 553.7 742 553.8C740.9 553.9 739.1 554.6 737.5 555.6C735.9 556.6 733 559.5 730 561C727 562.5 719 565.5 715 567C711 568.5 704 570.8 700 572.2C696 573.6 689 576.1 685 577.5C681 578.9 674 581.3 670 582.7C666 584.1 658.4 586.5 655 588C651.6 589.5 647.1 592.1 644.5 594.3C641.9 596.5 638.1 601.1 635.5 604.5C632.9 607.9 627.6 615.7 625 619.5C622.4 623.3 617.1 631 616 633C614.9 635 616.5 634.3 616.9 634.5C617.3 634.7 617.8 635.4 619.3 634.5C620.8 633.6 625.2 629.9 628 627.7C630.8 625.5 636.4 620.7 640 618C643.6 615.3 651 610.1 655 607.5C659 604.9 666 600.8 670 598.5C674 596.2 681 592.3 685 590.2C689 588.1 696 584.5 700 582.7C704 580.9 711 578 715 576.7C719 575.4 726.6 573.6 730 573C733.4 572.4 738.6 572.9 740.5 572.2C742.4 571.5 743.5 570 744.2 567.7C744.9 565.4 746 556.9 745.7 555Z" fill="#eeefec" stroke="#1b1817" stroke-width="1.8"/>
<g filter="url(#soft1)"><path d="M733 568.5C730 569.4 721.5 571.4 715 573.7C708.5 576.1 701 579.5 694 582.7C687 586 679.5 589.7 673 593.2C666.5 596.7 658 602 655 603.7" fill="none" stroke="#9a9a9a" stroke-width="2.4" opacity="0.45" stroke-linecap="round"/><rect x="500" y="520" width="1" height="1" fill="#fff" opacity="0.01"/><rect x="890" y="1230" width="1" height="1" fill="#fff" opacity="0.01"/></g>
<path d="M810 602.9C812.6 602 826.1 603.7 829.6 603.7C833.2 603.7 835.2 602.6 836.6 602.9C838 603.2 840.2 605.3 840.3 606.3C840.3 607.2 838.3 609.7 836.9 610.2C835.5 610.6 833.2 609.6 829.6 609.6C826 609.6 812.6 611.1 810 610.2C807.4 609.3 807.4 603.7 810 602.9Z" fill="#e6e7e4" stroke="#1b1817" stroke-width="1.7"/>
<path d="M734.5 602.7C733.5 602.1 728.4 603.2 727 603C725.6 602.8 725 601.5 724 601.2C723 600.9 720.6 600.3 719.5 600.6C718.4 600.9 716.2 602.8 715.7 603.7C715.3 604.7 715.6 606.9 716.2 607.8C716.8 608.7 719.1 610.1 720.2 610.2C721.4 610.3 723.7 609.1 724.7 608.7C725.7 608.3 726.4 607.3 727.7 607.2C729 607.1 733.6 608.4 734.5 607.8C735.4 607.2 735.5 603.3 734.5 602.7Z" fill="#e6e7e4" stroke="#1b1817" stroke-width="1.7"/>
<path d="M810.6 650.5C812.2 648.9 820.4 647.8 824 648.3C827.7 648.7 835.2 652.1 838 653.9C840.9 655.6 845.7 660.1 845.3 661.4C844.9 662.7 838.4 663.5 835.2 663.4C832 663.3 824.4 661 821.2 660.6C818.1 660.2 813.1 661.9 811.7 660.6C810.3 659.2 808.9 652.1 810.6 650.5Z" fill="#e6e7e4" stroke="#1b1817" stroke-width="1.7"/>
<path d="M811.4 691.4C813.9 689.4 827.8 687.8 832.4 688C837.1 688.2 844.3 691.4 846.4 693.1C848.6 694.7 850.2 699.2 848.7 700.6C847.2 702.1 839.8 703.7 835.2 704C830.6 704.2 817.4 704.3 814.2 702.6C811.1 700.9 809 693.3 811.4 691.4Z" fill="#e6e7e4" stroke="#1b1817" stroke-width="1.7"/>
<path d="M814.2 737.4C816.5 734.9 828.1 732.9 832.4 732.6C836.7 732.3 844.3 733.6 846.4 734.8C848.6 736.1 850.5 740.2 848.7 741.8C846.9 743.4 837.4 745.6 833 746.9C828.6 748.2 818.1 752.6 815.6 751.4C813.1 750.1 812 739.9 814.2 737.4Z" fill="#e6e7e4" stroke="#1b1817" stroke-width="1.7"/>
<path d="M818 786C818.8 785.5 819.4 794.1 821 796C822.6 797.9 827.2 800.2 830 800C832.8 799.8 838.5 795.9 842 794.4C845.5 792.9 852.8 789.6 856 789C859.2 788.4 864 788.7 866 789.6C868 790.5 871.1 793.7 871.2 796C871.3 798.3 868.8 805.1 867 807C865.2 808.9 860.3 808.8 858 810C855.7 811.2 853.2 815.1 850 816C846.8 816.9 837.7 815.9 834 816.6C830.3 817.3 824.1 819.5 822 821C819.9 822.5 818.5 826.3 818.4 828C818.3 829.7 819.5 832.8 821 833.6C822.5 834.4 827.6 834.3 830 834C832.4 833.7 839 831.1 839 831.6C839 832.1 832.8 837.1 830 838C827.2 838.9 820 840.4 818 838C816 835.6 815.4 825.1 815 820C814.6 814.9 814.6 804.5 815 800C815.4 795.5 817.2 786.5 818 786Z" fill="#ececea" stroke="#1b1817" stroke-width="1.7"/>
<g filter="url(#soft1)"><path d="M826 799C828 799 834 798.2 838 799C842 799.8 846 802.8 850 804C854 805.2 860 805.7 862 806" fill="none" stroke="#8d8d8d" stroke-width="3.5" opacity="0.5" stroke-linecap="round"/><rect x="500" y="520" width="1" height="1" fill="#fff" opacity="0.01"/><rect x="890" y="1230" width="1" height="1" fill="#fff" opacity="0.01"/></g>
<g filter="url(#soft1)"><path d="M822 835C824 834.9 830 833.9 834 834.4C838 834.9 844 837.4 846 838" fill="none" stroke="#999" stroke-width="3" opacity="0.45" stroke-linecap="round"/><rect x="500" y="520" width="1" height="1" fill="#fff" opacity="0.01"/><rect x="890" y="1230" width="1" height="1" fill="#fff" opacity="0.01"/></g>
<g filter="url(#soft1)"><path d="M824 750.8C826.4 749.9 834.3 747.1 838 745.2C841.8 743.3 845 740.5 846.4 739.6" fill="none" stroke="#999" stroke-width="3" opacity="0.45" stroke-linecap="round"/><rect x="500" y="520" width="1" height="1" fill="#fff" opacity="0.01"/><rect x="890" y="1230" width="1" height="1" fill="#fff" opacity="0.01"/></g>
<path d="M749 566.5C751.9 565.4 773.1 564.8 779.2 564.8C785.3 564.8 807 565 810 566.5C813 568 812.5 579.2 809.5 579.9C806.4 580.7 785.2 574.2 779.2 573.8C773.3 573.4 753.1 576.7 750.1 576C747.1 575.3 746.1 567.6 749 566.5Z" fill="#d2d4d0" stroke="#1b1817" stroke-width="1.6"/>
<path d="M750.1 604C753 603 773.3 605.4 779.2 605.4C785.2 605.5 806.4 603.7 809.5 604.6C812.5 605.4 813 613.2 810 614.1C807 615 785.2 613.7 779.2 613.8C773.2 613.9 753 616.2 750.1 615.2C747.2 614.2 747.2 605 750.1 604Z" fill="#d2d4d0" stroke="#1b1817" stroke-width="1.6"/>
<path d="M748.4 650.5C751.5 649.4 773 652.1 779.2 652.2C785.4 652.3 807.4 650.7 810.6 651.6C813.7 652.6 813.7 660.7 810.6 661.7C807.4 662.7 785.4 661.3 779.2 661.4C773 661.5 751.5 663.9 748.4 662.8C745.3 661.7 745.3 651.6 748.4 650.5Z" fill="#d2d4d0" stroke="#1b1817" stroke-width="1.6"/>
<path d="M745.6 712.1C749.1 710.9 772.3 715.9 779.2 716C786.1 716.1 810.9 712.1 814.5 713.2C818.1 714.3 818.6 725.7 815.1 727.2C811.5 728.8 786.3 728.6 779.2 728.6C772.1 728.7 747.6 729.4 744.2 727.8C740.9 726.1 742.1 713.3 745.6 712.1Z" fill="#d2d4d0" stroke="#1b1817" stroke-width="1.6"/>
<path d="M752.6 786.1C756.8 785.5 778.5 790.3 784.8 790C791.1 789.7 812.3 783.2 815.6 783.3C818.9 783.3 820.9 789.2 817.9 790.6C814.8 792 792.3 796.7 784.8 797.3C777.4 797.8 746.6 797.3 743.4 796.2C740.2 795 748.5 786.7 752.6 786.1Z" fill="#d2d4d0" stroke="#1b1817" stroke-width="1.6"/>
<path d="M738.6 843.2C740.4 843.5 752.2 852.1 756.8 853.3C761.4 854.4 779.2 855 784.8 854.7C790.4 854.4 808.9 851.6 812.8 850.5C816.7 849.3 822.9 843.2 824 843.2C825.2 843.2 825.1 848.9 824.6 850.5C824 852.1 822.4 857.5 818.4 858.9C814.4 860.3 791 864.2 784.8 864.5C778.7 864.8 761.4 863.1 756.8 861.7C752.2 860.3 740.4 852.3 738.6 850.5C736.8 848.6 736.8 842.9 738.6 843.2Z" fill="#d2d4d0" stroke="#1b1817" stroke-width="1.6"/>
<path d="M751.2 531.8C753.7 530.7 762.8 528.5 768 528.4C773.2 528.3 791.4 530.3 796 531.2C800.7 532.1 806.3 534 807.8 536.2C809.3 538.5 808.6 547.3 808.9 550.8C809.2 554.3 814 564.6 810.6 566.2C807.1 567.8 786.5 564.7 779.2 564.8C772 564.9 752.3 568.4 748.4 567C744.5 565.7 745.8 557.1 745.6 553.6C745.4 550.1 746.1 539.9 746.7 537.4C747.4 534.8 748.7 532.8 751.2 531.8Z" fill="#e3e4e0" filter="url(#bonetex)"/>
<path d="M751.2 531.8C753.7 530.7 762.8 528.5 768 528.4C773.2 528.3 791.4 530.3 796 531.2C800.7 532.1 806.3 534 807.8 536.2C809.3 538.5 808.6 547.3 808.9 550.8C809.2 554.3 814 564.6 810.6 566.2C807.1 567.8 786.5 564.7 779.2 564.8C772 564.9 752.3 568.4 748.4 567C744.5 565.7 745.8 557.1 745.6 553.6C745.4 550.1 746.1 539.9 746.7 537.4C747.4 534.8 748.7 532.8 751.2 531.8Z" fill="none" stroke="#1b1817" stroke-width="1.8"/>
<path d="M751.2 576C755.1 574 772.5 572.7 779.2 573.2C785.9 573.7 805.5 577.6 808.6 579.9C811.8 582.2 806 589.9 806.1 592.8C806.2 595.7 812.6 603.1 809.5 604.6C806.3 606 786.2 605.5 779.2 605.4C772.3 605.3 753.7 605.8 749.8 604C745.9 602.2 745.5 593.3 745.6 590C745.8 586.7 747.3 578 751.2 576Z" fill="#e3e4e0" filter="url(#bonetex)"/>
<path d="M751.2 576C755.1 574 772.5 572.7 779.2 573.2C785.9 573.7 805.5 577.6 808.6 579.9C811.8 582.2 806 589.9 806.1 592.8C806.2 595.7 812.6 603.1 809.5 604.6C806.3 606 786.2 605.5 779.2 605.4C772.3 605.3 753.7 605.8 749.8 604C745.9 602.2 745.5 593.3 745.6 590C745.8 586.7 747.3 578 751.2 576Z" fill="none" stroke="#1b1817" stroke-width="1.8"/>
<path d="M749.8 615.2C754.1 613.1 772.2 613.9 779.2 613.8C786.2 613.7 806.8 612 810 614.1C813.3 616.2 807.2 627.6 807.2 632C807.3 636.4 813.9 649.3 810.6 651.6C807.3 654 786.5 652.3 779.2 652.2C772 652 752.7 652.8 748.4 650.5C744.2 648.1 742.7 636.1 742.8 632C743 627.9 745.6 617.3 749.8 615.2Z" fill="#e3e4e0" filter="url(#bonetex)"/>
<path d="M749.8 615.2C754.1 613.1 772.2 613.9 779.2 613.8C786.2 613.7 806.8 612 810 614.1C813.3 616.2 807.2 627.6 807.2 632C807.3 636.4 813.9 649.3 810.6 651.6C807.3 654 786.5 652.3 779.2 652.2C772 652 752.7 652.8 748.4 650.5C744.2 648.1 742.7 636.1 742.8 632C743 627.9 745.6 617.3 749.8 615.2Z" fill="none" stroke="#1b1817" stroke-width="1.8"/>
<path d="M748.4 662.8C753.1 660 772 661.5 779.2 661.4C786.5 661.3 807.1 658.9 810.6 661.7C814 664.5 808.4 679.2 808.9 685.2C809.4 691.2 818 709.6 814.5 713.2C811 716.8 787.3 716.2 779.2 716C771.2 715.9 750.3 715.7 745.6 712.1C740.9 708.5 738.6 691 738.9 685.2C739.2 679.5 743.7 665.6 748.4 662.8Z" fill="#e3e4e0" filter="url(#bonetex)"/>
<path d="M748.4 662.8C753.1 660 772 661.5 779.2 661.4C786.5 661.3 807.1 658.9 810.6 661.7C814 664.5 808.4 679.2 808.9 685.2C809.4 691.2 818 709.6 814.5 713.2C811 716.8 787.3 716.2 779.2 716C771.2 715.9 750.3 715.7 745.6 712.1C740.9 708.5 738.6 691 738.9 685.2C739.2 679.5 743.7 665.6 748.4 662.8Z" fill="none" stroke="#1b1817" stroke-width="1.8"/>
<path d="M744.2 726.2C747.8 722.8 771 725 779.2 725C787.4 725 811 723.5 814.5 726.2C818 728.8 808.6 741.9 808.9 748C809.2 754.1 816.5 774.3 817.3 778.8C818.1 783.3 819.4 785.3 815.6 786.6C811.8 788 792.2 790.1 784.8 790C777.5 789.9 757.2 787.7 752.6 786.1C748 784.5 746.1 779.8 745.6 776C745.1 772.2 748.6 759.4 748.4 753.6C748.3 747.8 740.6 729.5 744.2 726.2Z" fill="#eeeeec" filter="url(#bonetex)"/>
<path d="M744.2 726.2C747.8 722.8 771 725 779.2 725C787.4 725 811 723.5 814.5 726.2C818 728.8 808.6 741.9 808.9 748C809.2 754.1 816.5 774.3 817.3 778.8C818.1 783.3 819.4 785.3 815.6 786.6C811.8 788 792.2 790.1 784.8 790C777.5 789.9 757.2 787.7 752.6 786.1C748 784.5 746.1 779.8 745.6 776C745.1 772.2 748.6 759.4 748.4 753.6C748.3 747.8 740.6 729.5 744.2 726.2Z" fill="none" stroke="#1b1817" stroke-width="1.8"/>
<path d="M742.8 796.2C747.7 792.3 770.4 794 779.2 793.4C788 792.7 813.5 788 818.4 790.6C823.3 793.1 821.2 810.4 821.2 815.2C821.2 820 818.1 828.7 818.4 832C818.8 835.3 824.7 841.1 824 843.2C823.4 845.4 817.4 849.2 812.8 850.5C808.3 851.8 791.4 854.4 784.8 854.7C778.3 855 762.2 854.6 756.8 853.3C751.4 852 740.9 846.4 738.6 843.2C736.3 840.1 736.7 831.9 737.2 826.4C737.7 820.9 737.9 800 742.8 796.2Z" fill="#eeeeec" filter="url(#bonetex)"/>
<path d="M742.8 796.2C747.7 792.3 770.4 794 779.2 793.4C788 792.7 813.5 788 818.4 790.6C823.3 793.1 821.2 810.4 821.2 815.2C821.2 820 818.1 828.7 818.4 832C818.8 835.3 824.7 841.1 824 843.2C823.4 845.4 817.4 849.2 812.8 850.5C808.3 851.8 791.4 854.4 784.8 854.7C778.3 855 762.2 854.6 756.8 853.3C751.4 852 740.9 846.4 738.6 843.2C736.3 840.1 736.7 831.9 737.2 826.4C737.7 820.9 737.9 800 742.8 796.2Z" fill="none" stroke="#1b1817" stroke-width="1.8"/>
<g filter="url(#soft)"><path d="M749.6 532.4C751.1 527 757.6 526.3 759.6 531.4C761.6 536.5 763.1 557.6 761.6 563C760.1 568.5 752.6 569.2 750.6 564C748.6 558.9 748.1 537.8 749.6 532.4Z" fill="#8f8f8f" opacity="0.55"/><rect x="500" y="520" width="1" height="1" fill="#fff" opacity="0.01"/><rect x="890" y="1230" width="1" height="1" fill="#fff" opacity="0.01"/></g>
<g filter="url(#soft)"><path d="M798.6 532.4C800.4 527.3 806.1 527.3 807.6 532.4C809.1 537.5 809.4 557.9 807.6 563C805.8 568.2 798.1 568.2 796.6 563C795.1 557.9 796.8 537.5 798.6 532.4Z" fill="#a2a2a2" opacity="0.45"/><rect x="500" y="520" width="1" height="1" fill="#fff" opacity="0.01"/><rect x="890" y="1230" width="1" height="1" fill="#fff" opacity="0.01"/></g>
<g filter="url(#soft)"><path d="M767.6 541.7C771.1 539.1 787.1 537.4 790.6 539.7C794.1 542.1 792.1 553.1 788.6 555.7C785.1 558.4 773.1 558.1 769.6 555.7C766.1 553.4 764.1 544.4 767.6 541.7Z" fill="#ffffff" opacity="0.4"/><rect x="500" y="520" width="1" height="1" fill="#fff" opacity="0.01"/><rect x="890" y="1230" width="1" height="1" fill="#fff" opacity="0.01"/></g>
<g filter="url(#soft)"><path d="M749.6 577.2C751.1 572.8 757.6 572.2 759.6 576.2C761.6 580.2 763.1 597 761.6 601.4C760.1 605.8 752.6 606.4 750.6 602.4C748.6 598.4 748.1 581.6 749.6 577.2Z" fill="#8f8f8f" opacity="0.55"/><rect x="500" y="520" width="1" height="1" fill="#fff" opacity="0.01"/><rect x="890" y="1230" width="1" height="1" fill="#fff" opacity="0.01"/></g>
<g filter="url(#soft)"><path d="M797.5 577.2C799.3 573.2 805 573.2 806.5 577.2C808 581.2 808.3 597.4 806.5 601.4C804.6 605.4 797 605.4 795.5 601.4C794 597.4 795.6 581.2 797.5 577.2Z" fill="#a2a2a2" opacity="0.45"/><rect x="500" y="520" width="1" height="1" fill="#fff" opacity="0.01"/><rect x="890" y="1230" width="1" height="1" fill="#fff" opacity="0.01"/></g>
<g filter="url(#soft)"><path d="M767.6 583.3C770.9 580.6 786.2 579 789.5 581.3C792.8 583.6 790.8 594.6 787.5 597.3C784.2 600 772.9 599.6 769.6 597.3C766.3 595 764.3 586 767.6 583.3Z" fill="#ffffff" opacity="0.4"/><rect x="500" y="520" width="1" height="1" fill="#fff" opacity="0.01"/><rect x="890" y="1230" width="1" height="1" fill="#fff" opacity="0.01"/></g>
<g filter="url(#soft)"><path d="M746.8 617.8C748.3 612.4 754.8 611.8 756.8 616.8C758.8 621.9 760.3 642.8 758.8 648.2C757.3 653.6 749.8 654.2 747.8 649.2C745.8 644.1 745.3 623.2 746.8 617.8Z" fill="#8f8f8f" opacity="0.55"/><rect x="500" y="520" width="1" height="1" fill="#fff" opacity="0.01"/><rect x="890" y="1230" width="1" height="1" fill="#fff" opacity="0.01"/></g>
<g filter="url(#soft)"><path d="M798.6 617.8C800.4 612.8 806.1 612.8 807.6 617.8C809.1 622.9 809.4 643.1 807.6 648.2C805.8 653.2 798.1 653.2 796.6 648.2C795.1 643.1 796.8 622.9 798.6 617.8Z" fill="#a2a2a2" opacity="0.45"/><rect x="500" y="520" width="1" height="1" fill="#fff" opacity="0.01"/><rect x="890" y="1230" width="1" height="1" fill="#fff" opacity="0.01"/></g>
<g filter="url(#soft)"><path d="M764.8 627C768.8 624.3 786.6 622.7 790.6 625C794.5 627.3 792.5 638.3 788.6 641C784.6 643.7 770.8 643.3 766.8 641C762.9 638.7 760.9 629.7 764.8 627Z" fill="#ffffff" opacity="0.4"/><rect x="500" y="520" width="1" height="1" fill="#fff" opacity="0.01"/><rect x="890" y="1230" width="1" height="1" fill="#fff" opacity="0.01"/></g>
<g filter="url(#soft)"><path d="M742.9 665.4C744.4 657.3 750.9 656.6 752.9 664.4C754.9 672.2 756.4 703.9 754.9 712C753.4 720.1 745.9 720.8 743.9 713C741.9 705.3 741.4 673.5 742.9 665.4Z" fill="#8f8f8f" opacity="0.55"/><rect x="500" y="520" width="1" height="1" fill="#fff" opacity="0.01"/><rect x="890" y="1230" width="1" height="1" fill="#fff" opacity="0.01"/></g>
<g filter="url(#soft)"><path d="M802.5 665.4C804.3 657.6 810 657.6 811.5 665.4C813 673.2 813.3 704.3 811.5 712C809.7 719.8 802 719.8 800.5 712C799 704.3 800.7 673.2 802.5 665.4Z" fill="#a2a2a2" opacity="0.45"/><rect x="500" y="520" width="1" height="1" fill="#fff" opacity="0.01"/><rect x="890" y="1230" width="1" height="1" fill="#fff" opacity="0.01"/></g>
<g filter="url(#soft)"><path d="M760.9 682.7C766.2 680.1 789.2 678.4 794.5 680.7C799.8 683.1 797.8 694.1 792.5 696.7C787.2 699.4 768.2 699.1 762.9 696.7C757.6 694.4 755.6 685.4 760.9 682.7Z" fill="#ffffff" opacity="0.4"/><rect x="500" y="520" width="1" height="1" fill="#fff" opacity="0.01"/><rect x="890" y="1230" width="1" height="1" fill="#fff" opacity="0.01"/></g>
<g filter="url(#soft)"><path d="M748.2 729C749.7 719.2 756.2 718.5 758.2 728C760.2 737.5 761.7 776.2 760.2 786C758.7 795.8 751.2 796.5 749.2 787C747.2 777.5 746.7 738.9 748.2 729Z" fill="#8f8f8f" opacity="0.55"/><rect x="500" y="520" width="1" height="1" fill="#fff" opacity="0.01"/><rect x="890" y="1230" width="1" height="1" fill="#fff" opacity="0.01"/></g>
<g filter="url(#soft)"><path d="M805.3 729C807.1 719.5 812.8 719.5 814.3 729C815.8 738.5 816.1 776.5 814.3 786C812.5 795.5 804.8 795.5 803.3 786C801.8 776.5 803.5 738.5 805.3 729Z" fill="#a2a2a2" opacity="0.45"/><rect x="500" y="520" width="1" height="1" fill="#fff" opacity="0.01"/><rect x="890" y="1230" width="1" height="1" fill="#fff" opacity="0.01"/></g>
<g filter="url(#soft)"><path d="M766.2 751.5C771.1 748.9 792.5 747.2 797.3 749.5C802.2 751.9 800.2 762.9 795.3 765.5C790.5 768.2 773.1 767.9 768.2 765.5C763.4 763.2 761.4 754.2 766.2 751.5Z" fill="#ffffff" opacity="0.4"/><rect x="500" y="520" width="1" height="1" fill="#fff" opacity="0.01"/><rect x="890" y="1230" width="1" height="1" fill="#fff" opacity="0.01"/></g>
<g filter="url(#soft)"><path d="M741.2 794.6C742.7 784.9 749.2 784.2 751.2 793.6C753.2 802.9 754.7 841 753.2 850.7C751.7 860.4 744.2 861.1 742.2 851.7C740.2 842.3 739.7 804.3 741.2 794.6Z" fill="#8f8f8f" opacity="0.55"/><rect x="500" y="520" width="1" height="1" fill="#fff" opacity="0.01"/><rect x="890" y="1230" width="1" height="1" fill="#fff" opacity="0.01"/></g>
<g filter="url(#soft)"><path d="M812 794.6C813.9 785.2 819.5 785.2 821 794.6C822.5 803.9 822.9 841.3 821 850.7C819.2 860.1 811.5 860.1 810 850.7C808.5 841.3 810.2 803.9 812 794.6Z" fill="#a2a2a2" opacity="0.45"/><rect x="500" y="520" width="1" height="1" fill="#fff" opacity="0.01"/><rect x="890" y="1230" width="1" height="1" fill="#fff" opacity="0.01"/></g>
<g filter="url(#soft)"><path d="M759.2 816.6C766.4 814 796.9 812.3 804 814.6C811.2 817 809.2 828 802 830.6C794.9 833.3 768.4 833 761.2 830.6C754.1 828.3 752.1 819.3 759.2 816.6Z" fill="#ffffff" opacity="0.4"/><rect x="500" y="520" width="1" height="1" fill="#fff" opacity="0.01"/><rect x="890" y="1230" width="1" height="1" fill="#fff" opacity="0.01"/></g>
<g filter="url(#soft1)"><path d="M752.8 921.8C758.2 921.5 774.4 920.1 785.2 919.9C796 919.8 812.2 920.7 817.6 920.9" fill="none" stroke="#a5a5a5" stroke-width="1.8" opacity="0.38" stroke-linecap="round"/><rect x="500" y="520" width="1" height="1" fill="#fff" opacity="0.01"/><rect x="890" y="1230" width="1" height="1" fill="#fff" opacity="0.01"/></g>
<g filter="url(#soft1)"><path d="M752.8 951.8C758 951.5 773.6 950.1 784 949.9C794.4 949.8 810 950.7 815.2 950.9" fill="none" stroke="#a5a5a5" stroke-width="1.8" opacity="0.38" stroke-linecap="round"/><rect x="500" y="520" width="1" height="1" fill="#fff" opacity="0.01"/><rect x="890" y="1230" width="1" height="1" fill="#fff" opacity="0.01"/></g>
<g filter="url(#soft1)"><path d="M755.2 987.8C760 987.5 774.4 986.1 784 985.9C793.6 985.8 808 986.7 812.8 986.9" fill="none" stroke="#a5a5a5" stroke-width="1.8" opacity="0.38" stroke-linecap="round"/><rect x="500" y="520" width="1" height="1" fill="#fff" opacity="0.01"/><rect x="890" y="1230" width="1" height="1" fill="#fff" opacity="0.01"/></g>
<g filter="url(#soft1)"><path d="M769.6 1015.4C771.6 1015.1 777.6 1013.7 781.6 1013.5C785.6 1013.4 791.6 1014.3 793.6 1014.5" fill="none" stroke="#a5a5a5" stroke-width="1.8" opacity="0.38" stroke-linecap="round"/><rect x="500" y="520" width="1" height="1" fill="#fff" opacity="0.01"/><rect x="890" y="1230" width="1" height="1" fill="#fff" opacity="0.01"/></g>
<g filter="url(#soft1)"><path d="M760 1045.4C763 1045.1 772 1043.7 778 1043.5C784 1043.4 793 1044.3 796 1044.5" fill="none" stroke="#a5a5a5" stroke-width="1.8" opacity="0.38" stroke-linecap="round"/><rect x="500" y="520" width="1" height="1" fill="#fff" opacity="0.01"/><rect x="890" y="1230" width="1" height="1" fill="#fff" opacity="0.01"/></g>
<g filter="url(#soft1)"><path d="M760 1069.4C762.8 1069.1 771.2 1067.7 776.8 1067.5C782.4 1067.4 790.8 1068.3 793.6 1068.5" fill="none" stroke="#a5a5a5" stroke-width="1.8" opacity="0.38" stroke-linecap="round"/><rect x="500" y="520" width="1" height="1" fill="#fff" opacity="0.01"/><rect x="890" y="1230" width="1" height="1" fill="#fff" opacity="0.01"/></g>
<g filter="url(#soft1)"><path d="M839.2 1015.2C837.2 1016.8 832.4 1020.8 827.2 1024.8C822 1028.8 812.8 1036 808 1039.2C803.2 1042.4 800 1043.2 798.4 1044" fill="none" stroke="#8a8a8a" stroke-width="2.5" opacity="0.45" stroke-linecap="round"/><rect x="500" y="520" width="1" height="1" fill="#fff" opacity="0.01"/><rect x="890" y="1230" width="1" height="1" fill="#fff" opacity="0.01"/></g>
<g filter="url(#soft)"><path d="M738 858C740 859.7 746 864.7 750 868C754 871.3 760 876.3 762 878" fill="none" stroke="#8f8f8f" stroke-width="5" opacity="0.45" stroke-linecap="round"/><rect x="500" y="520" width="1" height="1" fill="#fff" opacity="0.01"/><rect x="890" y="1230" width="1" height="1" fill="#fff" opacity="0.01"/></g>
<g filter="url(#soft1)"><path d="M745.6 893.6C751.7 893.4 769.4 892.5 782 892.2C794.6 892 814.7 892.2 821.2 892.2" fill="none" stroke="#a5a5a5" stroke-width="2" opacity="0.38" stroke-linecap="round"/><rect x="500" y="520" width="1" height="1" fill="#fff" opacity="0.01"/><rect x="890" y="1230" width="1" height="1" fill="#fff" opacity="0.01"/></g>
<g filter="url(#soft1)"><path d="M748.4 920.2C754.5 919.8 772.2 917.6 784.8 917.4C797.4 917.3 817.5 919.1 824 919.4" fill="none" stroke="#a5a5a5" stroke-width="2" opacity="0.35" stroke-linecap="round"/><rect x="500" y="520" width="1" height="1" fill="#fff" opacity="0.01"/><rect x="890" y="1230" width="1" height="1" fill="#fff" opacity="0.01"/></g>
<g filter="url(#soft)"><path d="M695.2 909.6C698 902 707.6 908 709.6 914.4C711.6 920.8 706.8 937.2 707.2 948C707.6 958.8 710 968.8 712 979.2C714 989.6 714.4 1001.2 719.2 1010.4C724 1019.6 735.2 1028 740.8 1034.4C746.4 1040.8 753.6 1045.6 752.8 1048.8C752 1052 742.8 1056 736 1053.6C729.2 1051.2 718.8 1043.2 712 1034.4C705.2 1025.6 698.4 1013.2 695.2 1000.8C692 988.4 692.8 975.2 692.8 960C692.8 944.8 692.4 917.2 695.2 909.6Z" fill="#cfcfcd" opacity="0.5"/><rect x="500" y="520" width="1" height="1" fill="#fff" opacity="0.01"/><rect x="890" y="1230" width="1" height="1" fill="#fff" opacity="0.01"/></g>
<g filter="url(#soft)"><path d="M723.2 837.6C726.9 833.4 736.3 845.1 740 851.6C743.8 858.1 747 870.8 745.6 876.8C744.2 882.9 736.3 888 731.6 888C726.9 888 719 885.2 717.6 876.8C716.2 868.4 719.5 841.8 723.2 837.6Z" fill="#c8c8c6" opacity="0.5"/><rect x="500" y="520" width="1" height="1" fill="#fff" opacity="0.01"/><rect x="890" y="1230" width="1" height="1" fill="#fff" opacity="0.01"/></g>
<path d="M727.4 823.6C729.4 822.5 735.3 821.2 737.2 823.1C739.2 824.9 740.8 832.6 739.2 834.8C737.5 837.1 729.7 837.3 727.4 836.5C725.1 835.7 725.2 831.9 725.2 829.8C725.2 827.6 725.4 824.7 727.4 823.6Z" fill="#efefed" stroke="#1b1817" stroke-width="1.2"/>
<path d="M649.6 1063.2C650.6 1058.5 654.1 1047.8 659.2 1046.9C664.3 1045.9 681 1053.2 688 1056C695 1058.8 705.6 1064.5 712 1068C718.4 1071.5 730.2 1079.2 736 1082.4C741.8 1085.6 750.6 1089.1 755.2 1092C759.8 1094.9 767.9 1100.6 770.8 1104C773.7 1107.4 777 1115.5 776.8 1117.2C776.6 1118.9 772.5 1115.4 769.6 1116.5C766.7 1117.6 759.7 1123.1 755.2 1125.6C750.7 1128.1 740.5 1133.5 736 1135.2C731.5 1136.9 726.4 1139 721.6 1138.1C716.8 1137.2 706.1 1130.8 700 1128.5C693.9 1126.2 681.1 1124.1 676 1120.8C670.9 1117.5 664.8 1109.1 661.6 1104C658.4 1098.9 653.6 1087.8 652 1082.4C650.4 1077 648.6 1067.9 649.6 1063.2Z" fill="#f0f0ee"/>
<g filter="url(#soft)"><path d="M652 1065.6C653.9 1060.6 659.6 1054.8 664 1053.6C668.4 1052.4 677.2 1053.6 678.4 1058.4C679.6 1063.2 671.2 1074.4 671.2 1082.4C671.2 1090.4 674 1099.6 678.4 1106.4C682.8 1113.2 690.8 1118.6 697.6 1123.2C704.4 1127.8 718.8 1133 719.2 1134C719.6 1135 707.2 1131.2 700 1129.2C692.8 1127.2 682.5 1126.1 676 1122C669.5 1117.9 665 1110.9 661.1 1104.5C657.2 1098.1 654 1090.1 652.5 1083.6C651 1077.1 650.1 1070.6 652 1065.6Z" fill="#8f8f8d" opacity="0.6"/><rect x="500" y="520" width="1" height="1" fill="#fff" opacity="0.01"/><rect x="890" y="1230" width="1" height="1" fill="#fff" opacity="0.01"/></g>
<g filter="url(#soft)"><path d="M740.8 1082.4C742.4 1081.2 755 1088 760 1092C765 1096 770.8 1102.4 770.8 1106.4C770.8 1110.4 764.2 1115.6 760 1116C755.8 1116.4 747.2 1111.6 745.6 1108.8C744 1106 751.2 1103.6 750.4 1099.2C749.6 1094.8 739.2 1083.6 740.8 1082.4Z" fill="#9a9a98" opacity="0.55"/><rect x="500" y="520" width="1" height="1" fill="#fff" opacity="0.01"/><rect x="890" y="1230" width="1" height="1" fill="#fff" opacity="0.01"/></g>
<g filter="url(#soft)"><path d="M700 1024.8C704 1024.4 712.4 1031.2 719.2 1034.4C726 1037.6 736.4 1040 740.8 1044C745.2 1048 747.2 1055.2 745.6 1058.4C744 1061.6 736.8 1064.8 731.2 1063.2C725.6 1061.6 718 1053.2 712 1048.8C706 1044.4 697.2 1040.8 695.2 1036.8C693.2 1032.8 696 1025.2 700 1024.8Z" fill="#9d9d9b" opacity="0.6"/><rect x="500" y="520" width="1" height="1" fill="#fff" opacity="0.01"/><rect x="890" y="1230" width="1" height="1" fill="#fff" opacity="0.01"/></g>
<path d="M689.2 1056C687.6 1057.9 687.2 1070.4 688 1075.2C688.8 1080 692.3 1087.8 695.2 1092C698.1 1096.2 705.1 1103.6 709.6 1106.4C714.1 1109.2 724.3 1112.1 728.8 1112.6C733.3 1113.2 740.8 1111.7 743.2 1110.2C745.6 1108.8 748 1104.7 747 1101.6C746.1 1098.5 740 1091 736 1087.2C732 1083.4 721.6 1076.3 716.8 1072.8C712 1069.3 703.7 1063.5 700 1061.3C696.3 1059 690.8 1054.1 689.2 1056Z" fill="#ffffff" stroke="#1b1817" stroke-width="1.3"/>
<path d="M774.4 1080C774.8 1078.6 778.4 1078.6 780 1078.4C781.6 1078.2 786.6 1078.2 788 1078.4C789.4 1078.6 792.1 1078.6 792.4 1080C792.7 1081.4 790.9 1087.7 790.4 1090C789.9 1092.3 788.5 1097.7 788.4 1100C788.3 1102.3 789.4 1107.9 789.6 1110C789.8 1112.1 791.1 1116.5 790.4 1117.6C789.7 1118.7 785.4 1119.6 784 1119.6C782.6 1119.6 778.7 1119.1 778 1118C777.3 1116.9 777.9 1112.1 778 1110C778.1 1107.9 779 1102.3 778.8 1100C778.6 1097.7 776.9 1092.3 776.4 1090C775.9 1087.7 774 1081.4 774.4 1080Z" fill="#c6c6c3" stroke="#1b1817" stroke-width="1.6"/>
<path d="M782.4 1084C782.7 1086.7 784.2 1095 784.4 1100C784.6 1105 783.7 1111.7 783.6 1114" fill="none" stroke="#f2f2f0" stroke-width="3.5" opacity="0.8" stroke-linecap="round"/>
<clipPath id="hili"><path d="M662.4 759.4C660.8 756.2 647.8 757.4 643 757.2C638.2 757 626.1 756.8 621 757.6C615.9 758.4 604.1 761.9 599 764.2C593.9 766.5 581.9 773.3 577 777.4C572.1 781.5 560.8 794 557.2 799.4C553.6 804.8 548 817.7 546.2 823.6C544.4 829.5 542.1 844.9 541.8 850C541.5 855.1 542.8 863.5 544 867.6C545.2 871.7 550.1 881.6 551.7 885.2C553.3 888.9 556 895.3 557.6 898.9C559.3 902.4 564.3 912 566 916C567.8 920.1 571.3 929.5 572.6 933.6C573.9 937.7 576 947.9 577 951.2C578 954.5 580.1 957.7 581.4 962C582.7 966.3 586.2 982.2 588 988.4C589.8 994.6 595 1009.2 596.8 1014.8C598.6 1020.5 602.4 1031.7 603.4 1036.8C604.4 1041.9 605.6 1053.7 605.6 1058.8C605.7 1063.9 604.2 1076.2 603.9 1080.8C603.5 1085.4 603.3 1093.7 603 1098.4C602.7 1103.1 601.4 1116.9 601.3 1120.9C601.3 1124.9 601.8 1132 602.4 1132.4C603 1132.9 605.3 1126.4 606.7 1124.4C608 1122.5 610.8 1122.7 613.8 1115.6C616.7 1108.4 629.1 1072.1 632 1063.2C635 1054.3 638 1045.7 639.1 1039C640.1 1032.3 640.9 1013.7 641.3 1006C641.6 998.3 642.2 980.7 642.1 973C642.1 965.3 641.1 946.6 640.8 940C640.6 933.4 639.9 922.7 639.9 916C639.9 909.4 640.3 890.7 640.8 883C641.3 875.3 643.1 857.7 644.1 850C645.1 842.3 648.2 824.7 649.6 817C651 809.3 654.7 790.7 656.2 784C657.7 777.3 663.9 762.5 662.4 759.4Z"/></clipPath>
<g clip-path="url(#hili)">
<rect x="520" y="740" width="160" height="370" fill="url(#gil)"/>
<g filter="url(#soft4)"><path d="M662.8 753.2C656.6 748.8 636.4 748.8 623.2 751C610 753.2 595.3 758.7 583.6 766.4C571.9 774.1 560.1 786.2 552.8 797.2C545.5 808.2 541.8 821.4 539.6 832.4C537.4 843.4 536.7 859.5 539.6 863.2C542.5 866.9 551.7 861.7 557.2 854.4C562.7 847.1 565.6 829.8 572.6 819.2C579.6 808.6 589.1 797.6 599 790.6C608.9 783.6 621.7 779.6 632 777.4C642.3 775.2 655.5 781.4 660.6 777.4C665.7 773.4 669.1 757.6 662.8 753.2Z" fill="#7d5c58" opacity="0.7"/></g>
<path d="M661.3 759.2C659.5 784.5 655.1 865 650.7 911C646.3 957 637.5 1014.5 634.8 1035.2" fill="none" stroke="#9a5a4f" stroke-width="1.4" opacity="0.43"/>
<path d="M659.7 759.1C657.8 784.4 653 865 648.3 911.1C643.7 957.2 634.6 1014.8 631.9 1035.5" fill="none" stroke="#b06a86" stroke-width="0.7" opacity="0.34"/>
<path d="M657.5 758.8C655.9 784.2 652.2 865.1 648.2 911.3C644.2 957.4 636.1 1015.2 633.6 1036" fill="none" stroke="#a8664f" stroke-width="0.6" opacity="0.27"/>
<path d="M655.2 758.5C653.9 784 651.1 865.1 647.8 911.4C644.4 957.7 637 1015.6 634.9 1036.4" fill="none" stroke="#c98496" stroke-width="0.7" opacity="0.44"/>
<path d="M653.2 758.3C652 783.8 649.3 865.1 646 911.5C642.7 957.9 635.6 1015.9 633.5 1036.8" fill="none" stroke="#b06a86" stroke-width="0.7" opacity="0.49"/>
<path d="M651.2 758.1C650.2 783.7 648.2 865.1 645.3 911.6C642.4 958.1 635.8 1016.3 633.9 1037.2" fill="none" stroke="#b06a86" stroke-width="1.4" opacity="0.29"/>
<path d="M647.3 757.6C646.5 783.3 645.1 865.1 642.6 911.9C640.2 958.6 634.2 1017 632.5 1038" fill="none" stroke="#a8664f" stroke-width="0.8" opacity="0.49"/>
<path d="M646.4 757.5C645.8 783.3 645.1 865.1 643.1 911.9C641 958.7 635.6 1017.1 634.1 1038.2" fill="none" stroke="#c98496" stroke-width="0.9" opacity="0.31"/>
<path d="M644.2 757.3C643.5 783.1 642.4 865.1 640.1 912C637.8 958.9 632.2 1017.5 630.6 1038.6" fill="none" stroke="#e8c4b8" stroke-width="0.9" opacity="0.45"/>
<path d="M641 757.2C640.7 783.1 640.8 865.3 639.3 912.3C637.9 959.3 633.3 1018.1 632.1 1039.2" fill="none" stroke="#8a4f47" stroke-width="0.7" opacity="0.31"/>
<path d="M639 757.2C638.9 783.1 639.6 865.5 638.5 912.5C637.4 959.6 633.3 1018.4 632.3 1039.6" fill="none" stroke="#b06a86" stroke-width="1" opacity="0.41"/>
<path d="M637 757.3C637.2 783.2 638.7 865.6 638 912.7C637.4 959.8 634 1018.7 633.2 1039.9" fill="none" stroke="#9a5a4f" stroke-width="1.5" opacity="0.31"/>
<path d="M633.7 757.3C634 783.3 635.8 865.9 635.4 913.1C634.9 960.3 631.9 1019.3 631.2 1040.5" fill="none" stroke="#c98496" stroke-width="0.9" opacity="0.37"/>
<path d="M632 757.4C632.2 783.4 633.8 866 633.3 913.3C632.8 960.5 629.7 1019.5 629 1040.8" fill="none" stroke="#b06a86" stroke-width="1.2" opacity="0.49"/>
<path d="M629.2 757.4C629.7 783.5 632.3 866.2 632.3 913.6C632.4 960.9 630 1020 629.5 1041.3" fill="none" stroke="#b98068" stroke-width="0.9" opacity="0.31"/>
<path d="M625.9 757.5C626.8 783.6 630.8 866.5 631.7 913.9C632.6 961.3 631.4 1020.6 631.3 1041.9" fill="none" stroke="#e8c4b8" stroke-width="1.1" opacity="0.43"/>
<path d="M623.7 757.5C624.6 783.6 628.5 866.7 629.4 914.1C630.4 961.6 629.2 1020.9 629.2 1042.3" fill="none" stroke="#c98496" stroke-width="1.5" opacity="0.23"/>
<path d="M621.2 757.6C622.4 783.7 627.3 866.9 628.8 914.4C630.3 961.9 630 1021.3 630.2 1042.7" fill="none" stroke="#b06a86" stroke-width="0.9" opacity="0.48"/>
<path d="M618.2 758.4C619.6 784.5 624.8 867.6 626.6 915.1C628.3 962.5 628.4 1021.9 628.7 1043.2" fill="none" stroke="#8a4f47" stroke-width="0.9" opacity="0.44"/>
<path d="M615.5 759.3C617.3 785.3 623.6 868.3 626 915.7C628.5 963.1 629.4 1022.4 630.1 1043.7" fill="none" stroke="#efd2c8" stroke-width="1.5" opacity="0.25"/>
<path d="M614.1 759.7C616.1 785.7 623.1 868.6 625.9 916C628.7 963.4 630.2 1022.6 631 1043.9" fill="none" stroke="#c98496" stroke-width="0.6" opacity="0.42"/>
<path d="M611 760.6C612.9 786.6 619.8 869.4 622.6 916.7C625.4 964.1 626.9 1023.2 627.8 1044.5" fill="none" stroke="#c98496" stroke-width="0.7" opacity="0.49"/>
<path d="M607.9 761.5C610.2 787.5 618.5 870.2 622.1 917.5C625.8 964.7 628.4 1023.8 629.7 1045" fill="none" stroke="#8a4f47" stroke-width="1.4" opacity="0.24"/>
<path d="M605.1 762.4C607.8 788.3 616.9 870.9 621 918.1C625.1 965.3 628.5 1024.3 630 1045.5" fill="none" stroke="#c98496" stroke-width="0.7" opacity="0.33"/>
<path d="M603.8 762.8C606.5 788.7 615.8 871.2 620 918.4C624.3 965.6 627.9 1024.5 629.4 1045.8" fill="none" stroke="#efd2c8" stroke-width="0.7" opacity="0.48"/>
<path d="M600.3 763.8C603 789.7 612.3 872.1 616.7 919.2C621 966.3 624.8 1025.2 626.4 1046.4" fill="none" stroke="#b98068" stroke-width="1.5" opacity="0.41"/>
<path d="M598.4 764.6C601.3 790.5 611.2 872.7 615.9 919.8C620.6 966.8 624.8 1025.6 626.6 1046.7" fill="none" stroke="#b98068" stroke-width="1" opacity="0.24"/>
<path d="M595.7 766.2C599.1 791.9 610.5 873.9 616 920.7C621.6 967.6 627 1026.1 629.2 1047.2" fill="none" stroke="#b06a86" stroke-width="1.2" opacity="0.35"/>
<path d="M593.2 767.7C596.5 793.3 607.4 875 612.8 921.6C618.1 968.3 623.3 1026.6 625.4 1047.6" fill="none" stroke="#efd2c8" stroke-width="1.1" opacity="0.36"/>
<path d="M590.4 769.4C593.8 794.9 605.4 876.2 611.2 922.7C616.9 969.1 622.7 1027.2 625 1048.1" fill="none" stroke="#8a4f47" stroke-width="1.2" opacity="0.40"/>
<path d="M587.3 771.2C591.1 796.7 603.8 877.6 610.2 923.8C616.6 970 623.3 1027.8 625.9 1048.7" fill="none" stroke="#efd2c8" stroke-width="1.4" opacity="0.28"/>
<path d="M584.3 773C588.5 798.3 602.3 878.9 609.4 924.9C616.5 970.9 624.1 1028.5 627 1049.2" fill="none" stroke="#8a4f47" stroke-width="1.2" opacity="0.37"/>
<path d="M583.8 773.4C587.9 798.6 601.6 879.1 608.7 925.1C615.8 971.1 623.4 1028.6 626.3 1049.3" fill="none" stroke="#efd2c8" stroke-width="0.9" opacity="0.28"/>
<path d="M580.7 775.2C585 800.4 599.4 880.5 606.9 926.3C614.5 972 622.7 1029.2 625.8 1049.8" fill="none" stroke="#8a4f47" stroke-width="0.9" opacity="0.39"/>
<path d="M577.2 777.3C582 802.3 597.6 882 605.8 927.5C614.1 973 623.3 1029.9 626.8 1050.4" fill="none" stroke="#8a4f47" stroke-width="1.4" opacity="0.25"/>
<path d="M574.7 780C579.5 804.8 595.2 883.9 603.6 929C612 974.2 621.4 1030.6 625 1050.9" fill="none" stroke="#8a4f47" stroke-width="1.5" opacity="0.36"/>
<path d="M573 781.9C577.8 806.6 593.6 885.1 602.1 930C610.5 974.9 620.1 1031 623.7 1051.3" fill="none" stroke="#8a4f47" stroke-width="1.4" opacity="0.34"/>
<path d="M570.4 784.7C575.7 809.2 592.7 887.1 601.9 931.6C611.1 976.1 621.7 1031.7 625.6 1051.8" fill="none" stroke="#c98496" stroke-width="0.8" opacity="0.43"/>
<path d="M568.3 787C573.7 811.3 591.2 888.7 600.6 932.9C610.1 977 621.1 1032.3 625.2 1052.2" fill="none" stroke="#c98496" stroke-width="0.9" opacity="0.37"/>
<path d="M565.5 790.2C571 814.2 588.6 890.8 598.3 934.6C607.9 978.3 619.1 1033 623.3 1052.7" fill="none" stroke="#9a5a4f" stroke-width="0.8" opacity="0.38"/>
<path d="M563.7 792.2C569.2 816.1 587.2 892.2 597.1 935.7C606.9 979.2 618.5 1033.5 622.8 1053.1" fill="none" stroke="#b06a86" stroke-width="1.2" opacity="0.21"/>
<path d="M561.7 794.4C567.4 818.2 585.9 893.7 596.1 936.9C606.2 980.1 618.3 1034 622.7 1053.5" fill="none" stroke="#9a5a4f" stroke-width="1.4" opacity="0.23"/>
<path d="M558.5 798C564.6 821.5 584.1 896.2 594.9 938.8C605.7 981.5 618.7 1034.9 623.4 1054.1" fill="none" stroke="#9a5a4f" stroke-width="1" opacity="0.31"/>
<path d="M557 800C563 823.3 582.4 897.5 593.1 939.9C603.9 982.3 616.8 1035.3 621.6 1054.4" fill="none" stroke="#a8664f" stroke-width="0.8" opacity="0.47"/>
<path d="M556.4 801.3C562.6 824.5 582.4 898.4 593.5 940.6C604.6 982.8 617.9 1035.6 622.8 1054.6" fill="none" stroke="#efd2c8" stroke-width="1.4" opacity="0.46"/>
<path d="M554.4 805.6C560.8 828.5 581.2 901.3 592.6 942.9C604 984.6 617.9 1036.6 623 1055.3" fill="none" stroke="#9a5a4f" stroke-width="1.1" opacity="0.29"/>
<path d="M553.5 807.5C559.9 830.3 580.5 902.6 592 944C603.5 985.3 617.6 1037 622.7 1055.6" fill="none" stroke="#efd2c8" stroke-width="1.5" opacity="0.45"/>
<path d="M552.1 810.6C558.7 833.1 579.9 904.7 591.8 945.6C603.7 986.5 618.3 1037.7 623.6 1056.1" fill="none" stroke="#8a4f47" stroke-width="1" opacity="0.25"/>
<path d="M550.9 813.3C557.5 835.6 578.4 906.5 590.3 947.1C602.1 987.6 616.7 1038.3 622 1056.6" fill="none" stroke="#a8664f" stroke-width="1.5" opacity="0.38"/>
<path d="M549.7 816C556.5 838.1 578.2 908.4 590.4 948.5C602.7 988.7 617.9 1038.9 623.4 1057" fill="none" stroke="#9a5a4f" stroke-width="0.9" opacity="0.30"/>
<path d="M547.8 820.1C554.6 841.8 576.2 911.1 588.5 950.7C600.8 990.3 616.1 1039.8 621.7 1057.6" fill="none" stroke="#8a4f47" stroke-width="1.2" opacity="0.47"/>
<path d="M547.1 821.7C553.9 843.3 575.5 912.2 587.8 951.6C600.2 991 615.6 1040.2 621.1 1057.9" fill="none" stroke="#a8664f" stroke-width="1" opacity="0.34"/>
<path d="M545.9 825.3C552.8 846.7 574.5 914.7 586.9 953.5C599.4 992.4 615 1041 620.6 1058.5" fill="none" stroke="#b06a86" stroke-width="1.1" opacity="0.28"/>
<path d="M545.3 829C552.2 850.1 574.1 917.2 586.7 955.5C599.2 993.8 615.1 1041.7 620.7 1059" fill="none" stroke="#c98496" stroke-width="0.6" opacity="0.48"/>
<path d="M545.1 830.5C552.1 851.4 574.5 918.1 587.4 956.3C600.3 994.4 616.5 1042 622.4 1059.2" fill="none" stroke="#b06a86" stroke-width="1" opacity="0.24"/>
<path d="M544.4 834.3C551.3 854.9 573.2 920.7 585.8 958.3C598.4 995.9 614.4 1042.8 620.1 1059.8" fill="none" stroke="#efd2c8" stroke-width="0.6" opacity="0.24"/>
<path d="M544 836.8C550.9 857.2 572.8 922.4 585.5 959.6C598.2 996.8 614.3 1043.4 620.1 1060.1" fill="none" stroke="#efd2c8" stroke-width="0.8" opacity="0.34"/>
<path d="M543.7 838.9C550.6 859.2 572.5 923.8 585.2 960.8C597.9 997.7 614.1 1043.8 619.9 1060.4" fill="none" stroke="#b06a86" stroke-width="1.2" opacity="0.29"/>
<path d="M543 843.1C550.1 863.1 572.6 926.6 585.7 963C598.8 999.3 615.6 1044.7 621.6 1061.1" fill="none" stroke="#e8c4b8" stroke-width="0.6" opacity="0.24"/>
<path d="M542.5 845.6C549.6 865.4 571.8 928.3 584.7 964.3C597.7 1000.3 614.3 1045.2 620.3 1061.4" fill="none" stroke="#efd2c8" stroke-width="1.3" opacity="0.21"/>
<path d="M542 848.8C549 868.4 571.2 930.5 584.2 966C597.2 1001.5 613.9 1045.9 619.9 1061.9" fill="none" stroke="#b06a86" stroke-width="0.6" opacity="0.28"/>
<path d="M542 851.4C549.1 870.8 571.4 932.3 584.5 967.5C597.6 1002.6 614.5 1046.6 620.6 1062.4" fill="none" stroke="#a8664f" stroke-width="0.6" opacity="0.43"/>
<path d="M542.2 853.4C549.1 872.6 570.8 933.7 583.6 968.6C596.4 1003.5 613.1 1047.1 619 1062.8" fill="none" stroke="#b98068" stroke-width="1.4" opacity="0.45"/>
<path d="M542.5 855.5C549.4 874.6 571 935.2 583.8 969.8C596.5 1004.4 613.2 1047.7 619.1 1063.3" fill="none" stroke="#a8664f" stroke-width="1.4" opacity="0.34"/>
<path d="M542.8 858C549.5 876.9 570.4 936.9 582.8 971.2C595.2 1005.5 611.6 1048.4 617.3 1063.8" fill="none" stroke="#9a5a4f" stroke-width="1.2" opacity="0.33"/>
<path d="M543 859.3C549.8 878.1 571.1 937.8 583.8 971.9C596.5 1006.1 613.2 1048.7 619.1 1064.1" fill="none" stroke="#efd2c8" stroke-width="0.7" opacity="0.34"/>
<path d="M543.3 861.7C549.9 880.3 570.7 939.5 583.1 973.3C595.5 1007.2 611.9 1049.4 617.6 1064.6" fill="none" stroke="#8a4f47" stroke-width="1.1" opacity="0.33"/>
<path d="M543.5 863.8C549.9 882.2 570 940.9 582 974.5C594 1008 610 1050 615.6 1065.1" fill="none" stroke="#a8664f" stroke-width="0.8" opacity="0.23"/>
<path d="M543.7 865C550.4 883.4 571.3 941.8 583.9 975.2C596.4 1008.6 613.2 1050.3 619 1065.4" fill="none" stroke="#8a4f47" stroke-width="1.3" opacity="0.49"/>
<path d="M544.4 868.6C550.9 886.7 571.1 944.3 583.3 977.2C595.5 1010.2 611.9 1051.3 617.6 1066.1" fill="none" stroke="#9a5a4f" stroke-width="0.7" opacity="0.24"/>
<path d="M545 870C551.5 888 571.6 945.3 583.7 978C595.9 1010.8 612.2 1051.7 617.9 1066.5" fill="none" stroke="#e8c4b8" stroke-width="1.2" opacity="0.24"/>
<path d="M545.7 871.5C552.1 889.4 572 946.3 584.1 978.9C596.1 1011.4 612.5 1052.1 618.1 1066.8" fill="none" stroke="#b06a86" stroke-width="0.8" opacity="0.26"/>
<path d="M546.9 874.3C552.9 892 571.2 948.3 582.5 980.5C593.7 1012.7 609.1 1052.9 614.4 1067.4" fill="none" stroke="#a8664f" stroke-width="0.6" opacity="0.23"/>
<path d="M547.5 875.7C553.4 893.3 571.5 949.3 582.6 981.3C593.7 1013.3 609 1053.3 614.2 1067.7" fill="none" stroke="#9a5a4f" stroke-width="1.1" opacity="0.24"/>
<path d="M548.4 877.7C554.4 895.2 572.7 950.7 584 982.5C595.3 1014.2 610.8 1053.9 616.2 1068.2" fill="none" stroke="#9a5a4f" stroke-width="1" opacity="0.29"/>
<path d="M549.5 880.1C555.2 897.4 572.9 952.4 583.9 983.8C594.9 1015.2 610.1 1054.5 615.4 1068.7" fill="none" stroke="#8a4f47" stroke-width="1.4" opacity="0.24"/>
<path d="M550.1 881.6C555.8 898.8 573.3 953.5 584.2 984.7C595.1 1015.9 610.3 1055 615.5 1069" fill="none" stroke="#efd2c8" stroke-width="1.4" opacity="0.37"/>
<path d="M551.3 884.2C556.7 901.2 573.3 955.3 583.8 986.2C594.2 1017.1 608.9 1055.7 614 1069.6" fill="none" stroke="#a8664f" stroke-width="0.8" opacity="0.43"/>
<path d="M552 885.9C557.3 902.7 573.4 956.4 583.6 987.1C593.8 1017.8 608.3 1056.2 613.2 1070" fill="none" stroke="#a8664f" stroke-width="1.4" opacity="0.34"/>
<path d="M552.6 887.3C557.8 904.1 573.7 957.5 583.7 988C593.8 1018.5 608.1 1056.7 613 1070.4" fill="none" stroke="#9a5a4f" stroke-width="1.2" opacity="0.23"/>
<path d="M553.4 889.2C558.5 905.9 573.9 958.9 583.8 989.2C593.6 1019.4 607.7 1057.3 612.5 1070.9" fill="none" stroke="#e8c4b8" stroke-width="1.1" opacity="0.34"/>
<path d="M554 890.4C559.1 907 574.7 959.8 584.6 989.9C594.6 1020 609 1057.7 613.8 1071.3" fill="none" stroke="#8a4f47" stroke-width="0.7" opacity="0.36"/>
<path d="M554.7 892.2C559.7 908.7 574.8 961 584.6 991C594.3 1020.9 608.5 1058.3 613.2 1071.8" fill="none" stroke="#b06a86" stroke-width="1.5" opacity="0.33"/>
<path d="M555.6 894.1C560.6 910.4 575.7 962.4 585.5 992.1C595.3 1021.8 609.6 1058.9 614.4 1072.3" fill="none" stroke="#e8c4b8" stroke-width="1.5" opacity="0.40"/>
<path d="M556.3 895.7C560.9 911.9 575 963.6 584.3 993.1C593.5 1022.6 607.1 1059.5 611.7 1072.8" fill="none" stroke="#c98496" stroke-width="0.9" opacity="0.27"/>
<path d="M556.7 896.7C561.5 912.8 575.9 964.3 585.4 993.7C594.8 1023.1 608.8 1059.8 613.5 1073" fill="none" stroke="#8a4f47" stroke-width="1.3" opacity="0.31"/>
<path d="M557.6 898.7C562.1 914.8 575.8 965.8 584.9 994.9C594 1024.1 607.6 1060.5 612.1 1073.6" fill="none" stroke="#efd2c8" stroke-width="1.3" opacity="0.33"/>
<path d="M558.6 900.9C563.1 916.7 576.5 967.3 585.5 996.2C594.5 1025 608 1061.1 612.5 1074.1" fill="none" stroke="#a8664f" stroke-width="1.3" opacity="0.32"/>
<path d="M559 901.6C563.3 917.5 576 967.8 584.5 996.6C593.1 1025.4 606.1 1061.3 610.5 1074.3" fill="none" stroke="#a8664f" stroke-width="0.8" opacity="0.35"/>
<path d="M560.6 905C564.9 920.6 577.6 970.2 586.3 998.5C594.9 1026.9 608.2 1062.3 612.6 1075" fill="none" stroke="#8a4f47" stroke-width="0.6" opacity="0.34"/>
<path d="M561.5 906.9C565.7 922.3 578 971.5 586.4 999.6C594.8 1027.7 607.9 1062.8 612.1 1075.5" fill="none" stroke="#c98496" stroke-width="0.9" opacity="0.34"/>
<path d="M562 907.7C566.1 923.1 578.2 972.1 586.6 1000.1C594.9 1028.1 607.9 1063.1 612.2 1075.7" fill="none" stroke="#e8c4b8" stroke-width="0.9" opacity="0.32"/>
<path d="M563.5 910.8C567.2 926 578.1 974.3 585.8 1001.9C593.5 1029.5 605.8 1063.9 609.8 1076.4" fill="none" stroke="#efd2c8" stroke-width="0.7" opacity="0.45"/>
<path d="M564.3 912.6C568.1 927.6 579.3 975.5 587.2 1002.9C595 1030.2 607.6 1064.4 611.6 1076.8" fill="none" stroke="#9a5a4f" stroke-width="1" opacity="0.21"/>
<path d="M565.4 914.8C569 929.7 579.3 977.1 586.7 1004.2C594.2 1031.2 606.3 1065.1 610.2 1077.3" fill="none" stroke="#9a5a4f" stroke-width="1.2" opacity="0.40"/>
<path d="M566 916.1C569.7 930.9 580.4 978 588.1 1004.9C595.9 1031.8 608.3 1065.4 612.3 1077.6" fill="none" stroke="#e8c4b8" stroke-width="1.3" opacity="0.30"/>
<path d="M566.8 918.1C570.1 932.8 579.7 979.4 586.7 1006C593.8 1032.7 605.5 1066 609.2 1078" fill="none" stroke="#b06a86" stroke-width="0.6" opacity="0.41"/>
<path d="M567.6 920.3C571 934.8 580.6 981 587.8 1007.3C595 1033.7 606.8 1066.6 610.6 1078.5" fill="none" stroke="#c98496" stroke-width="1.4" opacity="0.41"/>
<path d="M568.5 922.5C571.5 936.9 580.2 982.5 586.9 1008.6C593.6 1034.6 604.9 1067.2 608.5 1079" fill="none" stroke="#8a4f47" stroke-width="0.9" opacity="0.42"/>
<path d="M569.2 924.6C572.2 938.8 580.5 984 587 1009.8C593.5 1035.6 604.6 1067.8 608.1 1079.4" fill="none" stroke="#a8664f" stroke-width="0.8" opacity="0.26"/>
<path d="M569.6 925.6C572.7 939.7 581.3 984.6 588 1010.3C594.7 1036 606.2 1068.1 609.8 1079.6" fill="none" stroke="#efd2c8" stroke-width="0.6" opacity="0.22"/>
<path d="M570.8 928.8C573.6 942.7 581.5 986.9 587.8 1012.1C594.1 1037.4 605.2 1069 608.6 1080.3" fill="none" stroke="#9a5a4f" stroke-width="0.6" opacity="0.45"/>
<path d="M571.6 930.9C574.4 944.7 582 988.4 588.3 1013.4C594.5 1038.3 605.5 1069.6 609 1080.8" fill="none" stroke="#e8c4b8" stroke-width="1.2" opacity="0.27"/>
<path d="M572.3 932.9C574.8 946.5 581.6 989.8 587.3 1014.5C593.1 1039.2 603.6 1070.1 606.9 1081.2" fill="none" stroke="#b98068" stroke-width="0.6" opacity="0.27"/>
<path d="M572.6 933.7C575.2 947.2 582.2 990.3 588.1 1014.9C594 1039.6 604.7 1070.3 608 1081.4" fill="none" stroke="#9a5a4f" stroke-width="0.6" opacity="0.45"/>
<path d="M573.3 936.4C575.9 949.7 582.7 992.2 588.6 1016.5C594.5 1040.7 605.3 1071.1 608.6 1082" fill="none" stroke="#9a5a4f" stroke-width="1.5" opacity="0.26"/>
<path d="M573.9 938.8C576.4 952 582.9 993.9 588.6 1017.9C594.4 1041.8 605.1 1071.8 608.3 1082.5" fill="none" stroke="#a8664f" stroke-width="1.1" opacity="0.23"/>
<path d="M574.3 940.2C576.5 953.3 582.2 994.9 587.5 1018.7C592.8 1042.4 602.9 1072.2 606 1082.9" fill="none" stroke="#b06a86" stroke-width="1.1" opacity="0.46"/>
<path d="M574.7 942.1C576.8 955 582.2 996.2 587.3 1019.7C592.4 1043.3 602.4 1072.7 605.4 1083.3" fill="none" stroke="#8a4f47" stroke-width="1" opacity="0.37"/>
<path d="M575.3 944.4C577.5 957.2 583.3 997.8 588.7 1021C594 1044.3 604.4 1073.3 607.6 1083.8" fill="none" stroke="#9a5a4f" stroke-width="1.4" opacity="0.29"/>
<path d="M575.8 946.5C578 959.2 583.7 999.3 589.1 1022.3C594.5 1045.2 605 1073.9 608.1 1084.2" fill="none" stroke="#a8664f" stroke-width="1.1" opacity="0.24"/>
<path d="M576.4 948.6C578.5 961.1 583.8 1000.8 589 1023.5C594.3 1046.1 604.6 1074.5 607.7 1084.7" fill="none" stroke="#efd2c8" stroke-width="1.3" opacity="0.29"/>
<path d="M576.7 950.1C578.5 962.4 582.8 1001.8 587.5 1024.3C592.2 1046.8 601.9 1074.9 604.7 1085" fill="none" stroke="#a8664f" stroke-width="1.2" opacity="0.44"/>
<path d="M577.6 952.6C579.4 964.8 584 1003.6 588.8 1025.8C593.7 1048 603.7 1075.8 606.7 1085.8" fill="none" stroke="#efd2c8" stroke-width="0.7" opacity="0.41"/>
<path d="M577.7 952.9C579.4 965.1 583.3 1003.9 587.8 1026.1C592.3 1048.2 601.9 1075.9 604.7 1085.9" fill="none" stroke="#efd2c8" stroke-width="1.4" opacity="0.47"/>
<path d="M578.2 954.2C580 966.3 584.3 1004.8 589.1 1026.9C593.8 1048.9 603.8 1076.4 606.8 1086.3" fill="none" stroke="#c98496" stroke-width="1.3" opacity="0.37"/>
<path d="M579.1 956.3C580.7 968.3 584.4 1006.4 588.8 1028.2C593.3 1050 603 1077.3 605.9 1087.1" fill="none" stroke="#b06a86" stroke-width="1.1" opacity="0.33"/>
<path d="M579.5 957.4C581.1 969.3 584.5 1007.3 588.9 1029C593.2 1050.6 602.9 1077.7 605.7 1087.5" fill="none" stroke="#9a5a4f" stroke-width="1.3" opacity="0.41"/>
<path d="M579.8 958.1C581.4 970 584.8 1007.8 589.2 1029.4C593.6 1051 603.3 1078 606.1 1087.7" fill="none" stroke="#c98496" stroke-width="1.1" opacity="0.30"/>
<path d="M580.3 959.4C581.6 971.2 583.9 1008.8 587.7 1030.2C591.6 1051.7 600.6 1078.5 603.2 1088.2" fill="none" stroke="#b98068" stroke-width="1.2" opacity="0.29"/>
<path d="M580.8 960.4C582.2 972.2 585 1009.5 589.1 1030.9C593.3 1052.3 602.8 1078.9 605.5 1088.6" fill="none" stroke="#9a5a4f" stroke-width="0.6" opacity="0.22"/>
<path d="M581.3 961.7C582.5 973.4 584.5 1010.5 588.3 1031.7C592 1053 601.1 1079.5 603.6 1089" fill="none" stroke="#efd2c8" stroke-width="1.5" opacity="0.38"/>
<path d="M582.1 964.6C583.1 976 584.9 1012.5 588.5 1033.3C592.1 1054.1 601.1 1080.1 603.6 1089.5" fill="none" stroke="#8a4f47" stroke-width="0.8" opacity="0.31"/>
<path d="M582.8 967.5C583.8 978.7 585.5 1014.4 589.1 1034.8C592.6 1055.2 601.7 1080.8 604.2 1089.9" fill="none" stroke="#b06a86" stroke-width="1.3" opacity="0.23"/>
<path d="M583.8 971.4C584.5 982.3 585.2 1017.1 588.3 1036.9C591.3 1056.8 599.8 1081.6 602.1 1090.5" fill="none" stroke="#b06a86" stroke-width="1" opacity="0.48"/>
<path d="M584.7 975.1C585.3 985.7 585.5 1019.6 588.3 1038.9C591.1 1058.2 599.3 1082.4 601.5 1091.1" fill="none" stroke="#8a4f47" stroke-width="1" opacity="0.27"/>
<path d="M585.3 977.7C585.9 988.1 585.8 1021.3 588.5 1040.2C591.2 1059.2 599.4 1082.9 601.6 1091.4" fill="none" stroke="#9a5a4f" stroke-width="1.3" opacity="0.48"/>
<path d="M586 980.6C586.8 990.8 587.3 1023.2 590.4 1041.8C593.5 1060.3 602.2 1083.5 604.5 1091.9" fill="none" stroke="#9a5a4f" stroke-width="0.7" opacity="0.44"/>
<path d="M586.7 983.3C587 993.3 586.2 1025.1 588.5 1043.2C590.8 1061.4 598.6 1084.1 600.6 1092.3" fill="none" stroke="#9a5a4f" stroke-width="0.6" opacity="0.37"/>
<path d="M587.5 986.5C588 996.3 587.8 1027.2 590.5 1044.9C593.2 1062.6 601.5 1084.8 603.7 1092.7" fill="none" stroke="#c98496" stroke-width="1" opacity="0.26"/>
<path d="M543.2 861.3 L549.9 879.7" fill="none" stroke="#4f3b3b" stroke-width="0.9" opacity="0.53"/>
<path d="M542.5 855.3 L549.8 875.4" fill="none" stroke="#4f3b3b" stroke-width="1" opacity="0.54"/>
<path d="M545.5 828 L556.8 862.8" fill="none" stroke="#4f3b3b" stroke-width="0.6" opacity="0.45"/>
<path d="M593.6 767.5 L596.1 788.3" fill="none" stroke="#4f3b3b" stroke-width="0.7" opacity="0.41"/>
<path d="M645.5 757.4 L644.2 785.5" fill="none" stroke="#4f3b3b" stroke-width="1" opacity="0.38"/>
<path d="M548.3 877.5 L557.8 904.2" fill="none" stroke="#4f3b3b" stroke-width="1" opacity="0.44"/>
<path d="M569.6 785.6 L575.9 815.8" fill="none" stroke="#4f3b3b" stroke-width="0.6" opacity="0.36"/>
<path d="M544.4 834.3 L549.8 850.2" fill="none" stroke="#4f3b3b" stroke-width="0.9" opacity="0.49"/>
<path d="M543 859.9 L547.7 872.6" fill="none" stroke="#4f3b3b" stroke-width="0.9" opacity="0.48"/>
<path d="M561.6 794.5 L568.5 823" fill="none" stroke="#4f3b3b" stroke-width="0.9" opacity="0.51"/>
<path d="M573.4 781.4 L580.6 818.9" fill="none" stroke="#4f3b3b" stroke-width="0.9" opacity="0.58"/>
<path d="M555.2 803.9 L559.7 820.5" fill="none" stroke="#4f3b3b" stroke-width="0.7" opacity="0.43"/>
<path d="M551 883.7 L555 895.2" fill="none" stroke="#4f3b3b" stroke-width="1" opacity="0.36"/>
<path d="M606.4 762 L607.8 779.8" fill="none" stroke="#4f3b3b" stroke-width="1" opacity="0.48"/>
<path d="M544.2 868.1 L555.4 898.6" fill="none" stroke="#4f3b3b" stroke-width="0.8" opacity="0.59"/>
<path d="M659.8 759.1 L655.8 801.3" fill="none" stroke="#4f3b3b" stroke-width="0.7" opacity="0.31"/>
<path d="M646.5 757.6 L644.2 801.4" fill="none" stroke="#4f3b3b" stroke-width="0.8" opacity="0.41"/>
<path d="M542.8 857.9 L554.3 889.5" fill="none" stroke="#4f3b3b" stroke-width="0.9" opacity="0.47"/>
<path d="M567.3 788.2 L571.2 806.5" fill="none" stroke="#4f3b3b" stroke-width="0.7" opacity="0.40"/>
<path d="M542.5 855.4 L550.3 876.7" fill="none" stroke="#4f3b3b" stroke-width="1.1" opacity="0.50"/>
<path d="M587.7 771 L592.9 808.5" fill="none" stroke="#4f3b3b" stroke-width="0.9" opacity="0.36"/>
<path d="M544.9 831.5 L551.9 852.5" fill="none" stroke="#4f3b3b" stroke-width="0.8" opacity="0.55"/>
<path d="M546.1 872.4 L555.1 897.4" fill="none" stroke="#4f3b3b" stroke-width="1.1" opacity="0.37"/>
<path d="M644.4 757.3 L643.3 782.5" fill="none" stroke="#4f3b3b" stroke-width="1" opacity="0.54"/>
<path d="M648.3 757.8 L645.9 801.2" fill="none" stroke="#4f3b3b" stroke-width="0.6" opacity="0.42"/>
<path d="M627.1 757.5 L627.5 793.2" fill="none" stroke="#4f3b3b" stroke-width="0.9" opacity="0.49"/>
<path d="M546.7 822.4 L555.3 849.4" fill="none" stroke="#4f3b3b" stroke-width="0.8" opacity="0.37"/>
<path d="M567.2 788.3 L574.1 819.9" fill="none" stroke="#4f3b3b" stroke-width="0.7" opacity="0.43"/>
<path d="M647.2 757.6 L645 799.4" fill="none" stroke="#4f3b3b" stroke-width="0.8" opacity="0.43"/>
<path d="M634.5 757.3 L634.2 782.7" fill="none" stroke="#4f3b3b" stroke-width="0.9" opacity="0.47"/>
<path d="M576.3 778.2 L580.9 803.4" fill="none" stroke="#4f3b3b" stroke-width="0.7" opacity="0.54"/>
<path d="M597.5 765.1 L599.5 784.2" fill="none" stroke="#4f3b3b" stroke-width="1.1" opacity="0.34"/>
<path d="M560.6 795.7 L564.8 813" fill="none" stroke="#4f3b3b" stroke-width="0.7" opacity="0.44"/>
<path d="M586.4 771.8 L592.4 813.4" fill="none" stroke="#4f3b3b" stroke-width="1" opacity="0.48"/>
<path d="M542.7 857.4 L553.6 887.1" fill="none" stroke="#4f3b3b" stroke-width="0.6" opacity="0.50"/>
<path d="M642.2 757.2 L641.2 783.6" fill="none" stroke="#4f3b3b" stroke-width="0.8" opacity="0.53"/>
<path d="M553.4 807.8 L560.6 833.6" fill="none" stroke="#4f3b3b" stroke-width="0.8" opacity="0.53"/>
<path d="M627.6 757.5 L628 799.9" fill="none" stroke="#4f3b3b" stroke-width="0.9" opacity="0.47"/>
<path d="M544.7 869.1 L555.3 898.1" fill="none" stroke="#4f3b3b" stroke-width="0.8" opacity="0.54"/>
<path d="M625 757.5 L625.5 783.8" fill="none" stroke="#4f3b3b" stroke-width="0.7" opacity="0.57"/>
<path d="M552.8 887.8 L561.2 912.7" fill="none" stroke="#4f3b3b" stroke-width="0.7" opacity="0.58"/>
<path d="M570.4 784.7 L573.7 800.9" fill="none" stroke="#4f3b3b" stroke-width="1.1" opacity="0.59"/>
<path d="M637.9 757.3 L637.5 774.3" fill="none" stroke="#4f3b3b" stroke-width="0.8" opacity="0.40"/>
<path d="M542.2 847.5 L550.6 870.9" fill="none" stroke="#4f3b3b" stroke-width="1.1" opacity="0.51"/>
<path d="M659.5 759 L655.9 798" fill="none" stroke="#4f3b3b" stroke-width="1.1" opacity="0.53"/>
<path d="M625 757.5 L625.5 784.4" fill="none" stroke="#4f3b3b" stroke-width="0.7" opacity="0.57"/>
<path d="M546.5 823 L556.7 855.1" fill="none" stroke="#4f3b3b" stroke-width="0.6" opacity="0.33"/>
<path d="M581.5 774.7 L588.4 817.1" fill="none" stroke="#4f3b3b" stroke-width="0.6" opacity="0.43"/>
<path d="M619.9 757.9 L621.5 803.1" fill="none" stroke="#4f3b3b" stroke-width="0.7" opacity="0.52"/>
<path d="M635.2 757.3 L634.5 801.7" fill="none" stroke="#4f3b3b" stroke-width="0.9" opacity="0.43"/>
<path d="M628.2 757.5 L628.5 798.5" fill="none" stroke="#4f3b3b" stroke-width="1" opacity="0.37"/>
<path d="M572.9 782 L576.7 801.6" fill="none" stroke="#4f3b3b" stroke-width="0.6" opacity="0.55"/>
<path d="M636.2 757.3 L635.5 797.2" fill="none" stroke="#4f3b3b" stroke-width="0.6" opacity="0.47"/>
<path d="M550.9 883.4 L560.3 910.7" fill="none" stroke="#4f3b3b" stroke-width="0.6" opacity="0.59"/>
<path d="M625.4 757.5 L626 797.4" fill="none" stroke="#4f3b3b" stroke-width="0.6" opacity="0.46"/>
<path d="M550.9 883.3 L558.6 905.6" fill="none" stroke="#4f3b3b" stroke-width="1" opacity="0.44"/>
<path d="M658.3 758.9 L656.4 779.9" fill="none" stroke="#4f3b3b" stroke-width="1" opacity="0.45"/>
<path d="M544 867.6 L555.2 898.1" fill="none" stroke="#4f3b3b" stroke-width="0.9" opacity="0.49"/>
<path d="M552.1 810.5 L557.9 830.6" fill="none" stroke="#4f3b3b" stroke-width="0.8" opacity="0.52"/>
<path d="M543 859.8 L553.7 888.9" fill="none" stroke="#4f3b3b" stroke-width="0.8" opacity="0.57"/>
<path d="M659.7 759.1 L656 798.2" fill="none" stroke="#4f3b3b" stroke-width="0.7" opacity="0.40"/>
<path d="M603 763 L605 785.4" fill="none" stroke="#4f3b3b" stroke-width="1" opacity="0.32"/>
<path d="M589.4 770 L593.1 797.6" fill="none" stroke="#4f3b3b" stroke-width="0.7" opacity="0.34"/>
<path d="M590.7 769.2 L592.8 786" fill="none" stroke="#4f3b3b" stroke-width="0.9" opacity="0.53"/>
<path d="M541.9 850.9 L547.1 865.2" fill="none" stroke="#4f3b3b" stroke-width="0.9" opacity="0.31"/>
<path d="M581.2 774.9 L584.6 795.5" fill="none" stroke="#4f3b3b" stroke-width="0.9" opacity="0.52"/>
<path d="M565.3 790.4 L570.7 814.5" fill="none" stroke="#4f3b3b" stroke-width="0.8" opacity="0.44"/>
<path d="M648.5 757.8 L646.9 784.8" fill="none" stroke="#4f3b3b" stroke-width="0.9" opacity="0.30"/>
<path d="M543 859.8 L548.2 873.8" fill="none" stroke="#4f3b3b" stroke-width="0.7" opacity="0.50"/>
<path d="M596.6 765.6 L599.1 788.5" fill="none" stroke="#4f3b3b" stroke-width="0.7" opacity="0.57"/>
<path d="M546.3 872.9 L554.4 895.4" fill="none" stroke="#4f3b3b" stroke-width="0.7" opacity="0.33"/>
<path d="M583.3 773.6 L587.2 798.6" fill="none" stroke="#4f3b3b" stroke-width="1.1" opacity="0.46"/>
<path d="M574.6 780.1 L582 819.9" fill="none" stroke="#4f3b3b" stroke-width="1.1" opacity="0.34"/>
<path d="M659.2 759 L657.7 776" fill="none" stroke="#4f3b3b" stroke-width="0.8" opacity="0.37"/>
<path d="M545.4 828.5 L550.3 843.6" fill="none" stroke="#4f3b3b" stroke-width="0.6" opacity="0.36"/>
<path d="M617.5 758.7 L619 796.1" fill="none" stroke="#4f3b3b" stroke-width="0.7" opacity="0.39"/>
<path d="M542.9 858.5 L549.2 875.7" fill="none" stroke="#4f3b3b" stroke-width="0.9" opacity="0.57"/>
<path d="M542.3 853.9 L551.1 878.1" fill="none" stroke="#4f3b3b" stroke-width="0.8" opacity="0.33"/>
<path d="M639.8 757.2 L638.5 799.7" fill="none" stroke="#4f3b3b" stroke-width="0.9" opacity="0.38"/>
<path d="M552.6 809.6 L560.9 839.1" fill="none" stroke="#4f3b3b" stroke-width="0.8" opacity="0.41"/>
<path d="M543.7 865.4 L552.5 889.2" fill="none" stroke="#4f3b3b" stroke-width="0.9" opacity="0.49"/>
<path d="M652.4 758.2 L650.8 780.9" fill="none" stroke="#4f3b3b" stroke-width="0.9" opacity="0.33"/>
<path d="M561.7 794.4 L570.5 831.2" fill="none" stroke="#4f3b3b" stroke-width="0.8" opacity="0.42"/>
<path d="M572.2 782.7 L575.7 800.6" fill="none" stroke="#4f3b3b" stroke-width="0.6" opacity="0.47"/>
<path d="M554.2 806 L558.6 822" fill="none" stroke="#4f3b3b" stroke-width="1" opacity="0.34"/>
<path d="M545.8 871.7 L552.7 890.7" fill="none" stroke="#4f3b3b" stroke-width="0.8" opacity="0.54"/>
<path d="M567.1 788.4 L571.4 808.1" fill="none" stroke="#4f3b3b" stroke-width="0.7" opacity="0.38"/>
<path d="M657.9 758.9 L655.8 782.5" fill="none" stroke="#4f3b3b" stroke-width="0.7" opacity="0.54"/>
<path d="M543.9 837.6 L553 864.1" fill="none" stroke="#4f3b3b" stroke-width="1" opacity="0.57"/>
<path d="M543.5 863.7 L552.3 887.7" fill="none" stroke="#4f3b3b" stroke-width="0.9" opacity="0.57"/>
</g>
<clipPath id="hps"><path d="M750.9 551.1C750.2 551.3 747.1 551.1 745.9 553.9C744.7 556.7 742 569.4 740.3 574.8C738.7 580.1 734.3 593.8 732 599.8C729.7 605.8 723.3 620.6 720.9 626.2C718.4 631.9 715.4 640 711.1 648.5C706.8 657 688.5 690 684 699.2C679.5 708.4 675.1 721.5 672.8 727.2C670.5 732.9 666.4 740.7 664.4 748C662.4 755.3 657.8 780.2 656 790C654.2 799.8 650.5 822.2 649 832C647.5 841.8 644.4 864.2 643.4 874C642.4 883.8 640.9 908.3 640.6 916C640.3 923.7 640.6 933.4 640.8 940C641 946.6 642.1 965.3 642.1 973C642.2 980.7 641.6 998.3 641.3 1006C640.9 1013.7 640.1 1032.3 639.1 1039C638 1045.7 634.4 1058.3 632 1063.2C629.7 1068.1 622.1 1077.1 618.8 1080.8C615.5 1084.5 605.4 1089 603.4 1095.1C601.4 1101.2 601.7 1129.5 601.9 1133.3C602 1137.2 603.5 1130.1 604.9 1128C606.3 1125.9 611.5 1118.9 613.8 1115.6C616.1 1112.2 620.5 1105.7 624.4 1099.6C628.3 1093.4 643.1 1070 647.2 1063.2C651.3 1056.4 656.4 1047.2 659.2 1041.6C662 1036 668.7 1021.1 671.2 1015.2C673.7 1009.3 678.6 997.6 680.8 991.2C683 984.8 688.4 967.8 690.4 960C692.4 952.2 696.4 929.1 697.6 924C698.8 918.9 699.5 920.2 700.8 916C702.2 911.8 707.3 894.6 709.2 888C711.2 881.5 715.3 866.6 717.6 860C719.9 853.5 726.2 838.5 728.8 832C731.4 825.5 737.3 810.1 740 804C742.7 797.9 751.8 783.2 751.8 779.9C751.8 776.7 742.2 778.1 740 776C737.9 773.9 733.9 766.6 733.3 762C732.6 757.4 733.4 740.9 734.4 736.8C735.5 732.7 740 730.6 742.3 727.2C744.5 723.9 753.5 710.1 754 708.3C754.5 706.4 748.4 711.4 746.6 711.3C744.8 711.3 740 709.3 738.7 708C737.3 706.7 735.3 702.5 735 699.9C734.8 697.4 735.7 689.3 736.4 686C737.2 682.8 740.4 675 741.7 672.1C743.1 669.2 746.5 662.9 748 661C749.4 659.1 752.7 656.9 754.2 655.4C755.8 653.9 761.3 648.7 761.2 648.2C761.1 647.7 755.4 650.7 753.5 651.3C751.7 651.8 747 653.3 745.6 652.9C744.2 652.5 742.2 649.6 741.7 647.8C741.2 646 741 640.2 741.4 637.4C741.9 634.5 744.1 626.3 745.2 623.4C746.3 620.6 749.5 614.4 750.8 612.6C752 610.8 754.5 609.4 755.6 608.2C756.8 606.9 760.6 601.8 760.5 601.5C760.4 601.1 756.4 604.7 754.9 605.4C753.5 606 749.2 607.4 748 607C746.8 606.7 745.3 604.1 744.8 602.6C744.3 601.1 743.9 596.7 743.9 594.2C744 591.8 745.1 584.8 745.6 581.7C746.1 578.6 747.3 571.2 748 567.8C748.7 564.4 751.4 554.5 751.7 552.5C752.1 550.6 751.6 551 750.9 551.1Z"/></clipPath>
<g clip-path="url(#hps)">
<rect x="590" y="540" width="170" height="580" fill="url(#gps)"/>
<g filter="url(#soft4)"><path d="M751.2 576C749.4 576 743.3 599.3 740 612.4C736.7 625.5 734.9 639.9 731.6 654.4C728.3 668.9 722.3 683.6 720.4 699.2C718.5 714.8 721.8 732.4 720.4 748C719 763.6 715.3 777.9 712 792.8C708.7 807.7 698.9 829.7 700.8 837.6C702.7 845.5 717.6 847.9 723.2 840.4C728.8 832.9 731.6 808.2 734.4 792.8C737.2 777.4 739.1 763.6 740 748C741 732.4 739.1 714.8 740 699.2C741 683.6 743.8 668.9 745.6 654.4C747.5 639.9 750.3 625.5 751.2 612.4C752.2 599.3 753.1 576 751.2 576Z" fill="#9c5f58" opacity="0.55"/></g>
<path d="M750.9 551.2C749.5 553.7 746.1 557.6 742.7 566.5C739.2 575.5 735 592 730.2 604.9C725.4 617.8 722 626.4 713.7 643.8C705.5 661.2 688.8 692.1 680.7 709.3C672.7 726.5 670.2 730 665.5 747.1C660.9 764.2 656.6 789.9 652.9 811.7C649.3 833.5 645.6 857.7 643.6 877.7C641.7 897.8 641.4 914.9 641.1 932.2C640.9 949.5 642.4 964.6 642.2 981.5C641.9 998.4 642.1 1018.8 639.5 1033.7C636.9 1048.5 632.6 1060.3 626.6 1070.6C620.6 1080.9 607.3 1091.1 603.4 1095.2" fill="none" stroke="#9a5650" stroke-width="1" opacity="0.20"/>
<path d="M751 551.3C749.6 554 746.1 558.2 742.6 567.4C739.2 576.6 735.1 593.3 730.3 606.4C725.6 619.4 722.2 628.1 714.1 645.5C706 663 689.6 693.6 681.7 710.8C673.7 728 671.1 731.7 666.4 748.8C661.7 765.8 657.4 791.6 653.7 813.1C650.1 834.7 646.5 858.3 644.5 878.2C642.5 898.1 642.2 915.4 641.9 932.7C641.6 950 643 965 642.7 981.9C642.3 998.8 642.4 1019.2 639.7 1034C637.1 1048.8 632.8 1060.5 626.8 1070.7C620.7 1080.9 607.3 1091.3 603.4 1095.4" fill="none" stroke="#a8645a" stroke-width="1.2" opacity="0.38"/>
<path d="M751 551.4C749.6 554.2 746.1 558.9 742.6 568.3C739.2 577.7 735.1 594.6 730.4 607.8C725.7 621 722.4 629.9 714.4 647.3C706.5 664.7 690.5 695.1 682.6 712.3C674.7 729.5 671.9 733.4 667.3 750.4C662.6 767.5 658.2 793.2 654.6 814.6C650.9 835.9 647.4 858.9 645.4 878.6C643.4 898.4 643.1 915.8 642.7 933.1C642.3 950.4 643.6 965.5 643.2 982.3C642.7 999.2 642.7 1019.5 640 1034.2C637.3 1049 633.1 1060.6 627 1070.8C620.9 1081 607.4 1091.5 603.4 1095.6" fill="none" stroke="#a8645a" stroke-width="0.6" opacity="0.32"/>
<path d="M751 551.6C749.6 554.5 746.1 559.5 742.6 569.1C739.2 578.8 735.2 595.9 730.6 609.3C725.9 622.6 722.6 631.6 714.8 649.1C706.9 666.5 691.3 696.6 683.5 713.8C675.8 731 672.8 735.1 668.1 752.1C663.4 769.1 659 794.8 655.4 816C651.7 837.1 648.3 859.5 646.3 879.1C644.3 898.7 643.9 916.3 643.5 933.5C643 950.8 644.2 965.9 643.6 982.8C643.1 999.6 642.9 1019.9 640.2 1034.5C637.4 1049.2 633.3 1060.7 627.1 1070.9C621 1081.1 607.4 1091.6 603.4 1095.8" fill="none" stroke="#d496ac" stroke-width="1.2" opacity="0.38"/>
<path d="M751.1 551.7C749.7 554.7 746 560.2 742.6 570C739.2 579.9 735.3 597.2 730.7 610.7C726.1 624.2 722.8 633.4 715.1 650.8C707.4 668.2 692.2 698.1 684.5 715.3C676.8 732.4 673.7 736.8 669 753.8C664.3 770.8 659.8 796.5 656.2 817.4C652.6 838.4 649.2 860.1 647.2 879.5C645.2 898.9 644.7 916.7 644.2 934C643.7 951.3 644.8 966.4 644.1 983.2C643.5 1000 643.2 1020.2 640.4 1034.8C637.6 1049.5 633.5 1060.8 627.3 1071C621.2 1081.2 607.4 1091.8 603.4 1096" fill="none" stroke="#c0806a" stroke-width="1" opacity="0.41"/>
<path d="M751.1 551.8C749.7 555 746 560.8 742.6 570.9C739.2 581 735.3 598.5 730.8 612.1C726.3 625.7 723 635.1 715.5 652.6C707.9 670 693 699.6 685.4 716.8C677.8 733.9 674.6 738.4 669.9 755.4C665.1 772.5 660.6 798.1 657 818.8C653.4 839.6 650.1 860.7 648.1 880C646.1 899.2 645.6 917.1 645 934.4C644.4 951.7 645.4 966.9 644.6 983.7C643.9 1000.4 643.5 1020.6 640.6 1035.1C637.7 1049.7 633.7 1060.9 627.5 1071.1C621.3 1081.3 607.5 1092 603.4 1096.2" fill="none" stroke="#f3dccf" stroke-width="1.2" opacity="0.38"/>
<path d="M751.2 551.9C749.7 555.3 746 561.5 742.6 571.8C739.3 582.1 735.4 599.8 730.9 613.6C726.5 627.3 723.3 636.9 715.8 654.3C708.4 671.8 693.9 701.1 686.3 718.3C678.8 735.4 675.5 740.1 670.7 757.1C666 774.1 661.5 799.7 657.8 820.3C654.2 840.8 651 861.3 649 880.4C647 899.5 646.4 917.6 645.8 934.9C645.1 952.1 646 967.3 645.1 984.1C644.3 1000.9 643.7 1020.9 640.8 1035.4C637.9 1049.9 633.9 1061 627.7 1071.2C621.5 1081.4 607.5 1092.2 603.5 1096.3" fill="none" stroke="#a8645a" stroke-width="0.7" opacity="0.34"/>
<path d="M751.2 552.1C749.8 555.5 746 562.2 742.6 572.7C739.3 583.1 735.5 601.1 731 615C726.6 628.9 723.5 638.6 716.2 656.1C708.9 673.5 694.7 702.6 687.3 719.7C679.8 736.9 676.4 741.8 671.6 758.8C666.8 775.8 662.3 801.3 658.7 821.7C655 842 651.9 861.9 649.9 880.9C647.9 899.8 647.3 918 646.6 935.3C645.9 952.6 646.5 967.8 645.6 984.5C644.7 1001.3 644 1021.3 641 1035.7C638.1 1050.2 634.1 1061.2 627.9 1071.3C621.6 1081.4 607.5 1092.3 603.5 1096.5" fill="none" stroke="#f3dccf" stroke-width="1.4" opacity="0.40"/>
<path d="M751.2 552.2C749.8 555.8 746 562.8 742.6 573.5C739.3 584.2 735.5 602.4 731.2 616.5C726.8 630.5 723.7 640.3 716.5 657.8C709.4 675.3 695.6 704.1 688.2 721.2C680.9 738.3 677.2 743.5 672.5 760.4C667.7 777.4 663.1 803 659.5 823.1C655.9 843.2 652.8 862.5 650.8 881.3C648.7 900.1 648.1 918.4 647.3 935.7C646.6 953 647.1 968.3 646.1 985C645.1 1001.7 644.3 1021.6 641.3 1036C638.2 1050.4 634.3 1061.3 628 1071.4C621.7 1081.5 607.6 1092.5 603.5 1096.7" fill="none" stroke="#f6e4da" stroke-width="0.7" opacity="0.43"/>
<path d="M751.3 552.3C749.8 556 746 563.5 742.6 574.4C739.3 585.3 735.6 603.7 731.3 617.9C727 632.1 723.9 642.1 716.9 659.6C709.8 677 696.4 705.6 689.1 722.7C681.9 739.8 678.1 745.2 673.3 762.1C668.5 779.1 663.9 804.6 660.3 824.5C656.7 844.5 653.7 863.1 651.7 881.7C649.6 900.4 649 918.9 648.1 936.2C647.3 953.4 647.7 968.7 646.6 985.4C645.5 1002.1 644.5 1022 641.5 1036.3C638.4 1050.7 634.6 1061.4 628.2 1071.5C621.9 1081.6 607.6 1092.7 603.5 1096.9" fill="none" stroke="#f6e4da" stroke-width="1" opacity="0.29"/>
<path d="M751.3 552.5C749.9 556.3 745.9 564.1 742.6 575.3C739.3 586.4 735.6 605 731.4 619.3C727.2 633.7 724.1 643.8 717.2 661.3C710.3 678.8 697.2 707.1 690.1 724.2C682.9 741.3 679 746.8 674.2 763.8C669.4 780.7 664.7 806.2 661.1 825.9C657.5 845.7 654.6 863.7 652.5 882.2C650.5 900.6 649.8 919.3 648.9 936.6C648 953.9 648.3 969.2 647.1 985.8C645.9 1002.5 644.8 1022.3 641.7 1036.6C638.6 1050.9 634.8 1061.5 628.4 1071.6C622 1081.7 607.6 1092.9 603.5 1097.1" fill="none" stroke="#9a5650" stroke-width="1" opacity="0.47"/>
<path d="M751.4 552.6C749.9 556.5 745.9 564.8 742.6 576.2C739.3 587.5 735.7 606.3 731.5 620.8C727.4 635.3 724.3 645.6 717.6 663.1C710.8 680.5 698.1 708.6 691 725.7C683.9 742.8 679.9 748.5 675 765.5C670.2 782.4 665.5 807.8 661.9 827.4C658.3 846.9 655.5 864.4 653.4 882.6C651.4 900.9 650.6 919.8 649.7 937C648.7 954.3 648.9 969.6 647.6 986.3C646.3 1002.9 645.1 1022.7 641.9 1036.9C638.7 1051.1 635 1061.6 628.6 1071.7C622.2 1081.8 607.7 1093 603.5 1097.3" fill="none" stroke="#cf9a78" stroke-width="0.9" opacity="0.40"/>
<path d="M751.4 552.7C749.9 556.8 745.9 565.5 742.6 577C739.3 588.6 735.8 607.6 731.7 622.2C727.5 636.8 724.5 647.3 717.9 664.8C711.3 682.3 698.9 710.1 691.9 727.2C684.9 744.3 680.8 750.2 675.9 767.1C671 784.1 666.4 809.5 662.8 828.8C659.2 848.1 656.4 865 654.3 883.1C652.3 901.2 651.5 920.2 650.4 937.5C649.4 954.7 649.5 970.1 648.1 986.7C646.7 1003.3 645.3 1023 642.1 1037.2C638.9 1051.4 635.2 1061.8 628.8 1071.8C622.3 1081.8 607.7 1093.2 603.5 1097.5" fill="none" stroke="#f6e4da" stroke-width="0.9" opacity="0.38"/>
<path d="M751.4 552.8C750 557 745.9 566.1 742.6 577.9C739.3 589.7 735.8 608.9 731.8 623.7C727.7 638.4 724.7 649.1 718.3 666.6C711.8 684.1 699.8 711.7 692.9 728.7C686 745.7 681.7 751.9 676.8 768.8C671.9 785.7 667.2 811.1 663.6 830.2C660 849.3 657.3 865.6 655.2 883.5C653.2 901.5 652.3 920.6 651.2 937.9C650.1 955.2 650.1 970.6 648.6 987.1C647.1 1003.7 645.6 1023.4 642.3 1037.5C639.1 1051.6 635.4 1061.9 628.9 1071.9C622.5 1081.9 607.7 1093.4 603.5 1097.7" fill="none" stroke="#cf9a78" stroke-width="0.7" opacity="0.31"/>
<path d="M751.5 553C750 557.3 745.9 566.8 742.6 578.8C739.3 590.8 735.9 610.2 731.9 625.1C727.9 640 725 650.8 718.6 668.3C712.3 685.8 700.6 713.2 693.8 730.2C687 747.2 682.5 753.5 677.6 770.5C672.7 787.4 668 812.7 664.4 831.6C660.8 850.5 658.2 866.2 656.1 884C654 901.8 653.2 921.1 652 938.3C650.8 955.6 650.7 971 649.1 987.6C647.5 1004.2 645.9 1023.7 642.5 1037.8C639.2 1051.9 635.6 1062 629.1 1072C622.6 1082 607.8 1093.5 603.5 1097.9" fill="none" stroke="#f3dccf" stroke-width="1.1" opacity="0.33"/>
<path d="M751.5 553.1C750 557.5 745.9 567.4 742.6 579.7C739.4 591.9 736 611.5 732 626.5C728.1 641.6 725.2 652.5 719 670.1C712.7 687.6 701.5 714.7 694.7 731.7C688 748.7 683.4 755.2 678.5 772.1C673.6 789 668.8 814.3 665.2 833.1C661.6 851.8 659.1 866.8 657 884.4C654.9 902 654 921.5 652.8 938.8C651.5 956.1 651.3 971.5 649.6 988C647.9 1004.6 646.1 1024.1 642.8 1038.1C639.4 1052.1 635.9 1062.1 629.3 1072.1C622.8 1082.1 607.8 1093.7 603.5 1098" fill="none" stroke="#d496ac" stroke-width="0.7" opacity="0.24"/>
<path d="M751.6 553.2C750.1 557.8 745.8 568.1 742.6 580.6C739.4 593 736 612.8 732.1 628C728.3 643.2 725.4 654.3 719.3 671.8C713.2 689.3 702.3 716.2 695.7 733.2C689 750.2 684.3 756.9 679.4 773.8C674.4 790.7 669.6 816 666 834.5C662.5 853 660 867.4 657.9 884.9C655.8 902.3 654.8 922 653.5 939.2C652.2 956.5 651.8 971.9 650.1 988.5C648.3 1005 646.4 1024.4 643 1038.4C639.5 1052.3 636.1 1062.2 629.5 1072.2C622.9 1082.2 607.9 1093.9 603.5 1098.2" fill="none" stroke="#cf9a78" stroke-width="0.7" opacity="0.35"/>
<path d="M751.6 553.3C750.1 558 745.8 568.7 742.6 581.4C739.4 594.1 736.1 614.1 732.3 629.4C728.4 644.8 725.6 656 719.6 673.6C713.7 691.1 703.2 717.7 696.6 734.7C690 751.6 685.2 758.6 680.2 775.5C675.3 792.3 670.4 817.6 666.9 835.9C663.3 854.2 660.9 868 658.8 885.3C656.7 902.6 655.7 922.4 654.3 939.7C653 956.9 652.4 972.4 650.6 988.9C648.7 1005.4 646.7 1024.8 643.2 1038.7C639.7 1052.6 636.3 1062.3 629.7 1072.3C623.1 1082.3 607.9 1094.1 603.5 1098.4" fill="none" stroke="#9a5650" stroke-width="1.3" opacity="0.24"/>
<path d="M751.6 553.5C750.1 558.3 745.8 569.4 742.6 582.3C739.4 595.2 736.2 615.4 732.4 630.9C728.6 646.4 725.8 657.8 720 675.3C714.2 692.9 704 719.2 697.5 736.1C691.1 753.1 686.1 760.3 681.1 777.1C676.1 794 671.3 819.2 667.7 837.3C664.1 855.4 661.8 868.6 659.7 885.8C657.6 902.9 656.5 922.8 655.1 940.1C653.7 957.4 653 972.9 651.1 989.3C649.1 1005.8 646.9 1025.1 643.4 1039C639.9 1052.8 636.5 1062.5 629.9 1072.4C623.2 1082.3 607.9 1094.2 603.5 1098.6" fill="none" stroke="#f6e4da" stroke-width="1.1" opacity="0.35"/>
<path d="M751.7 553.6C750.2 558.5 745.8 570.1 742.6 583.2C739.4 596.3 736.2 616.7 732.5 632.3C728.8 648 726 659.5 720.3 677.1C714.7 694.6 704.9 720.7 698.5 737.6C692.1 754.6 687 761.9 682 778.8C677 795.6 672.1 820.8 668.5 838.7C664.9 856.6 662.7 869.2 660.6 886.2C658.5 903.2 657.4 923.3 655.9 940.5C654.4 957.8 653.6 973.3 651.6 989.8C649.5 1006.2 647.2 1025.5 643.6 1039.3C640 1053.1 636.7 1062.6 630 1072.5C623.4 1082.4 608 1094.4 603.5 1098.8" fill="none" stroke="#c0806a" stroke-width="1" opacity="0.40"/>
<path d="M751.7 553.7C750.2 558.8 745.8 570.7 742.6 584.1C739.4 597.4 736.3 618 732.6 633.7C729 649.5 726.2 661.3 720.7 678.8C715.2 696.4 705.7 722.2 699.4 739.1C693.1 756.1 687.8 763.6 682.8 780.5C677.8 797.3 672.9 822.5 669.3 840.2C665.8 857.9 663.6 869.8 661.5 886.6C659.4 903.4 658.2 923.7 656.6 941C655.1 958.2 654.2 973.8 652.1 990.2C649.9 1006.6 647.5 1025.8 643.8 1039.6C640.2 1053.3 636.9 1062.7 630.2 1072.6C623.5 1082.5 608 1094.6 603.6 1099" fill="none" stroke="#d496ac" stroke-width="1" opacity="0.28"/>
<path d="M751.8 553.8C750.2 559 745.8 571.4 742.6 584.9C739.4 598.5 736.3 619.2 732.7 635.2C729.2 651.1 726.4 663 721 680.6C715.6 698.1 706.6 723.7 700.3 740.6C694.1 757.5 688.7 765.3 683.7 782.1C678.7 799 673.7 824.1 670.1 841.6C666.6 859.1 664.5 870.4 662.4 887.1C660.2 903.7 659.1 924.2 657.4 941.4C655.8 958.7 654.8 974.2 652.6 990.6C650.3 1007 647.7 1026.2 644 1039.9C640.4 1053.5 637.1 1062.8 630.4 1072.7C623.6 1082.6 608 1094.8 603.6 1099.2" fill="none" stroke="#9a5650" stroke-width="0.8" opacity="0.23"/>
<path d="M751.8 554C750.3 559.3 745.7 572 742.6 585.8C739.4 599.6 736.4 620.5 732.9 636.6C729.3 652.7 726.7 664.7 721.4 682.3C716.1 699.9 707.4 725.2 701.3 742.1C695.1 759 689.6 767 684.6 783.8C679.5 800.6 674.5 825.7 671 843C667.4 860.3 665.4 871.1 663.3 887.5C661.1 904 659.9 924.6 658.2 941.8C656.5 959.1 655.4 974.7 653.1 991.1C650.7 1007.5 648 1026.5 644.3 1040.2C640.5 1053.8 637.4 1062.9 630.6 1072.8C623.8 1082.7 608.1 1094.9 603.6 1099.4" fill="none" stroke="#f6e4da" stroke-width="0.9" opacity="0.45"/>
<path d="M751.8 554.1C750.3 559.5 745.7 572.7 742.6 586.7C739.4 600.7 736.5 621.8 733 638.1C729.5 654.3 726.9 666.5 721.7 684.1C716.6 701.7 708.3 726.7 702.2 743.6C696.2 760.5 690.5 768.7 685.4 785.5C680.3 802.3 675.3 827.3 671.8 844.4C668.2 861.5 666.3 871.7 664.1 888C662 904.3 660.7 925 659 942.3C657.2 959.5 656 975.2 653.5 991.5C651.1 1007.9 648.3 1026.9 644.5 1040.4C640.7 1054 637.6 1063.1 630.8 1072.9C623.9 1082.8 608.1 1095.1 603.6 1099.6" fill="none" stroke="#f6e4da" stroke-width="1" opacity="0.41"/>
<path d="M751.9 554.2C750.3 559.8 745.7 573.4 742.6 587.6C739.5 601.8 736.5 623.1 733.1 639.5C729.7 655.9 727.1 668.2 722.1 685.8C717.1 703.4 709.1 728.2 703.1 745.1C697.2 762 691.4 770.3 686.3 787.1C681.2 803.9 676.1 829 672.6 845.9C669.1 862.7 667.2 872.3 665 888.4C662.9 904.6 661.6 925.5 659.8 942.7C657.9 960 656.6 975.6 654 992C651.5 1008.3 648.5 1027.2 644.7 1040.7C640.8 1054.2 637.8 1063.2 630.9 1073C624.1 1082.8 608.1 1095.3 603.6 1099.7" fill="none" stroke="#f3dccf" stroke-width="1.4" opacity="0.23"/>
<path d="M751.9 554.3C750.4 560 745.7 574 742.6 588.4C739.5 602.9 736.6 624.4 733.2 641C729.9 657.5 727.3 670 722.4 687.6C717.6 705.2 710 729.7 704.1 746.6C698.2 763.5 692.3 772 687.1 788.8C682 805.6 677 830.6 673.4 847.3C669.9 864 668.1 872.9 665.9 888.9C663.8 904.8 662.4 925.9 660.5 943.2C658.6 960.4 657.1 976.1 654.5 992.4C651.9 1008.7 648.8 1027.6 644.9 1041C641 1054.5 638 1063.3 631.1 1073.1C624.2 1082.9 608.2 1095.5 603.6 1099.9" fill="none" stroke="#f3dccf" stroke-width="0.9" opacity="0.23"/>
<path d="M752 554.5C750.4 560.3 745.7 574.7 742.6 589.3C739.5 604 736.7 625.7 733.4 642.4C730.1 659.1 727.5 671.7 722.8 689.3C718.1 706.9 710.8 731.2 705 748.1C699.2 764.9 693.1 773.7 688 790.5C682.9 807.2 677.8 832.2 674.2 848.7C670.7 865.2 669 873.5 666.8 889.3C664.7 905.1 663.3 926.3 661.3 943.6C659.3 960.9 657.7 976.5 655 992.8C652.3 1009.1 649.1 1027.9 645.1 1041.3C641.2 1054.7 638.2 1063.4 631.3 1073.2C624.4 1083 608.2 1095.6 603.6 1100.1" fill="none" stroke="#f6e4da" stroke-width="1.3" opacity="0.37"/>
<path d="M752 554.6C750.4 560.5 745.7 575.3 742.6 590.2C739.5 605.1 736.7 627 733.5 643.8C730.2 660.6 727.7 673.5 723.1 691.1C718.5 708.7 711.7 732.7 705.9 749.6C700.2 766.4 694 775.4 688.9 792.1C683.7 808.9 678.6 833.8 675.1 850.1C671.5 866.4 669.9 874.1 667.7 889.8C665.6 905.4 664.1 926.8 662.1 944C660 961.3 658.3 977 655.5 993.3C652.7 1009.5 649.4 1028.3 645.3 1041.6C641.3 1055 638.4 1063.5 631.5 1073.3C624.5 1083.1 608.2 1095.8 603.6 1100.3" fill="none" stroke="#a8645a" stroke-width="1.2" opacity="0.36"/>
<path d="M752 554.7C750.5 560.8 745.6 576 742.6 591.1C739.5 606.2 736.8 628.3 733.6 645.3C730.4 662.2 727.9 675.2 723.5 692.8C719 710.5 712.5 734.2 706.9 751.1C701.3 767.9 694.9 777.1 689.7 793.8C684.6 810.6 679.4 835.5 675.9 851.5C672.4 867.6 670.8 874.7 668.6 890.2C666.4 905.7 665 927.2 662.9 944.5C660.8 961.7 658.9 977.5 656 993.7C653.1 1009.9 649.6 1028.6 645.6 1041.9C641.5 1055.2 638.6 1063.6 631.7 1073.4C624.7 1083.2 608.3 1096 603.6 1100.5" fill="none" stroke="#c07a96" stroke-width="1.1" opacity="0.42"/>
<path d="M752.1 554.9C750.5 561 745.6 576.6 742.6 592C739.5 607.3 736.8 629.6 733.7 646.7C730.6 663.8 728.1 676.9 723.8 694.6C719.5 712.2 713.3 735.7 707.8 752.6C702.3 769.4 695.8 778.7 690.6 795.5C685.4 812.2 680.2 837.1 676.7 853C673.2 868.8 671.7 875.3 669.5 890.6C667.3 906 665.8 927.7 663.6 944.9C661.5 962.2 659.5 977.9 656.5 994.1C653.5 1010.4 649.9 1029 645.8 1042.2C641.7 1055.4 638.9 1063.8 631.8 1073.5C624.8 1083.3 608.3 1096.2 603.6 1100.7" fill="none" stroke="#f6e4da" stroke-width="0.7" opacity="0.46"/>
<path d="M752.1 555C750.5 561.3 745.6 577.3 742.6 592.8C739.5 608.4 736.9 630.9 733.8 648.2C730.8 665.4 728.3 678.7 724.2 696.3C720 714 714.2 737.2 708.7 754C703.3 770.8 696.7 780.4 691.5 797.1C686.3 813.9 681 838.7 677.5 854.4C674 870 672.6 875.9 670.4 891.1C668.2 906.3 666.6 928.1 664.4 945.3C662.2 962.6 660.1 978.4 657 994.6C653.9 1010.8 650.2 1029.3 646 1042.5C641.8 1055.7 639.1 1063.9 632 1073.6C625 1083.3 608.4 1096.3 603.6 1100.9" fill="none" stroke="#f3dccf" stroke-width="0.8" opacity="0.29"/>
<path d="M752.2 555.1C750.6 561.5 745.6 578 742.6 593.7C739.5 609.5 737 632.2 734 649.6C731 667 728.6 680.4 724.5 698.1C720.5 715.7 715 738.8 709.7 755.5C704.3 772.3 697.6 782.1 692.3 798.8C687.1 815.5 681.9 840.4 678.3 855.8C674.8 871.3 673.5 876.5 671.3 891.5C669.1 906.5 667.5 928.5 665.2 945.8C662.9 963 660.7 978.8 657.5 995C654.3 1011.2 650.4 1029.7 646.2 1042.8C642 1055.9 639.3 1064 632.2 1073.7C625.1 1083.4 608.4 1096.5 603.6 1101.1" fill="none" stroke="#9a5650" stroke-width="0.9" opacity="0.46"/>
<path d="M752.2 555.2C750.6 561.8 745.6 578.6 742.6 594.6C739.5 610.6 737 633.5 734.1 651C731.1 668.6 728.8 682.2 724.9 699.8C721 717.5 715.9 740.3 710.6 757C705.3 773.8 698.4 783.8 693.2 800.5C688 817.2 682.7 842 679.2 857.2C675.7 872.5 674.4 877.1 672.2 892C670 906.8 668.3 929 666 946.2C663.6 963.5 661.3 979.3 658 995.4C654.7 1011.6 650.7 1030 646.4 1043.1C642.1 1056.2 639.5 1064.1 632.4 1073.8C625.2 1083.5 608.4 1096.7 603.6 1101.3" fill="none" stroke="#f3dccf" stroke-width="0.7" opacity="0.22"/>
<path d="M752.2 555.4C750.6 562 745.6 579.3 742.6 595.5C739.5 611.6 737.1 634.8 734.2 652.5C731.3 670.2 729 683.9 725.2 701.6C721.4 719.3 716.7 741.8 711.5 758.5C706.4 775.3 699.3 785.5 694.1 802.1C688.8 818.8 683.5 843.6 680 858.6C676.5 873.7 675.3 877.8 673.1 892.4C670.9 907.1 669.2 929.4 666.7 946.7C664.3 963.9 661.9 979.8 658.5 995.9C655.1 1012 651 1030.4 646.6 1043.4C642.3 1056.4 639.7 1064.2 632.6 1073.9C625.4 1083.6 608.5 1096.9 603.6 1101.4" fill="none" stroke="#a8645a" stroke-width="1.4" opacity="0.44"/>
<path d="M752.3 555.5C750.7 562.3 745.5 579.9 742.6 596.3C739.6 612.7 737.2 636.1 734.3 653.9C731.5 671.8 729.2 685.7 725.6 703.3C721.9 721 717.6 743.3 712.5 760C707.4 776.8 700.2 787.1 694.9 803.8C689.6 820.5 684.3 845.2 680.8 860.1C677.3 874.9 676.2 878.4 674 892.9C671.8 907.4 670 929.9 667.5 947.1C665 964.3 662.4 980.2 659 996.3C655.6 1012.4 651.2 1030.7 646.8 1043.7C642.5 1056.6 639.9 1064.3 632.7 1074C625.5 1083.7 608.5 1097 603.6 1101.6" fill="none" stroke="#d496ac" stroke-width="0.7" opacity="0.32"/>
<path d="M752.3 555.6C750.7 562.5 745.5 580.6 742.5 597.2C739.6 613.8 737.2 637.4 734.5 655.4C731.7 673.3 729.4 687.4 725.9 705.1C722.4 722.8 718.4 744.8 713.4 761.5C708.4 778.2 701.1 788.8 695.8 805.5C690.5 822.1 685.1 846.9 681.6 861.5C678.1 876.1 677.1 879 674.9 893.3C672.6 907.7 670.8 930.3 668.3 947.5C665.7 964.8 663 980.7 659.5 996.8C656 1012.8 651.5 1031.1 647.1 1044C642.6 1056.9 640.2 1064.5 632.9 1074.1C625.7 1083.7 608.5 1097.2 603.7 1101.8" fill="none" stroke="#c0806a" stroke-width="0.9" opacity="0.48"/>
<path d="M752.4 555.7C750.7 562.8 745.5 581.2 742.5 598.1C739.6 614.9 737.3 638.7 734.6 656.8C731.9 674.9 729.6 689.1 726.3 706.8C722.9 724.5 719.3 746.3 714.3 763C709.4 779.7 702 790.5 696.6 807.1C691.3 823.8 685.9 848.5 682.5 862.9C679 877.4 678 879.6 675.8 893.8C673.5 907.9 671.7 930.7 669.1 948C666.4 965.2 663.6 981.1 660 997.2C656.4 1013.2 651.8 1031.4 647.3 1044.3C642.8 1057.1 640.4 1064.6 633.1 1074.2C625.8 1083.8 608.6 1097.4 603.7 1102" fill="none" stroke="#f6e4da" stroke-width="1.1" opacity="0.40"/>
<path d="M752.4 555.9C750.8 563 745.5 581.9 742.5 599C739.6 616 737.4 640 734.7 658.2C732 676.5 729.8 690.9 726.6 708.6C723.4 726.3 720.1 747.8 715.3 764.5C710.4 781.2 702.8 792.2 697.5 808.8C692.2 825.5 686.7 850.1 683.3 864.3C679.8 878.6 678.9 880.2 676.6 894.2C674.4 908.2 672.5 931.2 669.8 948.4C667.1 965.6 664.2 981.6 660.5 997.6C656.8 1013.7 652 1031.8 647.5 1044.6C643 1057.4 640.6 1064.7 633.3 1074.3C626 1083.9 608.6 1097.6 603.7 1102.2" fill="none" stroke="#9a5650" stroke-width="1.3" opacity="0.48"/>
<path d="M752.4 556C750.8 563.3 745.5 582.6 742.5 599.8C739.6 617.1 737.4 641.3 734.8 659.7C732.2 678.1 730 692.6 726.9 710.3C723.8 728.1 721 749.3 716.2 766C711.5 782.7 703.7 793.9 698.4 810.5C693 827.1 687.6 851.7 684.1 865.8C680.6 879.8 679.8 880.8 677.5 894.7C675.3 908.5 673.4 931.6 670.6 948.8C667.9 966.1 664.8 982.1 661 998.1C657.2 1014.1 652.3 1032.1 647.7 1044.9C643.1 1057.6 640.8 1064.8 633.5 1074.4C626.1 1084 608.6 1097.7 603.7 1102.4" fill="none" stroke="#cf9a78" stroke-width="0.9" opacity="0.25"/>
<path d="M752.5 556.1C750.8 563.5 745.5 583.2 742.5 600.7C739.6 618.2 737.5 642.6 734.9 661.1C732.4 679.7 730.3 694.4 727.3 712.1C724.3 729.8 721.8 750.8 717.1 767.5C712.5 784.1 704.6 795.5 699.2 812.2C693.9 828.8 688.4 853.4 684.9 867.2C681.4 881 680.7 881.4 678.4 895.1C676.2 908.8 674.2 932 671.4 949.3C668.6 966.5 665.4 982.5 661.5 998.5C657.6 1014.5 652.6 1032.5 647.9 1045.2C643.3 1057.8 641 1064.9 633.6 1074.5C626.3 1084.1 608.7 1097.9 603.7 1102.6" fill="none" stroke="#c0806a" stroke-width="0.7" opacity="0.36"/>
<path d="M752.5 556.2C750.9 563.8 745.4 583.9 742.5 601.6C739.6 619.3 737.5 643.9 735.1 662.6C732.6 681.3 730.5 696.1 727.6 713.8C724.8 731.6 722.7 752.3 718.1 769C713.5 785.6 705.5 797.2 700.1 813.8C694.7 830.4 689.2 855 685.7 868.6C682.3 882.2 681.6 882 679.3 895.5C677.1 909.1 675.1 932.5 672.2 949.7C669.3 967 666 983 662 998.9C658 1014.9 652.8 1032.9 648.1 1045.5C643.4 1058.1 641.2 1065.1 633.8 1074.6C626.4 1084.2 608.7 1098.1 603.7 1102.8" fill="none" stroke="#f3dccf" stroke-width="1.1" opacity="0.40"/>
<path d="M752.6 556.4C750.9 564.1 745.4 584.5 742.5 602.5C739.6 620.4 737.6 645.1 735.2 664C732.8 682.9 730.7 697.9 728 715.6C725.3 733.3 723.5 753.8 719 770.5C714.5 787.1 706.4 798.9 701 815.5C695.6 832.1 690 856.6 686.6 870C683.1 883.4 682.5 882.6 680.2 896C677.9 909.3 675.9 932.9 672.9 950.2C670 967.4 666.6 983.4 662.5 999.4C658.4 1015.3 653.1 1033.2 648.4 1045.8C643.6 1058.3 641.4 1065.2 634 1074.7C626.6 1084.2 608.7 1098.3 603.7 1103" fill="none" stroke="#d496ac" stroke-width="0.9" opacity="0.28"/>
<path d="M752.6 556.5C750.9 564.3 745.4 585.2 742.5 603.4C739.6 621.5 737.7 646.4 735.3 665.4C732.9 684.4 730.9 699.6 728.3 717.4C725.8 735.1 724.4 755.3 719.9 771.9C715.5 788.6 707.3 800.6 701.8 817.2C696.4 833.7 690.8 858.2 687.4 871.4C683.9 884.7 683.4 883.2 681.1 896.4C678.8 909.6 676.7 933.4 673.7 950.6C670.7 967.8 667.1 983.9 663 999.8C658.8 1015.7 653.4 1033.6 648.6 1046.1C643.8 1058.6 641.7 1065.3 634.2 1074.8C626.7 1084.3 608.8 1098.4 603.7 1103.2" fill="none" stroke="#cf9a78" stroke-width="1.4" opacity="0.33"/>
<path d="M752.6 556.6C751 564.6 745.4 585.9 742.5 604.2C739.7 622.6 737.7 647.7 735.4 666.9C733.1 686 731.1 701.3 728.7 719.1C726.3 736.9 725.2 756.8 720.9 773.4C716.5 790.1 708.1 802.3 702.7 818.8C697.3 835.4 691.6 859.9 688.2 872.9C684.7 885.9 684.3 883.8 682 896.9C679.7 909.9 677.6 933.8 674.5 951C671.4 968.3 667.7 984.4 663.5 1000.2C659.2 1016.1 653.6 1033.9 648.8 1046.3C643.9 1058.8 641.9 1065.4 634.4 1074.9C626.9 1084.4 608.8 1098.6 603.7 1103.3" fill="none" stroke="#c0806a" stroke-width="1.3" opacity="0.49"/>
<path d="M752.7 556.7C751 564.8 745.4 586.5 742.5 605.1C739.7 623.7 737.8 649 735.5 668.3C733.3 687.6 731.3 703.1 729 720.9C726.7 738.6 726.1 758.3 721.8 774.9C717.6 791.5 709 803.9 703.6 820.5C698.1 837.1 692.5 861.5 689 874.3C685.6 887.1 685.2 884.5 682.9 897.3C680.6 910.2 678.4 934.2 675.3 951.5C672.1 968.7 668.3 984.8 663.9 1000.7C659.6 1016.5 653.9 1034.3 649 1046.6C644.1 1059 642.1 1065.5 634.5 1075C627 1084.5 608.9 1098.8 603.7 1103.5" fill="none" stroke="#c07a96" stroke-width="0.9" opacity="0.39"/>
<path d="M752.7 556.9C751 565.1 745.4 587.2 742.5 606C739.7 624.8 737.9 650.3 735.7 669.8C733.5 689.2 731.5 704.8 729.4 722.6C727.2 740.4 726.9 759.8 722.7 776.4C718.6 793 709.9 805.6 704.4 822.2C698.9 838.7 693.3 863.1 689.8 875.7C686.4 888.3 686.1 885.1 683.8 897.8C681.5 910.5 679.3 934.7 676 951.9C672.8 969.1 668.9 985.3 664.4 1001.1C660 1017 654.2 1034.6 649.2 1046.9C644.3 1059.3 642.3 1065.6 634.7 1075.1C627.1 1084.6 608.9 1099 603.7 1103.7" fill="none" stroke="#c0806a" stroke-width="0.9" opacity="0.44"/>
<path d="M752.8 557C751.1 565.3 745.3 587.8 742.5 606.9C739.7 625.9 737.9 651.6 735.8 671.2C733.7 690.8 731.7 706.6 729.7 724.4C727.7 742.1 727.8 761.3 723.7 777.9C719.6 794.5 710.8 807.3 705.3 823.8C699.8 840.4 694.1 864.7 690.7 877.1C687.2 889.5 687 885.7 684.7 898.2C682.4 910.7 680.1 935.1 676.8 952.3C673.5 969.6 669.5 985.7 664.9 1001.6C660.4 1017.4 654.4 1035 649.4 1047.2C644.4 1059.5 642.5 1065.8 634.9 1075.2C627.3 1084.7 608.9 1099.1 603.7 1103.9" fill="none" stroke="#f3dccf" stroke-width="0.7" opacity="0.22"/>
<path d="M752.8 557.1C751.1 565.6 745.3 588.5 742.5 607.7C739.7 627 738 652.9 735.9 672.6C733.8 692.4 732 708.3 730.1 726.1C728.2 743.9 728.6 762.8 724.6 779.4C720.6 796 711.7 809 706.2 825.5C700.6 842 694.9 866.4 691.5 878.6C688 890.8 687.9 886.3 685.6 898.7C683.3 911 681 935.6 677.6 952.8C674.2 970 670.1 986.2 665.4 1002C660.8 1017.8 654.7 1035.3 649.6 1047.5C644.6 1059.7 642.7 1065.9 635.1 1075.3C627.4 1084.7 609 1099.3 603.7 1104.1" fill="none" stroke="#cf9a78" stroke-width="0.8" opacity="0.37"/>
<path d="M752.8 557.2C751.1 565.8 745.3 589.1 742.5 608.6C739.7 628.1 738 654.2 736 674.1C734 694 732.2 710.1 730.4 727.9C728.7 745.7 729.4 764.3 725.5 780.9C721.6 797.4 712.6 810.6 707 827.2C701.5 843.7 695.7 868 692.3 880C688.9 892 688.8 886.9 686.5 899.1C684.1 911.3 681.8 936 678.4 953.2C675 970.4 670.7 986.7 665.9 1002.4C661.2 1018.2 655 1035.7 649.9 1047.8C644.8 1060 643 1066 635.3 1075.4C627.6 1084.8 609 1099.5 603.7 1104.3" fill="none" stroke="#f6e4da" stroke-width="0.8" opacity="0.42"/>
<path d="M752.9 557.4C751.2 566.1 745.3 589.8 742.5 609.5C739.7 629.2 738.1 655.5 736.2 675.5C734.2 695.5 732.4 711.8 730.8 729.6C729.2 747.4 730.3 765.8 726.5 782.4C722.7 798.9 713.4 812.3 707.9 828.8C702.3 845.3 696.5 869.6 693.1 881.4C689.7 893.2 689.7 887.5 687.4 899.5C685 911.6 682.6 936.4 679.1 953.7C675.7 970.9 671.3 987.1 666.4 1002.9C661.6 1018.6 655.2 1036 650.1 1048.1C644.9 1060.2 643.2 1066.1 635.4 1075.5C627.7 1084.9 609 1099.6 603.8 1104.5" fill="none" stroke="#f6e4da" stroke-width="1" opacity="0.32"/>
<path d="M752.9 557.5C751.2 566.3 745.3 590.5 742.5 610.4C739.7 630.3 738.2 656.8 736.3 677C734.4 697.1 732.6 713.5 731.1 731.4C729.6 749.2 731.1 767.4 727.4 783.9C723.7 800.4 714.3 814 708.7 830.5C703.2 847 697.4 871.2 693.9 882.8C690.5 894.4 690.6 888.1 688.2 900C685.9 911.9 683.5 936.9 679.9 954.1C676.4 971.3 671.9 987.6 666.9 1003.3C662 1019 655.5 1036.4 650.3 1048.4C645.1 1060.5 643.4 1066.2 635.6 1075.6C627.9 1085 609.1 1099.8 603.8 1104.7" fill="none" stroke="#f3dccf" stroke-width="0.7" opacity="0.26"/>
<path d="M753 557.6C751.2 566.6 745.3 591.1 742.5 611.2C739.7 631.4 738.2 658.1 736.4 678.4C734.6 698.7 732.8 715.3 731.5 733.1C730.1 750.9 732 768.9 728.3 785.4C724.7 801.9 715.2 815.7 709.6 832.2C704 848.6 698.2 872.9 694.8 884.2C691.3 895.6 691.5 888.7 689.1 900.4C686.8 912.2 684.3 937.3 680.7 954.5C677.1 971.7 672.4 988 667.4 1003.7C662.4 1019.4 655.8 1036.7 650.5 1048.7C645.2 1060.7 643.6 1066.4 635.8 1075.7C628 1085.1 609.1 1100 603.8 1104.9" fill="none" stroke="#f3dccf" stroke-width="1" opacity="0.27"/>
<path d="M753 557.8C751.2 566.8 745.2 591.8 742.5 612.1C739.8 632.5 738.3 659.4 736.5 679.9C734.7 700.3 733 717 731.8 734.9C730.6 752.7 732.8 770.4 729.3 786.9C725.7 803.4 716.1 817.4 710.5 833.8C704.9 850.3 699 874.5 695.6 885.7C692.2 896.8 692.4 889.3 690 900.9C687.7 912.4 685.2 937.8 681.5 955C677.8 972.2 673 988.5 667.9 1004.2C662.8 1019.9 656 1037.1 650.7 1049C645.4 1060.9 643.8 1066.5 636 1075.8C628.2 1085.2 609.1 1100.2 603.8 1105" fill="none" stroke="#c0806a" stroke-width="0.7" opacity="0.23"/>
<path d="M753 557.9C751.3 567.1 745.2 592.4 742.5 613C739.8 633.6 738.4 660.7 736.6 681.3C734.9 701.9 733.2 718.8 732.2 736.6C731.1 754.5 733.7 771.9 730.2 788.3C726.7 804.8 717 819 711.3 835.5C705.7 852 699.8 876.1 696.4 887.1C693 898.1 693.3 889.9 690.9 901.3C688.6 912.7 686 938.2 682.3 955.4C678.5 972.6 673.6 989 668.4 1004.6C663.2 1020.3 656.3 1037.4 650.9 1049.3C645.6 1061.2 644 1066.6 636.2 1075.9C628.3 1085.2 609.2 1100.3 603.8 1105.2" fill="none" stroke="#cf9a78" stroke-width="0.8" opacity="0.34"/>
<path d="M753.1 558C751.3 567.3 745.2 593.1 742.5 613.9C739.8 634.7 738.4 662 736.8 682.7C735.1 703.5 733.4 720.5 732.5 738.4C731.6 756.2 734.5 773.4 731.1 789.8C727.8 806.3 717.9 820.7 712.2 837.2C706.5 853.6 700.6 877.7 697.2 888.5C693.8 899.3 694.2 890.6 691.8 901.8C689.5 913 686.8 938.6 683 955.8C679.2 973.1 674.2 989.4 668.9 1005.1C663.6 1020.7 656.6 1037.8 651.2 1049.6C645.7 1061.4 644.2 1066.7 636.3 1076C628.5 1085.3 609.2 1100.5 603.8 1105.4" fill="none" stroke="#c07a96" stroke-width="1.2" opacity="0.34"/>
<path d="M753.1 558.1C751.3 567.6 745.2 593.7 742.5 614.8C739.8 635.8 738.5 663.3 736.9 684.2C735.3 705.1 733.7 722.3 732.9 740.1C732.1 758 735.4 774.9 732.1 791.3C728.8 807.8 718.7 822.4 713.1 838.8C707.4 855.3 701.4 879.4 698 889.9C694.6 900.5 695.1 891.2 692.7 902.2C690.3 913.3 687.7 939.1 683.8 956.3C679.9 973.5 674.8 989.9 669.4 1005.5C664 1021.1 656.8 1038.1 651.4 1049.9C645.9 1061.7 644.5 1066.8 636.5 1076.1C628.6 1085.4 609.2 1100.7 603.8 1105.6" fill="none" stroke="#f6e4da" stroke-width="1.1" opacity="0.28"/>
<path d="M753.2 558.3C751.4 567.8 745.2 594.4 742.5 615.6C739.8 636.9 738.6 664.6 737 685.6C735.5 706.7 733.9 724 733.2 741.9C732.5 759.7 736.2 776.4 733 792.8C729.8 809.3 719.6 824.1 713.9 840.5C708.2 856.9 702.2 881 698.9 891.4C695.5 901.7 696 891.8 693.6 902.7C691.2 913.6 688.5 939.5 684.6 956.7C680.6 973.9 675.4 990.3 669.9 1005.9C664.4 1021.5 657.1 1038.5 651.6 1050.2C646.1 1061.9 644.7 1066.9 636.7 1076.2C628.7 1085.5 609.3 1100.9 603.8 1105.8" fill="none" stroke="#9a5650" stroke-width="1.2" opacity="0.36"/>
<path d="M753.2 558.4C751.4 568.1 745.2 595.1 742.5 616.5C739.8 638 738.6 665.9 737.1 687.1C735.6 708.2 734.1 725.7 733.6 743.6C733 761.5 737.1 777.9 733.9 794.3C730.8 810.7 720.5 825.8 714.8 842.2C709.1 858.6 703.1 882.6 699.7 892.8C696.3 902.9 696.9 892.4 694.5 903.1C692.1 913.8 689.4 939.9 685.4 957.2C681.3 974.4 676 990.8 670.4 1006.4C664.8 1021.9 657.4 1038.8 651.8 1050.5C646.2 1062.1 644.9 1067.1 636.9 1076.3C628.9 1085.6 609.3 1101 603.8 1106" fill="none" stroke="#f3dccf" stroke-width="0.8" opacity="0.21"/>
<path d="M753.2 558.5C751.4 568.3 745.1 595.7 742.5 617.4C739.8 639.1 738.7 667.2 737.2 688.5C735.8 709.8 734.3 727.5 733.9 745.4C733.5 763.3 737.9 779.4 734.9 795.8C731.8 812.2 721.4 827.4 715.7 843.8C709.9 860.2 703.9 884.2 700.5 894.2C697.1 904.2 697.8 893 695.4 903.6C693 914.1 690.2 940.4 686.1 957.6C682 974.8 676.6 991.3 670.9 1006.8C665.2 1022.3 657.7 1039.2 652 1050.8C646.4 1062.4 645.1 1067.2 637.1 1076.4C629 1085.6 609.4 1101.2 603.8 1106.2" fill="none" stroke="#cf9a78" stroke-width="1.1" opacity="0.35"/>
<path d="M753.3 558.6C751.5 568.6 745.1 596.4 742.5 618.3C739.8 640.1 738.7 668.5 737.4 689.9C736 711.4 734.5 729.2 734.3 747.1C734 765 738.8 780.9 735.8 797.3C732.9 813.7 722.3 829.1 716.5 845.5C710.8 861.9 704.7 885.9 701.3 895.6C697.9 905.4 698.7 893.6 696.3 904C693.9 914.4 691.1 940.8 686.9 958C682.8 975.2 677.2 991.7 671.4 1007.2C665.6 1022.7 657.9 1039.5 652.2 1051.1C646.5 1062.6 645.3 1067.3 637.3 1076.5C629.2 1085.7 609.4 1101.4 603.8 1106.4" fill="none" stroke="#f6e4da" stroke-width="1.1" opacity="0.22"/>
<path d="M753.3 558.8C751.5 568.8 745.1 597 742.5 619.1C739.8 641.2 738.8 669.8 737.5 691.4C736.2 713 734.7 731 734.6 748.9C734.5 766.8 739.6 782.4 736.7 798.8C733.9 815.2 723.2 830.8 717.4 847.2C711.6 863.6 705.5 887.5 702.1 897C698.8 906.6 699.6 894.2 697.2 904.4C694.8 914.7 691.9 941.3 687.7 958.5C683.5 975.7 677.7 992.2 671.9 1007.7C666 1023.2 658.2 1039.9 652.4 1051.4C646.7 1062.9 645.5 1067.4 637.4 1076.6C629.3 1085.8 609.4 1101.6 603.8 1106.6" fill="none" stroke="#f6e4da" stroke-width="0.7" opacity="0.33"/>
<path d="M753.4 558.9C751.5 569.1 745.1 597.7 742.5 620C739.8 642.3 738.9 671.1 737.6 692.8C736.4 714.6 734.9 732.7 734.9 750.6C735 768.5 740.5 783.9 737.7 800.3C734.9 816.7 724 832.5 718.3 848.8C712.5 865.2 706.3 889.1 703 898.5C699.6 907.8 700.5 894.8 698.1 904.9C695.7 915 692.7 941.7 688.5 958.9C684.2 976.1 678.3 992.6 672.4 1008.1C666.4 1023.6 658.5 1040.2 652.7 1051.7C646.9 1063.1 645.8 1067.5 637.6 1076.7C629.5 1085.9 609.5 1101.7 603.8 1106.7" fill="none" stroke="#d496ac" stroke-width="0.9" opacity="0.43"/>
<path d="M753.4 559C751.6 569.3 745.1 598.4 742.5 620.9C739.9 643.4 738.9 672.3 737.7 694.3C736.5 716.2 735.1 734.5 735.3 752.4C735.4 770.3 741.3 785.4 738.6 801.8C735.9 818.1 724.9 834.2 719.1 850.5C713.3 866.9 707.1 890.8 703.8 899.9C700.4 909 701.4 895.4 699 905.3C696.5 915.2 693.6 942.1 689.2 959.3C684.9 976.5 678.9 993.1 672.9 1008.5C666.8 1024 658.7 1040.6 652.9 1052C647 1063.3 646 1067.7 637.8 1076.8C629.6 1086 609.5 1101.9 603.8 1106.9" fill="none" stroke="#f6e4da" stroke-width="1.1" opacity="0.43"/>
<path d="M753.4 559.1C751.6 569.6 745.1 599 742.5 621.8C739.9 644.5 739 673.6 737.9 695.7C736.7 717.8 735.4 736.2 735.6 754.1C735.9 772.1 742.2 786.9 739.6 803.3C736.9 819.6 725.8 835.8 720 852.2C714.2 868.5 708 892.4 704.6 901.3C701.2 910.2 702.3 896 699.9 905.8C697.4 915.5 694.4 942.6 690 959.8C685.6 977 679.5 993.6 673.4 1009C667.2 1024.4 659 1040.9 653.1 1052.3C647.2 1063.6 646.2 1067.8 638 1076.9C629.8 1086.1 609.5 1102.1 603.8 1107.1" fill="none" stroke="#a8645a" stroke-width="0.6" opacity="0.48"/>
</g>
<g clip-path="url(#hili)"><g filter="url(#soft4)"><path d="M596.8 1050C599 1041.9 608.5 1044.1 614.4 1045.6C620.3 1047.1 631.3 1052.9 632 1058.8C632.7 1064.7 623.9 1074.9 618.8 1080.8C613.7 1086.7 604.9 1099.1 601.2 1094C597.5 1088.9 594.6 1058.1 596.8 1050Z" fill="#a8554f" opacity="0.5"/><rect x="500" y="520" width="1" height="1" fill="#fff" opacity="0.01"/><rect x="890" y="1230" width="1" height="1" fill="#fff" opacity="0.01"/></g></g>
<g filter="url(#soft4)"><path d="M597.4 1099.6C599.1 1097.8 603.9 1098.4 606.7 1099.6C609.4 1100.7 613.5 1102.8 613.8 1106.7C614.1 1110.5 610.2 1117.9 608.4 1122.7C606.7 1127.4 604.6 1134.8 603.1 1135.1C601.6 1135.4 600.6 1128.6 599.6 1124.4C598.5 1120.3 597.2 1114.4 596.9 1110.2C596.5 1106.1 595.8 1101.3 597.4 1099.6Z" fill="#fbf6f3" opacity="0.95"/><rect x="500" y="520" width="1" height="1" fill="#fff" opacity="0.01"/><rect x="890" y="1230" width="1" height="1" fill="#fff" opacity="0.01"/></g>
<path d="M551.7 885.2C552.5 887 555.7 894.7 557.6 898.9C559.6 903 564 911.4 566 916C568 920.7 571.1 928.9 572.6 933.6C574.1 938.3 575.8 947.4 577 951.2C578.2 955 579.9 957 581.4 962C582.9 967 586 981.4 588 988.4C590.1 995.4 594.8 1008.4 596.8 1014.8C598.9 1021.3 602.2 1030.9 603.4 1036.8C604.6 1042.7 605.6 1052.9 605.6 1058.8C605.7 1064.7 604.8 1074.4 603.9 1080.8C602.9 1087.2 599.2 1101.3 598.8 1106.7C598.5 1112 600.9 1117.5 601.3 1120.9C601.8 1124.3 602.1 1130.9 602.2 1132.4" fill="none" stroke="#1b1817" stroke-width="1.9"/>
<path d="M750.9 551.1C750.2 551.5 747.3 550.8 745.9 553.9C744.5 557.1 742.2 568.7 740.3 574.8C738.5 580.9 734.6 592.9 732 599.8C729.4 606.7 723.6 619.7 720.9 626.2C718.1 632.7 716 638.8 711.1 648.5C706.2 658.2 689.1 688.7 684 699.2C678.9 709.7 675.4 720.7 672.8 727.2C670.2 733.7 666.6 739.6 664.4 748C662.2 756.4 658.1 778.8 656 790C654 801.2 650.7 820.8 649 832C647.3 843.2 644.5 862.8 643.4 874C642.3 885.2 641 907.2 640.6 916C640.3 924.8 640.6 932.4 640.8 940C641 947.6 642.1 964.2 642.1 973C642.2 981.8 641.7 997.2 641.3 1006C640.8 1014.8 640.3 1031.4 639.1 1039C637.8 1046.6 634.7 1057.6 632 1063.2C629.3 1068.8 622.6 1076.6 618.8 1080.8C615 1085.1 605.5 1093.2 603.4 1095.1" fill="none" stroke="#1b1817" stroke-width="1.9"/>
<path d="M751.7 552.5C751.2 554.6 748.8 563.9 748 567.8C747.2 571.7 746.2 578.2 745.6 581.7C745.1 585.2 744.1 591.5 743.9 594.2C743.8 597 744.2 600.9 744.8 602.6C745.3 604.3 746.6 606.7 748 607C749.3 607.4 753.3 606.1 754.9 605.4C756.6 604.6 760.4 601.1 760.5 601.5C760.6 601.8 756.9 606.7 755.6 608.2C754.3 609.6 752.2 610.6 750.8 612.6C749.4 614.6 746.4 620.1 745.2 623.4C744 626.8 741.9 634.1 741.4 637.4C741 640.6 741.2 645.7 741.7 647.8C742.3 649.9 744 652.5 745.6 652.9C747.2 653.4 751.5 651.9 753.5 651.3C755.6 650.6 761.1 647.6 761.2 648.2C761.3 648.8 756 653.7 754.2 655.4C752.5 657.1 749.7 658.8 748 661C746.3 663.2 743.3 668.8 741.7 672.1C740.2 675.5 737.3 682.3 736.4 686C735.5 689.7 734.8 697 735 699.9C735.3 702.9 737.1 706.5 738.7 708C740.2 709.5 744.6 711.3 746.6 711.3C748.6 711.4 754.5 706.2 754 708.3C753.4 710.4 744.9 723.4 742.3 727.2C739.7 731 735.6 732.2 734.4 736.8C733.2 741.4 732.5 756.8 733.3 762C734 767.2 737.6 773.6 740 776C742.5 778.4 751.8 776.2 751.8 779.9C751.8 783.7 743.1 797.1 740 804C737 811 731.8 824.5 728.8 832C725.8 839.5 720.2 852.5 717.6 860C715 867.5 711.5 880.6 709.2 888C707 895.5 702.4 911.2 700.8 916C699.3 920.8 699 918.1 697.6 924C696.2 929.9 692.6 951 690.4 960C688.2 969 683.4 983.8 680.8 991.2C678.2 998.6 674.1 1008.5 671.2 1015.2C668.3 1021.9 662.4 1035.2 659.2 1041.6C656 1048 651.8 1055.5 647.2 1063.2C642.6 1070.9 628.9 1092.6 624.4 1099.6C620 1106.5 616.4 1111.8 613.8 1115.6C611.2 1119.3 606.5 1125.6 604.9 1128C603.3 1130.4 602.3 1132.6 601.9 1133.3" fill="none" stroke="#1b1817" stroke-width="1.8"/>
<g filter="url(#soft1)"><path d="M524.2 854.4C526 853.7 529.7 858.8 533 863.2C536.3 867.6 540 874.9 544 880.8C548 886.7 553.5 891.8 557.2 898.4C560.9 905 563.4 912.7 566 920.4C568.6 928.1 573 940.2 572.6 944.6C572.2 949 566.4 950.9 563.8 946.8C561.2 942.8 560 928.3 557.2 920.4C554.5 912.5 551 904.3 547.3 899.5C543.6 894.7 538.8 894.6 535.2 891.8C531.6 889.1 528.2 887 526 883C523.8 879 522.3 872.4 522 867.6C521.7 862.8 522.4 855.1 524.2 854.4Z" fill="#8c8c8a" opacity="0.6"/><rect x="500" y="520" width="1" height="1" fill="#fff" opacity="0.01"/><rect x="890" y="1230" width="1" height="1" fill="#fff" opacity="0.01"/></g>
<g filter="url(#soft1)"><path d="M528.6 806C531.9 796.1 541.1 791 548.4 784C555.7 777 569.7 765.7 572.6 764.2C575.5 762.7 570 769.7 566 775.2C562 780.7 552.4 789.1 548.4 797.2C544.4 805.3 543.3 815.5 541.8 823.6C540.3 831.7 541.8 842.3 539.6 845.6C537.4 848.9 530.4 850 528.6 843.4C526.8 836.8 525.3 815.9 528.6 806Z" fill="#c9c9c7" opacity="0.5"/><rect x="500" y="520" width="1" height="1" fill="#fff" opacity="0.01"/><rect x="890" y="1230" width="1" height="1" fill="#fff" opacity="0.01"/></g>
<g filter="url(#soft1)"><path d="M566 940C567.7 938.5 574.3 937.8 577 942.2C579.8 946.6 583.2 963.1 582.5 966.4C581.8 969.7 575.2 964.6 572.6 962C570 959.4 568.2 954.7 567.1 951C566 947.3 564.4 941.5 566 940Z" fill="#8a8a88" opacity="0.6"/><rect x="500" y="520" width="1" height="1" fill="#fff" opacity="0.01"/><rect x="890" y="1230" width="1" height="1" fill="#fff" opacity="0.01"/></g>
<path d="M662.8 758.9C660.6 757.8 654.7 753.9 649.6 752.1C644.5 750.3 638.6 748.8 632 747.9C625.4 747 617.3 745.9 610 746.6C602.7 747.3 595.3 749.2 588 752.1C580.7 755 572.6 759.3 566 764.2C559.4 769.2 553.5 775.2 548.4 781.8C543.3 788.4 538.9 796.1 535.2 803.8C531.5 811.5 528.6 820.3 526.4 828C524.2 835.7 522.7 843.4 522 850C521.3 856.6 521.3 862.1 522 867.6C522.7 873.1 523.8 879.3 526.4 883C529 886.8 533.7 887.4 537.4 890.1C541.1 892.7 545.5 895.3 548.4 898.9C551.3 902.4 552.8 906.6 555 911.6C557.2 916.7 559.8 923 561.6 929.2C563.4 935.5 565.6 947.2 566 949C566.4 950.8 563.4 939.3 563.8 940C564.2 940.7 566.4 949.5 568.2 953.2C570 956.9 572.5 959.4 574.8 962C577.1 964.6 580.7 967.9 581.8 969" fill="none" stroke="#1b1817" stroke-width="2" stroke-linecap="round" stroke-linejoin="round"/>
<path d="M537.4 890.1 L526.4 885.2" fill="none" stroke="#1b1817" stroke-width="1.2" stroke-linecap="round" stroke-linejoin="round"/>
<path d="M572.6 957.6C573.3 958.7 575 962.4 577 964.2C579 966 583.4 967.5 584.7 968.2" fill="none" stroke="#1b1817" stroke-width="1" stroke-linecap="round" stroke-linejoin="round"/>
<path d="M581.4 980.9C580.7 981.6 578.1 982 577 985.1C575.9 988.2 576.6 994.5 574.8 999.4C573 1004.4 569.3 1010.8 566 1014.8C562.7 1018.8 558.7 1022.8 555 1023.6C551.3 1024.4 547.3 1020 544 1019.6C540.7 1019.3 538.9 1020.7 535.2 1021.4C531.5 1022.1 525.7 1021 522 1023.6C518.3 1026.2 515.4 1031.7 513.2 1036.8C511 1041.9 508.8 1048.5 508.8 1054.4C508.8 1060.3 510.3 1066.5 513.2 1072C516.1 1077.5 522.4 1081.5 526.4 1087.4C530.4 1093.3 534.1 1100.2 537.4 1107.2C540.7 1114.2 543.1 1118.8 546.2 1129.2C549.3 1139.7 551.7 1156.4 556 1170C560.3 1183.6 569.3 1204 572 1210.8" fill="none" stroke="#1b1817" stroke-width="1.9" stroke-linecap="round" stroke-linejoin="round"/>
<path d="M537 1026.2C538.1 1026.6 541.7 1028.3 544 1028.4C546.4 1028.6 550.5 1027.9 551 1027.1C551.6 1026.3 549.2 1024.3 547.3 1023.6C545.4 1022.9 540.9 1023.2 539.6 1023.2" fill="none" stroke="#1b1817" stroke-width="1.1" stroke-linecap="round" stroke-linejoin="round"/>
<g filter="url(#soft1)"><path d="M537.4 1024.7C539.2 1024.4 549 1025.6 550.6 1026.2C552.3 1026.9 549.1 1028.2 547.3 1028.4C545.5 1028.7 541.3 1028.6 539.6 1028C538 1027.4 535.6 1025 537.4 1024.7Z" fill="#777" opacity="0.7"/><rect x="500" y="520" width="1" height="1" fill="#fff" opacity="0.01"/><rect x="890" y="1230" width="1" height="1" fill="#fff" opacity="0.01"/></g>
<path d="M604.9 1042.7C603.6 1045.3 598.7 1053 596.9 1058.7C595.1 1064.3 594.4 1070.8 594.2 1076.4C594.1 1082.1 595.1 1087.7 596 1092.4C596.9 1097.2 599 1102.8 599.6 1104.9" fill="none" stroke="#1b1817" stroke-width="1.6" stroke-linecap="round" stroke-linejoin="round"/>
<path d="M601.9 1133.3C601.8 1136.3 600.5 1143.7 601.3 1151.1C602.1 1158.5 604.4 1167.9 606.7 1177.8C609 1187.7 613.8 1205.2 615.2 1210.7" fill="none" stroke="#1b1817" stroke-width="1.9" stroke-linecap="round" stroke-linejoin="round"/>
<g filter="url(#soft)"><path d="M513.2 1039C515.6 1035.3 522 1029.8 524.2 1032.4C526.4 1035 524.9 1046.3 526.4 1054.4C527.9 1062.5 533.4 1076.4 533 1080.8C532.6 1085.2 527.4 1082.6 524.2 1080.8C521 1079 516 1074.2 513.6 1069.8C511.3 1065.4 510 1059.5 509.9 1054.4C509.8 1049.3 510.8 1042.7 513.2 1039Z" fill="#b3b3b1" opacity="0.45"/><rect x="500" y="520" width="1" height="1" fill="#fff" opacity="0.01"/><rect x="890" y="1230" width="1" height="1" fill="#fff" opacity="0.01"/></g>
<g filter="url(#soft)"><path d="M552.8 1036.8C554.8 1033.5 561.6 1031.7 563.8 1034.6C566 1037.5 566 1047.4 566 1054.4C566 1061.4 565.6 1073.5 563.8 1076.4C562 1079.3 557 1075.7 555 1072C553 1068.3 552.1 1060.3 551.7 1054.4C551.3 1048.5 550.8 1040.1 552.8 1036.8Z" fill="#9a9a98" opacity="0.45"/><rect x="500" y="520" width="1" height="1" fill="#fff" opacity="0.01"/><rect x="890" y="1230" width="1" height="1" fill="#fff" opacity="0.01"/></g>
<g filter="url(#soft)"><path d="M530.8 1080.8C531.9 1078.6 539.6 1085.9 544 1094C548.4 1102.1 553.5 1118.2 557.2 1129.2C560.9 1140.2 565.9 1154.9 566 1160C566.1 1165.2 560.6 1164.8 557.6 1160C554.7 1155.3 551.8 1140.2 548.4 1131.4C545 1122.6 540.3 1115.7 537.4 1107.2C534.5 1098.8 529.7 1083 530.8 1080.8Z" fill="#c5c5c3" opacity="0.45"/><rect x="500" y="520" width="1" height="1" fill="#fff" opacity="0.01"/><rect x="890" y="1230" width="1" height="1" fill="#fff" opacity="0.01"/></g>
<g filter="url(#soft)"><path d="M592.4 1094C593.3 1089.6 598.6 1099.9 600.1 1107.2C601.6 1114.6 601.3 1129.2 601.2 1138C601.1 1146.8 600.7 1156.4 599.4 1160C598.2 1163.7 594.3 1164.4 593.5 1160C592.7 1155.6 594.8 1144.6 594.6 1133.6C594.4 1122.6 591.5 1098.4 592.4 1094Z" fill="#b9b9b7" opacity="0.45"/><rect x="500" y="520" width="1" height="1" fill="#fff" opacity="0.01"/><rect x="890" y="1230" width="1" height="1" fill="#fff" opacity="0.01"/></g>
<g filter="url(#soft)"><path d="M588 1045.6C590.2 1039.4 599.7 1040.5 601.2 1043.4C602.7 1046.3 597.8 1056.2 596.8 1063.2C595.8 1070.2 596.5 1082.3 595 1085.2C593.6 1088.1 589.2 1087.4 588 1080.8C586.8 1074.2 585.8 1051.8 588 1045.6Z" fill="#b9b9b7" opacity="0.5"/><rect x="500" y="520" width="1" height="1" fill="#fff" opacity="0.01"/><rect x="890" y="1230" width="1" height="1" fill="#fff" opacity="0.01"/></g>
<path d="M691.6 955.2C692.8 957.2 698 962.8 698.8 967.2C699.6 971.6 696.2 976.8 696.4 981.6C696.6 986.4 698.6 990.8 700 996C701.4 1001.2 701.6 1007.2 704.8 1012.8C708 1018.4 713.2 1025.6 719.2 1029.6C725.2 1033.6 735.4 1034.4 740.8 1036.8C746.2 1039.2 750.4 1041.6 751.6 1044C752.8 1046.4 750 1049.6 748 1051.2C746 1052.8 740.8 1052 739.6 1053.6C738.4 1055.2 738.6 1058.8 740.8 1060.8C743 1062.8 749.6 1063.5 752.8 1065.6C756 1067.7 758.8 1072 760 1073.3" fill="none" stroke="#1b1817" stroke-width="1.3" stroke-linecap="round" stroke-linejoin="round"/>
<path d="M649.6 1063.2C650 1066.4 650 1075.6 652 1082.4C654 1089.2 657.6 1097.6 661.6 1104C665.6 1110.4 669.6 1116.7 676 1120.8C682.4 1124.9 692.4 1125.6 700 1128.5C707.6 1131.4 715.6 1137 721.6 1138.1C727.6 1139.2 730.4 1137.3 736 1135.2C741.6 1133.1 749.6 1128.7 755.2 1125.6C760.8 1122.5 765.9 1117.8 769.6 1116.5C773.3 1115.1 776 1117.3 777.3 1117.4" fill="none" stroke="#1b1817" stroke-width="1.5" stroke-linecap="round" stroke-linejoin="round"/>
<path d="M790 1117.4C791.4 1117.8 795.6 1118.6 798.4 1119.8C801.2 1121 805.6 1123.8 807 1124.6" fill="none" stroke="#1b1817" stroke-width="1.3" stroke-linecap="round" stroke-linejoin="round"/>
<path d="M649.6 1063.2C650.4 1061.6 652.8 1056.3 654.4 1053.6C656 1050.9 653.6 1046.5 659.2 1046.9C664.8 1047.3 683.2 1054.5 688 1056" fill="none" stroke="#1b1817" stroke-width="1.3" stroke-linecap="round" stroke-linejoin="round"/>
<path d="M755.2 1099.2C756.8 1100 762.2 1101.5 764.8 1104C767.4 1106.5 769.8 1112.4 770.8 1114.1" fill="none" stroke="#1b1817" stroke-width="1.1" stroke-linecap="round" stroke-linejoin="round"/>
<path d="M680.8 996C682 998.8 685.2 1008.8 688 1012.8C690.8 1016.8 696 1018.8 697.6 1020" fill="none" stroke="#1b1817" stroke-width="1" stroke-linecap="round" stroke-linejoin="round"/>
<path d="M688 979.2C688.5 982 689.6 990.4 690.9 996C692.2 1001.6 694.9 1010 695.7 1012.8" fill="none" stroke="#1b1817" stroke-width="1" stroke-linecap="round" stroke-linejoin="round"/>
<ellipse cx="722.8" cy="913.2" rx="13" ry="4.8" transform="rotate(-18 722.8 913.2)" fill="#fff" stroke="#1b1817" stroke-width="1.5"/>
<ellipse cx="725.2" cy="940.8" rx="12" ry="6.2" transform="rotate(-14 725.2 940.8)" fill="#fff" stroke="#1b1817" stroke-width="1.5"/>
<ellipse cx="727.6" cy="982.8" rx="12" ry="5.3" transform="rotate(-8 727.6 982.8)" fill="#fff" stroke="#1b1817" stroke-width="1.5"/>
<ellipse cx="732.4" cy="1011.6" rx="11" ry="5" transform="rotate(-10 732.4 1011.6)" fill="#fff" stroke="#1b1817" stroke-width="1.5"/>
<ellipse cx="721.8" cy="893.6" rx="14" ry="4.8" transform="rotate(-20 721.8 893.6)" fill="#fff" stroke="#1b1817" stroke-width="1.5"/>
<ellipse cx="723.2" cy="913.2" rx="14" ry="5.3" transform="rotate(-18 723.2 913.2)" fill="#fff" stroke="#1b1817" stroke-width="1.5"/>
<path d="M537.4 890.1C539.8 891.5 550 897.2 555 900.6C560 904.1 569.8 911.6 574.8 916C579.8 920.4 587.7 928.9 592.4 933.6C597.1 938.3 605.9 947.1 610 951.2C614.1 955.3 617.3 958.4 623.2 964.2C629.1 970 646.4 987.4 654 995C661.6 1002.6 679.1 1020.3 680.4 1021.4C681.7 1022.5 663 1002.4 664 1003.2C665 1004 681.6 1020.8 688 1027.2C694.4 1033.6 705.6 1045.1 712 1051.2C718.4 1057.3 730.2 1067.7 736 1072.8C741.8 1077.9 751.3 1086 755.2 1089.6C759.1 1093.2 763.9 1098.3 765.3 1099.7" fill="none" stroke="#1b1817" stroke-width="3.8" stroke-linecap="round"/>
<path d="M537.4 890.1C539.8 891.5 550 897.2 555 900.6C560 904.1 569.8 911.6 574.8 916C579.8 920.4 587.7 928.9 592.4 933.6C597.1 938.3 605.9 947.1 610 951.2C614.1 955.3 617.3 958.4 623.2 964.2C629.1 970 646.4 987.4 654 995C661.6 1002.6 679.1 1020.3 680.4 1021.4C681.7 1022.5 663 1002.4 664 1003.2C665 1004 681.6 1020.8 688 1027.2C694.4 1033.6 705.6 1045.1 712 1051.2C718.4 1057.3 730.2 1067.7 736 1072.8C741.8 1077.9 751.3 1086 755.2 1089.6C759.1 1093.2 763.9 1098.3 765.3 1099.7" fill="none" stroke="#b8b8b6" stroke-width="1" stroke-linecap="round"/>
<path d="M687.2 1006C688.1 1007.3 691.5 1012.9 694 1016C696.5 1019.1 703.1 1025.8 706 1029C708.9 1032.2 712 1035.9 716 1040C720 1044.1 731.2 1055.2 736 1060C740.8 1064.8 748.8 1073.3 752 1076C755.2 1078.7 758.9 1079.5 760 1080" fill="none" stroke="#1b1817" stroke-width="3" stroke-linecap="round"/>
<path d="M687.2 1006C688.1 1007.3 691.5 1012.9 694 1016C696.5 1019.1 703.1 1025.8 706 1029C708.9 1032.2 712 1035.9 716 1040C720 1044.1 731.2 1055.2 736 1060C740.8 1064.8 748.8 1073.3 752 1076C755.2 1078.7 758.9 1079.5 760 1080" fill="none" stroke="#c9c9c7" stroke-width="0.9" stroke-linecap="round"/>
<path d="M743.2 1077.6C745.2 1079.6 751.6 1087.2 755.2 1089.6C758.8 1092 763.2 1091.6 764.8 1092" fill="none" stroke="#444" stroke-width="0.8" opacity="0.8"/>
<path d="M745.6 1084.8C747.6 1086 753.6 1090.4 757.6 1092C761.6 1093.6 767.6 1094 769.6 1094.4" fill="none" stroke="#444" stroke-width="0.8" opacity="0.8"/>
<path d="M748 1092 L760 1096.8" fill="none" stroke="#444" stroke-width="0.8" opacity="0.8"/>
<g font-family="'Liberation Sans', sans-serif" font-size="14.6" fill="#1a1a1a">
<text x="65.3" y="47.2">14</text><text x="94.2" y="47.2">Color Gallery</text>
</g>
<g font-family="'Liberation Serif', serif" font-size="16" fill="#1c1c1c">
<text x="345" y="502.6">The liver—visceral surface</text>
<text x="345" y="523.6">of the liver (page 151)</text>
<text x="617.5" y="387">The jejunum and ileum—</text>
<text x="617.5" y="408" textLength="135">the ileum (page 157)</text>
<text x="462" y="678.6">Flexors of the hip</text>
<text x="462" y="699.6">(page 217)</text>
<text x="155" y="1078.8" textLength="215">Lower limb: the knee and ankle—</text>
<text x="155" y="1099.8" textLength="213.5">posterior aspect of the knee joint</text>
<text x="155" y="1120.8">(page 193)</text>
</g>

</svg></body></html>
